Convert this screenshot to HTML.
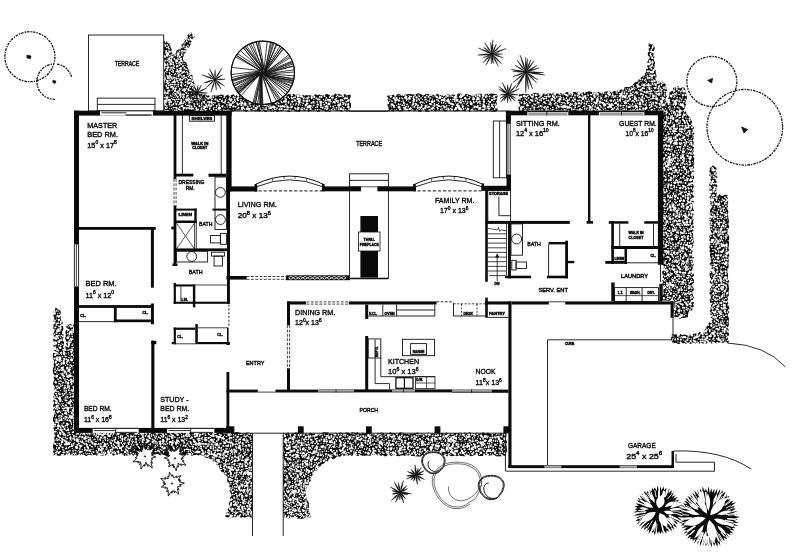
<!DOCTYPE html>
<html><head><meta charset="utf-8"><title>Floor plan</title>
<style>
html,body{margin:0;padding:0;background:#fff}
svg{display:block}
text{font-family:"Liberation Sans",sans-serif;fill:#111;stroke:#111;stroke-width:.42px}
svg{filter:grayscale(1) blur(.32px)}
</style></head><body>
<svg width="800" height="555" viewBox="0 0 800 555">
<rect width="800" height="555" fill="#fff"/>
<path d="M164.7 40.7L166.7 41.3L168 43.3L170.9 43.9L170.2 45.9L170.9 47.7L171.8 49.4L171.1 51.4L172.4 53.1L171.9 55.1L171.3 56.4L172.5 55L174.3 54.1L176.1 53.3L176.2 50.9L177.5 49.7L179.4 48.5L181.1 47.3L181.5 45.2L182.3 43.4L184.5 42.5L183.9 39.7L186.5 39.1L186.7 36.7L187.7 35L189 33.4L191.3 32.2L192.3 34.7L195.1 36.4L193.4 37.5L192.4 39.1L191.9 41L190.7 42.4L190.6 44.6L189.7 46.2L188.5 47.7L186.6 48.8L186.2 50.9L185.6 52.8L184.1 54.3L183.5 56.2L182.9 57.8L183.1 60L184.3 61.4L186.3 62.5L186.8 64.5L187.9 66L187.9 68.2L189 69.9L190.6 71.4L189.9 73.8L192.4 75L192.5 77.1L192.4 79.1L194.1 80.7L193.7 82.7L195 84.3L194 86.4L194.1 88.3L194.9 90.1L196.4 91.7L198.8 91.6L200.2 93.4L202.1 94.2L203.8 95L204.1 97L203.3 99L203 101L204.1 103L203.6 105L205 107L203.6 109L204 110.7L202.1 109.9L200.2 110.3L198.4 111.5L196.5 111.3L194.6 110.6L192.7 112.1L190.8 111.1L189 111.7L187.1 111.8L185.2 112L183.3 110.4L181.4 111.8L179.5 111.6L177.7 111.2L175.8 110.2L173.9 111.9L172 111.1L170.1 110.9L168.3 110.2L166.4 110.3L165.3 111L164 109.2L164.3 107.3L164.2 105.5L165.3 103.6L165.5 101.8L163.7 99.9L163.8 98.1L163.9 96.3L163.9 94.4L164.5 92.6L164.7 90.7L164 88.9L163.4 87.1L164.3 85.2L164.2 83.4L164.6 81.5L165.5 79.7L164.9 77.8L164.5 76L164.8 74.2L164.9 72.3L163.5 70.5L165.4 68.6L165.1 66.8L165.3 64.9L165.2 63.1L164.3 61.3L164.3 59.4L163.6 57.6L164.8 55.7L163.5 53.9L163.5 52.1L163.9 50.2L163.8 48.4L164.1 46.5L163.5 44.7L163.4 42.8Z" fill="#0b0b0b"/>
<path d="M189.7 37.5h.01M190.9 36.4h.01M184.6 40.7h.01M183.3 42.7h.01M185.1 42.6h.01M187.3 41.8h.01M182.8 44.1h.01M184.6 43.8h.01M187.7 45.3h.01M181.7 46.8h.01M188.3 45.9h.01M168.4 50.9h.01M179 49.8h.01M171 52h.01M177.8 52.2h.01M166.4 54.6h.01M171.2 54.6h.01M184.1 53.9h.01M173.4 56.1h.01M182 55.3h.01M167.1 58.5h.01M170.3 57.5h.01M177.7 58.3h.01M179.2 57.5h.01M165.3 60.4h.01M174.3 59.8h.01M175.7 60.1h.01M178.6 59.2h.01M165.6 61.1h.01M175.5 62.1h.01M182.9 61.7h.01M165.2 63.7h.01M167.6 63.3h.01M173.3 63.8h.01M178.9 63.3h.01M180.4 63.7h.01M182.7 63.2h.01M184.3 63.5h.01M185.2 65.3h.01M166 67.6h.01M168.8 67.7h.01M177.8 66.4h.01M181.1 67.5h.01M167.1 69.3h.01M170.4 69.1h.01M172.2 69.4h.01M174.6 68.4h.01M179.2 68.4h.01M184.1 68.9h.01M187.9 69.9h.01M165.4 71.6h.01M171.6 71.4h.01M182 71.7h.01M186.6 71.7h.01M166.9 72.2h.01M169.2 72.6h.01M175.5 73.5h.01M177.8 73.7h.01M185.3 72.6h.01M166.7 75.3h.01M169.4 74.8h.01M171.6 74.5h.01M176 74.1h.01M181.8 75.5h.01M165.8 77.1h.01M173.1 76h.01M177 76.1h.01M169.3 78.6h.01M178.2 78.4h.01M180.7 78.4h.01M183.4 78.3h.01M187.2 78.3h.01M189.5 79.4h.01M191.8 78.4h.01M172.1 79.6h.01M185.3 79.7h.01M169.5 82.4h.01M175.2 82.6h.01M166.6 85h.01M177 84.7h.01M183.2 83.9h.01M185.7 84.5h.01M190.3 85h.01M166 85.4h.01M174.2 86.1h.01M176.8 86.6h.01M178.4 86.7h.01M166.9 88.6h.01M176.3 88.1h.01M181.8 88h.01M184.1 88.6h.01M190.3 87.5h.01M164.8 90h.01M172.1 90.5h.01M173 89.4h.01M180.2 89.3h.01M187.8 89.4h.01M165.5 91.8h.01M170 91h.01M173.5 92.5h.01M179.2 92.1h.01M180.6 92.2h.01M184.3 91.4h.01M185.4 92.5h.01M188 91.5h.01M191.8 91.8h.01M168.9 93.9h.01M172.1 94.1h.01M173.1 93.9h.01M188.4 93.5h.01M191.3 93.6h.01M193.8 94.3h.01M196 93.5h.01M165.5 95.2h.01M167.6 96h.01M172 96.3h.01M174.2 95.6h.01M186.6 96.1h.01M190.9 96.2h.01M192.4 96.5h.01M195.9 95.5h.01M169.1 97.2h.01M171.8 98.4h.01M173.8 97.6h.01M175.3 97.1h.01M180.5 97.7h.01M184.6 97.2h.01M186.9 97.3h.01M191.2 97.1h.01M183.5 98.8h.01M189.6 99.3h.01M167 101.4h.01M174.7 102h.01M175.6 101.3h.01M183.1 101h.01M186.3 101.3h.01M196.2 101.5h.01M199.7 100.7h.01M169.2 103.1h.01M169.7 104h.01M175.7 103.2h.01M176.9 103.6h.01M179.9 103.2h.01M185.6 103h.01M188.6 102.9h.01M192 102.6h.01M199.3 103h.01M173.1 104.5h.01M178.2 104.7h.01M179.8 104.4h.01M185.4 104.4h.01M191 105.3h.01M194.2 105.5h.01M194.8 104.5h.01M165.3 107.6h.01M167.5 107.6h.01M170.1 106.3h.01M174.7 107.5h.01M185 107.4h.01M196.6 107.8h.01M201.6 107.1h.01M166.7 108.1h.01M169.8 108.8h.01M171.6 108.6h.01M172.9 109.8h.01M176.4 109.8h.01M183.3 109.2h.01M200.8 108.9h.01M165.6 110.7h.01M183.3 110.2h.01M200.7 110.5h.01" fill="none" stroke="#fff" stroke-width="1.2" stroke-linecap="round"/>
<path d="M190.6 33.2h.01M189.6 34.4h.01M193.1 35.6h.01M187.2 36.9h.01M193.3 36.2h.01M187.9 39h.01M190.5 38.7h.01M186.5 41.1h.01M188.9 39.8h.01M165.7 41.9h.01M189.8 43h.01M165 44.5h.01M167.3 44.8h.01M170.1 44.8h.01M165.3 46h.01M168.4 46.8h.01M186.4 46.5h.01M166.8 47.5h.01M168.9 48.7h.01M179.9 48.7h.01M181.6 47.5h.01M185.1 48.6h.01M184 50.9h.01M185.6 51.1h.01M165.9 52.9h.01M166.5 52.5h.01M179.7 51.5h.01M182 52.8h.01M184 51.5h.01M174.9 54.1h.01M178.8 53.2h.01M181.8 54.8h.01M169.8 55.5h.01M175.1 55.5h.01M177.6 56.4h.01M169.2 58.2h.01M174.2 58.6h.01M181.2 58.5h.01M167.2 60.5h.01M169.1 61.7h.01M173 62.4h.01M170.3 63.1h.01M171.5 64.1h.01M176.7 63.3h.01M167.8 64.8h.01M170.3 64.6h.01M173.4 64.5h.01M174.1 65.9h.01M177.2 65.5h.01M179.4 65.2h.01M181.3 64.4h.01M183.1 65.8h.01M173.4 67.8h.01M176.8 66.7h.01M183 66.5h.01M184.4 67.9h.01M187.6 66.5h.01M167.5 68.2h.01M177.2 69.3h.01M186.1 69.2h.01M169.9 70.1h.01M173.1 70.5h.01M176.4 71.4h.01M184.2 71.4h.01M189.8 71.2h.01M169.7 73.2h.01M173.2 72.1h.01M182 73.1h.01M183.2 72.2h.01M187.5 72.5h.01M174.6 74.4h.01M178.7 75.1h.01M184.3 75.5h.01M187.6 74.3h.01M189.5 75.2h.01M190.9 74.2h.01M167.7 76.2h.01M174.7 77.6h.01M178.7 76.5h.01M182 77h.01M183.5 76h.01M186.2 77.4h.01M188.4 76.5h.01M165 78.8h.01M173.8 77.8h.01M184.5 77.7h.01M166.8 80.4h.01M170.1 80.2h.01M174.4 80.1h.01M182 79.8h.01M182.7 79.6h.01M190.7 79.9h.01M166.5 82.3h.01M172.3 82.3h.01M178.4 82.7h.01M181.7 82.8h.01M185.4 82.1h.01M187.4 81.8h.01M191.1 82.4h.01M172.9 84.5h.01M175.1 84.6h.01M178.4 84.8h.01M181.2 84.9h.01M166.4 86.6h.01M168.9 85.3h.01M172.3 86.6h.01M180.8 85.5h.01M181.7 85.9h.01M185 85.5h.01M187.1 86.4h.01M189.6 87h.01M190.9 85.4h.01M175.5 88.4h.01M179.7 88.8h.01M186.4 88.5h.01M188.7 88.8h.01M192.7 87.8h.01M168.2 90.6h.01M175.2 90.1h.01M179 90.7h.01M182.6 90.2h.01M190.4 90.5h.01M194.3 89.1h.01M167.7 92.2h.01M191 91h.01M198.5 92.6h.01M178.3 93.2h.01M182.2 94.4h.01M186.5 93.2h.01M198.5 94.6h.01M170.7 95.8h.01M176.4 95.5h.01M179.9 95h.01M180.8 96.2h.01M183.5 96.3h.01M194.4 95.9h.01M202.4 95.9h.01M164.7 97.6h.01M182.9 97.5h.01M188.8 98.2h.01M195.5 96.7h.01M200.4 96.9h.01M166.2 99.9h.01M172.9 99.4h.01M174.8 99.9h.01M176.9 99.3h.01M178.9 99.2h.01M181.1 99.9h.01M195 99.5h.01M196.7 99.8h.01M199 99.1h.01M201.1 98.7h.01M169.1 102.2h.01M177.6 101.6h.01M181.2 101.6h.01M184.3 101.9h.01M189.3 101.4h.01M191.1 100.6h.01M192.7 100.6h.01M196.9 101.8h.01M202.9 101.5h.01M166 102.4h.01M173.5 103.8h.01M183.2 103.3h.01M189.8 102.7h.01M194.1 103.8h.01M197.3 103.8h.01M201.9 103.2h.01M165.3 104.9h.01M166.8 105.8h.01M169.5 104.7h.01M171.9 105.2h.01M176.3 104.4h.01M187.2 105.4h.01M197.6 104.3h.01M199.4 105.7h.01M201.7 105h.01M173.5 107.5h.01M179.6 107.4h.01M181.3 106.2h.01M188.1 107.9h.01M189.7 106.2h.01M191.8 106.7h.01M194.8 106.5h.01M199.6 106.3h.01M165.7 108.2h.01M178.1 108.8h.01M179.4 109.7h.01M193.1 108.7h.01M196.2 108.4h.01M201.8 109h.01M167.5 110.7h.01M174.8 110.4h.01M176.9 110.5h.01M180.8 110.4h.01" fill="none" stroke="#fff" stroke-width="1.7" stroke-linecap="round"/>
<path d="M185.8 38.9h.01M191.3 39.9h.01M183.7 46.4h.01M186.8 48.2h.01M166.2 51h.01M181.9 50.8h.01M169.7 51.7h.01M165 56.7h.01M179.8 56.7h.01M169 59.5h.01M171.1 60.2h.01M180.4 59.3h.01M171.4 61.5h.01M179.4 62.3h.01M181.3 61.1h.01M165.7 65.1h.01M168.2 67.2h.01M171.4 67.7h.01M180.8 68.4h.01M166.9 70.2h.01M177.7 71.1h.01M178.7 72.2h.01M189.8 73.7h.01M180.1 74.6h.01M190.8 77.2h.01M168.1 78h.01M171.7 78h.01M176.4 78.6h.01M167.7 81.1h.01M177.3 80.8h.01M179.9 79.7h.01M188.5 80.2h.01M192.8 80.8h.01M181.2 82.4h.01M189.2 83h.01M168 83.4h.01M170.7 84.6h.01M188.1 83.4h.01M167.9 87.9h.01M171.3 87.2h.01M173.4 88.2h.01M169 90.5h.01M188.8 90.7h.01M174.8 91.1h.01M177.3 91.8h.01M164.8 93.1h.01M167.3 93.2h.01M175.5 93.9h.01M180.2 94.1h.01M183.8 94.5h.01M187.7 95.5h.01M198.2 96.5h.01M201.3 96.2h.01M177.7 96.8h.01M193.9 96.9h.01M202.4 97.7h.01M168.3 99.9h.01M169.9 100.1h.01M185.9 99.6h.01M191.5 99.5h.01M170.9 102h.01M202.5 103.6h.01M182.3 105.9h.01M189.3 105.5h.01M176.3 107.8h.01M183.6 107.8h.01M203.5 107.2h.01M184 108h.01M186.5 108.3h.01M189.8 108.3h.01M191.7 108.6h.01M198 109.5h.01" fill="none" stroke="#fff" stroke-width="2.25" stroke-linecap="round"/>
<path d="M167.9 53.8h.01M177.9 54.5h.01M167.2 55.4h.01M171.8 57.3h.01M176.7 60.8h.01M180.4 70.6h.01M169.9 76.4h.01M174.4 82.1h.01M192.1 84.4h.01M194 85.8h.01M184.5 89.9h.01M194 91.6h.01M200 93.8h.01M166.8 97.6h.01M198.2 96.8h.01M187.6 100h.01M203.3 99.6h.01M165.1 101.2h.01M180.8 103h.01M196.9 110.4h.01" fill="none" stroke="#fff" stroke-width="2.9" stroke-linecap="round"/>
<path d="M203 94.9L205.4 94.3L207.6 95.7L210 95.2L211.8 95.7L213.6 95.3L215.5 95.5L217.3 95.6L219.1 95.2L220.9 94.6L222.7 94.7L224.6 96.3L226.4 95.5L228.2 94.5L230 96.2L231.8 94.8L233.6 94.4L235.5 95.4L237.3 94.8L239.1 95.3L240.9 95.4L242.7 94.7L244.5 95.4L246.4 94.4L248.2 95.3L250 95.4L251.8 94.3L253.6 95L255.4 94.2L257.3 95L259.1 95.9L260.9 95.2L262.7 95.6L264.5 95.7L266.4 94.2L268.2 96.2L270 95.6L271.8 94.2L273.6 95.8L275.5 94.8L277.3 94.3L279.1 96L280.9 95.1L282.7 95.6L284.5 94.2L286.4 95.6L288.2 94L290 94.3L291.8 94.6L293.6 93.8L295.5 95.1L297.3 94.2L299.1 94.4L300.9 95.3L302.7 94.7L304.6 95.7L306.4 95.1L308.2 95.6L310 94.9L311.8 95.7L313.6 95.6L315.4 94L317.3 95.3L319.1 94.4L320.9 95.3L322.7 95.1L324.6 95.4L326.4 93.8L328.2 94.4L330 95.2L331.8 95.6L333.6 95.1L335.4 93.6L337.3 94.8L339.1 93.7L340.9 94.7L342.7 95.2L344.5 93.7L346.4 95.5L348.2 94.9L350.5 94.5L350.7 96.3L350.1 98.2L349.3 100L349.8 101.8L350.9 103.7L351.1 105.5L350.9 107.3L349.3 109.2L350 111.7L348.2 110.9L346.4 111.5L344.6 110.6L342.7 111.3L340.9 111.8L339.1 110.2L337.3 110.9L335.5 110.6L333.7 110.3L331.9 110L330 112.1L328.2 111.3L326.4 111.8L324.6 111L322.8 110.2L321 110.3L319.1 112L317.3 111.7L315.5 110.3L313.7 110.6L311.9 111.2L310.1 111.1L308.3 111.8L306.4 110.2L304.6 111.2L302.8 110.2L301 110.8L299.2 111.9L297.4 111.4L295.6 111.6L293.7 110.1L291.9 110.8L290.1 112L288.3 111.7L286.5 111.3L284.7 111.1L282.9 110.8L281 111.2L279.2 111.3L277.4 112.1L275.6 110.8L273.8 111.4L272 112.1L270.1 111.1L268.3 109.9L266.5 112L264.7 111.8L262.9 110.6L261.1 111.5L259.3 111.5L257.4 111L255.6 111.5L253.8 110.8L252 110.9L250.2 110L248.4 109.9L246.6 112L244.7 110.9L242.9 110.4L241.1 110.2L239.3 110.4L237.5 110.7L235.7 110.7L233.9 111.3L232 111.5L230.2 110.4L228.4 110.2L226.6 110L224.8 110.6L223 111.4L221.1 110.4L219.3 110.5L217.5 111L215.7 110.7L213.9 111.3L212.1 110.9L210.3 111.2L208.4 112L206.6 111.4L204.8 111.4L204.1 111L203 109L202.7 107L202.4 105L202.4 103L202.7 101L202.2 99L201.9 97Z" fill="#0b0b0b"/>
<path d="M205.9 95.2h.01M212.8 95.9h.01M225 95.9h.01M262.3 95.3h.01M279.5 95.1h.01M296 95.6h.01M311.2 94.9h.01M322.3 95.6h.01M343.7 95.8h.01M205.6 96.5h.01M215.9 96.2h.01M219.9 96.4h.01M221.3 96.5h.01M226.3 98h.01M229.6 97.9h.01M230.4 96.7h.01M254.5 97.5h.01M259.7 97.4h.01M266.4 97.4h.01M272 97.2h.01M276.4 97.8h.01M284.2 97.8h.01M297.5 96.9h.01M304.1 97.4h.01M336.5 96.4h.01M347.2 96.8h.01M204.6 98.8h.01M211.4 100h.01M217.3 100.1h.01M222.3 98.8h.01M228.3 99.1h.01M238.7 100.1h.01M245.8 98.4h.01M258.7 98.7h.01M266.6 100.1h.01M272.8 98.4h.01M282.2 98.7h.01M289.4 98.3h.01M294 99.6h.01M300.6 99.2h.01M305.9 98.6h.01M313.9 99.4h.01M316.2 98.6h.01M323.4 99.7h.01M332.2 99.1h.01M213.6 102.3h.01M228.8 102h.01M240.5 101.6h.01M243.3 100.4h.01M244.9 102.2h.01M257.9 100.8h.01M262.9 102.1h.01M276.8 101.8h.01M278 102.2h.01M291.6 101.7h.01M297.1 101.8h.01M304.4 101h.01M312.8 101.6h.01M324.2 101h.01M329.2 101.2h.01M340.8 101.7h.01M209 103.7h.01M211.2 103.8h.01M212.3 103.6h.01M219.4 104.1h.01M222.9 102.7h.01M225 103.5h.01M229.5 103.1h.01M234.7 102.5h.01M250.7 103.2h.01M254.2 103.4h.01M261.7 103.8h.01M265.9 102.9h.01M268.3 104.4h.01M272.7 102.6h.01M278.1 103.4h.01M279.1 103.5h.01M286.8 104h.01M293.3 104.2h.01M301.1 102.6h.01M314.8 102.9h.01M323.5 102.5h.01M327.9 104.2h.01M332.8 102.8h.01M236.8 106h.01M243.7 106.1h.01M253.3 105.9h.01M254.3 105h.01M256.8 105.9h.01M262.5 105h.01M269.6 105.1h.01M270.6 105.2h.01M273.9 106.4h.01M276.9 104.8h.01M286.5 105.8h.01M290.8 105.8h.01M295.6 104.9h.01M300.6 104.8h.01M302.3 105.5h.01M311.2 105.8h.01M318.6 104.9h.01M328 106.4h.01M330.5 106.2h.01M335.1 105.4h.01M214 107.4h.01M222.6 107h.01M224.9 107.2h.01M227.2 106.9h.01M232.6 106.8h.01M237.2 108.3h.01M243.7 108.4h.01M247.4 106.8h.01M260.2 107.9h.01M263 107.6h.01M280.5 106.8h.01M297.5 106.9h.01M302.1 107.7h.01M303.8 108h.01M305.2 106.9h.01M312.6 107.2h.01M315.5 107.5h.01M330.6 106.7h.01M332.8 108.2h.01M334 107.9h.01M342.4 106.6h.01M206.8 109.3h.01M221 110h.01M227.9 109.5h.01M230.1 110.6h.01M233.3 109.9h.01M236.3 110.2h.01M238 108.8h.01M240.1 110.2h.01M256.5 109h.01M260.3 109.3h.01M276 109.4h.01M300.9 109.1h.01M312.1 110.4h.01M321.4 110.5h.01M329.5 110.2h.01M336.8 109h.01" fill="none" stroke="#fff" stroke-width="1.2" stroke-linecap="round"/>
<path d="M229.4 95.5h.01M235.3 95.4h.01M249.4 95.4h.01M258.4 95.3h.01M270.2 95.2h.01M273.1 95.3h.01M277.2 95.6h.01M284.4 96.1h.01M330.7 95.8h.01M333 94.7h.01M337.5 95.3h.01M206.5 97.5h.01M211 96.6h.01M213.4 97.2h.01M224.3 97.2h.01M233.4 97h.01M234.8 97.6h.01M241 97h.01M243.9 96.9h.01M244.6 98.2h.01M248.6 96.7h.01M253.1 98h.01M262.3 97.7h.01M264.2 97.2h.01M269.4 96.7h.01M273.2 98h.01M281.9 97.9h.01M288.3 97.1h.01M291.6 97.6h.01M293.6 97.7h.01M295.2 97.2h.01M300.3 96.3h.01M307.2 97.8h.01M308.8 97.1h.01M316.3 98.1h.01M319.6 96.8h.01M324.6 96.2h.01M326.4 97.9h.01M329.6 97.1h.01M331.8 97.5h.01M339 96.4h.01M340.9 96.3h.01M343.1 96.3h.01M205.5 100h.01M212.2 99.3h.01M219.9 99.3h.01M225.5 99.9h.01M234.7 99.9h.01M240.9 99.8h.01M244.5 98.8h.01M249.6 98.8h.01M257 99h.01M260.8 99.7h.01M269.6 99.2h.01M276.6 99.4h.01M280.8 99.6h.01M285.3 98.8h.01M286.3 99.4h.01M292.1 98.5h.01M303.7 98.6h.01M307.8 98.7h.01M311.7 98.3h.01M319.6 99.4h.01M325.4 100.2h.01M335.2 99.6h.01M336.4 98.6h.01M340.5 100.2h.01M341.9 99.8h.01M347.3 98.4h.01M348.4 100.2h.01M207.7 102h.01M217.4 100.8h.01M218.6 101.3h.01M224.2 102.2h.01M225.4 101.6h.01M233.2 101.5h.01M235.2 101h.01M237.8 100.5h.01M248.5 101.5h.01M251.9 102h.01M253.9 100.7h.01M259.8 102.1h.01M264.7 101.2h.01M267.1 101.6h.01M269.5 102.1h.01M272.5 100.4h.01M281.3 101.5h.01M288.6 101.9h.01M309.3 100.7h.01M313.8 101.8h.01M317.2 101.8h.01M320.1 101.4h.01M325.9 100.5h.01M330.8 101.6h.01M338.1 100.7h.01M342.8 100.5h.01M346.2 101.7h.01M204.3 102.7h.01M206 104.2h.01M215 102.8h.01M218.9 104h.01M228.1 102.6h.01M237 103.2h.01M239.8 103.6h.01M245.7 103.4h.01M249.3 103.8h.01M256.5 102.8h.01M262.6 102.4h.01M281.8 102.4h.01M285.6 104.4h.01M288.5 102.8h.01M290.9 104.1h.01M296.3 103.6h.01M303.2 103.3h.01M306.6 103.3h.01M307.6 103.3h.01M311.4 102.9h.01M313.3 102.7h.01M317.9 104h.01M338 102.4h.01M340.2 103.4h.01M342.5 102.6h.01M343.9 103.2h.01M345.7 104.1h.01M348.3 103.7h.01M204 106.4h.01M213.3 104.6h.01M216.9 105.5h.01M219.3 105.8h.01M222.1 106.3h.01M222.9 105.8h.01M227 104.8h.01M229.1 105h.01M246 105.1h.01M247.8 106.4h.01M250.4 105.6h.01M259.5 105.8h.01M267.1 105.7h.01M278.5 105.9h.01M287.6 106.3h.01M292.2 106.4h.01M298.5 104.7h.01M306.8 104.9h.01M313.6 105.4h.01M317.3 104.7h.01M324.2 104.6h.01M333.1 106.3h.01M340.7 104.8h.01M343.2 104.5h.01M345.6 104.9h.01M207.5 107h.01M210 106.9h.01M216.4 107h.01M218.8 107.5h.01M230.1 107.1h.01M235.5 106.8h.01M238.7 107.7h.01M248.5 108.5h.01M251.4 108.2h.01M253.7 106.8h.01M257.8 106.7h.01M266.1 107.8h.01M268.6 106.6h.01M277 108h.01M281.8 106.6h.01M287.2 107.3h.01M288.8 107.5h.01M294.9 107.8h.01M317.2 106.9h.01M320.9 107.1h.01M325.4 106.7h.01M336.5 107.7h.01M339 107.1h.01M343.9 107.8h.01M347.5 107h.01M209.8 108.8h.01M211.2 110.5h.01M213.7 108.9h.01M218.3 108.8h.01M223.8 110.1h.01M226.2 110.5h.01M244.7 109h.01M253.3 109.6h.01M254.5 109.6h.01M264.1 109h.01M269.3 108.6h.01M274.6 109.2h.01M292.3 110.5h.01M295.7 108.7h.01M304.4 108.8h.01M315.3 109.8h.01M317.5 109.7h.01M320 110h.01M324.9 108.7h.01M326.9 109.5h.01M334.6 109.5h.01M338.8 109h.01M345.6 110.1h.01M348.7 109h.01" fill="none" stroke="#fff" stroke-width="1.7" stroke-linecap="round"/>
<path d="M210.4 95.6h.01M237.9 95.3h.01M244.2 95.9h.01M267.3 95.6h.01M274.7 95.5h.01M281.3 95.1h.01M291.8 95.2h.01M301.4 95.4h.01M313.4 94.9h.01M342.7 94.8h.01M238.3 97.6h.01M249.6 96.6h.01M258.2 96.2h.01M279.4 97.1h.01M285.4 96.4h.01M302.1 96.8h.01M311.7 97h.01M314.2 96.9h.01M321.4 97.2h.01M332.7 97.5h.01M345.7 98.2h.01M208.2 98.4h.01M215.5 99.4h.01M229.7 99.5h.01M231.4 99.4h.01M237.3 98.8h.01M250.9 99.4h.01M253.3 99.9h.01M262.5 99.9h.01M267.7 99.8h.01M275.9 99.9h.01M297.5 98.9h.01M299 98.5h.01M317.9 99.3h.01M328 99.9h.01M329.9 100.1h.01M344.6 98.6h.01M204.1 102h.01M209.4 102h.01M211.5 102.2h.01M221.9 101.1h.01M231 100.4h.01M274.1 101.2h.01M284 101.6h.01M292.4 101.5h.01M295.1 100.6h.01M303.5 100.7h.01M321.2 101.9h.01M334 101.9h.01M336.5 101h.01M348 100.9h.01M232.8 102.8h.01M258.9 104.3h.01M269.7 103.1h.01M275.7 103.3h.01M299.3 102.8h.01M326.1 102.8h.01M334.8 102.6h.01M206.4 105.9h.01M208.8 105.2h.01M211.2 105.7h.01M233.7 106.3h.01M238 104.5h.01M241.4 105.1h.01M280.3 106.3h.01M282.6 106.1h.01M305.6 105h.01M309.5 105.8h.01M320.8 105.2h.01M326.6 106.2h.01M348.2 104.8h.01M204.1 108.3h.01M205.3 107h.01M274.6 107.4h.01M284.5 106.7h.01M291.2 107.3h.01M298.5 108.2h.01M322.5 107.5h.01M327.4 108h.01M348.6 106.9h.01M205.4 110.1h.01M216.4 110.1h.01M242.1 109h.01M249.3 109.1h.01M262 110.6h.01M266.2 109.5h.01M272.4 110.5h.01M279.5 109.4h.01M281.6 109.1h.01M284.5 110.1h.01M285.4 109.9h.01M287.5 109.7h.01M290.3 110.3h.01M297.7 109.3h.01M301.8 109.3h.01M306.7 109.5h.01M310.6 109.2h.01M331.7 110.2h.01M343.2 110.2h.01" fill="none" stroke="#fff" stroke-width="2.25" stroke-linecap="round"/>
<path d="M259.9 96h.01M298.1 95.7h.01M210.4 97.6h.01M250.1 102.2h.01M285.5 101.4h.01M299.3 100.9h.01M306.9 101.1h.01M241.9 102.9h.01M244.8 104.3h.01M320.9 102.5h.01M329 103.9h.01M230.7 104.7h.01M264.8 104.9h.01M338.7 105.2h.01M219.7 108.2h.01M242.5 107.9h.01M256.2 108.2h.01M270.8 107.8h.01M273.3 107h.01M308 107.1h.01M310 106.8h.01M247.4 108.9h.01M341.1 108.9h.01" fill="none" stroke="#fff" stroke-width="2.9" stroke-linecap="round"/>
<path d="M388 95.4L389.8 95.4L391.6 95.5L393.4 94.5L395.3 95.5L397.1 94.6L398.9 93.7L400.7 94.8L402.5 95.2L404.4 94.3L406.2 94.7L408 94L409.8 94L411.6 94.3L413.4 94.5L415.2 94.4L417.1 93.6L418.9 93.4L420.7 94.1L422.5 95L424.3 95L426.1 93.9L428 94L429.8 94.5L431.6 93.8L433.4 94.7L435.2 95.4L437.1 93.8L438.9 94.7L440.7 95L442.5 95L444.3 95L446.1 95L447.9 94L449.8 95.2L451.6 95.4L453.4 93.5L455.2 95.5L457 94.4L458.9 93.6L460.7 93.6L462.5 95.2L464.3 94.9L466.1 93.7L467.9 94.4L469.8 94.8L471.6 95.6L473.4 94.1L475.2 95.1L477 93.9L478.8 93.8L480.6 93.8L482.5 94.3L484.3 94.8L486.1 94.1L487.9 93.8L489.7 93.9L491.6 93.6L493.4 93.8L495.2 94.1L497 94.5L497.7 96.3L497 98.2L497.1 100L496 101.8L497 103.7L496 105.5L497.1 107.3L497.7 109.2L497 110.8L495.2 111.8L493.4 111.7L491.6 111.9L489.7 110.6L487.9 110L486.1 111.2L484.3 111.3L482.5 111.2L480.6 111.3L478.8 110.6L477 111.2L475.2 111.8L473.4 110.2L471.6 110.8L469.8 112.1L467.9 110.2L466.1 110.5L464.3 111.3L462.5 110.7L460.7 110.1L458.9 111.2L457 111.1L455.2 111.4L453.4 110.9L451.6 110.6L449.8 110.5L447.9 110L446.1 111.8L444.3 111.3L442.5 110.2L440.7 110.4L438.9 110.8L437.1 110.6L435.2 111.4L433.4 110L431.6 110.9L429.8 111.2L428 111.7L426.1 111.8L424.3 110.1L422.5 110.3L420.7 112L418.9 111.4L417.1 111L415.2 111L413.4 111.3L411.6 110.1L409.8 111.3L408 110.9L406.2 110.1L404.4 110.7L402.5 111.1L400.7 111.4L398.9 111.2L397.1 110.8L395.3 110.4L393.4 111.5L391.6 111.3L389.8 111.2L387.7 111L388.9 109.2L388.1 107.3L387.5 105.5L387.6 103.7L388.7 101.8L387.3 100L388.4 98.2L386.9 96.3Z" fill="#0b0b0b"/>
<path d="M399 95.2h.01M405.8 95.3h.01M409.1 95.5h.01M418.2 95h.01M423.7 94.8h.01M434.6 95.9h.01M435.6 94.9h.01M439.3 95.7h.01M451.3 96.1h.01M453.5 94.6h.01M456.9 96h.01M488.5 94.6h.01M401.8 97.9h.01M418.1 98.1h.01M422.8 96.2h.01M432.9 96.8h.01M442.6 97.6h.01M450.1 96.2h.01M452.5 96.4h.01M459.9 96.4h.01M469.3 96.7h.01M470.2 97.4h.01M487.8 96.5h.01M492 97.2h.01M389 99.1h.01M390.2 99.9h.01M399.7 100.1h.01M422.4 99.4h.01M424.8 99.9h.01M429.5 99h.01M432.5 99.1h.01M434.4 100h.01M446.1 100.1h.01M450.6 99.4h.01M458.2 99.8h.01M461 99.3h.01M472.4 99.5h.01M482.1 99.2h.01M487.1 99.1h.01M489.7 98.6h.01M389.6 101.5h.01M401.2 101.5h.01M406.5 100.6h.01M408.7 101.1h.01M412.2 100.8h.01M419.4 100.4h.01M423 101.9h.01M426.1 101.2h.01M427.9 100.7h.01M439.5 101.6h.01M441.4 102.2h.01M445 101.4h.01M452.1 101.2h.01M467.8 101.3h.01M484.5 102h.01M492 100.4h.01M493.9 101.6h.01M400.5 104h.01M404.8 103.8h.01M424.3 103.2h.01M426.6 102.4h.01M436.6 104.3h.01M438.5 103.4h.01M441.8 103.2h.01M445.7 103.4h.01M455.7 103.1h.01M461.6 102.9h.01M464.1 103.4h.01M468.9 102.8h.01M477.7 103.2h.01M482.2 104.1h.01M486.5 103.3h.01M493.8 104.1h.01M495.5 103.8h.01M390.1 105.8h.01M396.6 105.6h.01M399.8 104.6h.01M411.9 105.3h.01M415.4 105.4h.01M422.2 105.4h.01M427.2 105.1h.01M430.1 104.7h.01M432 104.9h.01M442.1 105.7h.01M449 105.6h.01M466.2 104.6h.01M471.3 104.7h.01M473.2 105.8h.01M480.2 105.6h.01M489.5 106.1h.01M388 107.2h.01M391.4 107h.01M394.8 107.4h.01M400 107.1h.01M403.3 107.7h.01M408.5 106.8h.01M413.1 106.9h.01M431 107.9h.01M438 108.5h.01M448 107.8h.01M462.3 107.5h.01M465.4 108.2h.01M468.8 108.3h.01M472.9 108.2h.01M486.5 108h.01M490.2 107.8h.01M391.9 109.3h.01M394.7 110.2h.01M396.5 109.6h.01M400.8 109.3h.01M403.7 110h.01M421.5 109.8h.01M425.1 110h.01M428.5 110.2h.01M434.4 108.8h.01M440.6 109.4h.01M445.2 109.7h.01M478.7 109.4h.01M480.9 109.6h.01" fill="none" stroke="#fff" stroke-width="1.2" stroke-linecap="round"/>
<path d="M401.4 95h.01M415.1 95.4h.01M419.1 96.1h.01M426.8 95.5h.01M441.7 94.9h.01M446.7 95.3h.01M460.7 95.2h.01M467.2 95.6h.01M472.1 95.5h.01M479.7 95h.01M482.5 95h.01M486.5 95.6h.01M494.2 95.9h.01M495.9 95.5h.01M391.4 96.5h.01M399.6 98.1h.01M404.9 97.8h.01M409.7 96.5h.01M411.1 96.5h.01M413.6 96.7h.01M421 98.1h.01M428.3 96.9h.01M430.4 97.9h.01M436.1 96.3h.01M444.5 98.1h.01M446 97h.01M464.7 98.2h.01M465.4 97.6h.01M473.3 97.3h.01M475.7 96.2h.01M479.9 96.4h.01M482.5 97.7h.01M489.6 96.4h.01M393.6 98.4h.01M395 99.7h.01M397.5 99.6h.01M402.7 98.6h.01M406.3 98.9h.01M407.1 99.1h.01M413.3 98.4h.01M416.8 100.1h.01M418.9 99.2h.01M425.9 99.4h.01M437 99.7h.01M439 98.3h.01M448.3 99.2h.01M453 99.3h.01M462.3 99.7h.01M465.4 98.7h.01M466.9 99h.01M469.1 98.7h.01M495.7 98.5h.01M392 101.1h.01M395.1 101h.01M396.3 100.4h.01M403.2 101h.01M416.6 100.9h.01M421 101.9h.01M429.5 101.1h.01M434.4 101.3h.01M438.2 100.7h.01M449.1 101.1h.01M454.8 101.2h.01M459.3 101.7h.01M460.7 100.7h.01M463.2 101.6h.01M465.5 101.3h.01M470.5 101.7h.01M473.8 101.5h.01M476.3 101.5h.01M477.9 102.3h.01M488.4 101.2h.01M392.9 104.3h.01M395.2 102.6h.01M398.4 104.1h.01M407.1 104.3h.01M410.1 102.5h.01M413.2 103.1h.01M415.3 103.7h.01M416.5 104.2h.01M420.2 102.8h.01M422.6 102.6h.01M429.8 103.5h.01M434.5 103.8h.01M443.6 102.8h.01M452.6 103.9h.01M458.1 103.8h.01M467.2 103.1h.01M473.9 102.5h.01M480.1 103.4h.01M483.8 104.2h.01M488.9 104.1h.01M491.9 104.4h.01M392.1 105.1h.01M402.2 105.2h.01M404.1 105.3h.01M406.1 106.4h.01M408.3 106.4h.01M421.6 104.9h.01M443.8 105.9h.01M446.6 105.5h.01M452.1 104.6h.01M453.6 104.7h.01M462.2 105h.01M468 105.7h.01M475 106.4h.01M477.8 105.9h.01M485.1 106.2h.01M495.1 104.8h.01M394.1 107.2h.01M410.5 108.2h.01M414.6 106.9h.01M421.7 106.8h.01M427.3 107.4h.01M437.3 107.4h.01M441 106.6h.01M446 107h.01M450.8 108.5h.01M452 106.7h.01M457.9 107.7h.01M459.7 107.8h.01M467.5 108.3h.01M480.7 107.5h.01M484.9 107.8h.01M493.3 107h.01M390.4 110.5h.01M412.8 110.2h.01M419.3 109.3h.01M437.8 108.8h.01M441.9 109.1h.01M446.8 109.2h.01M456.1 109.1h.01M463.5 108.9h.01M467 109.9h.01M484.6 109.4h.01M488.4 110.5h.01M489.2 108.8h.01M492.2 110.6h.01M494.6 109h.01" fill="none" stroke="#fff" stroke-width="1.7" stroke-linecap="round"/>
<path d="M395.3 95.6h.01M403.6 94.9h.01M429.7 95.3h.01M431.7 94.8h.01M447.8 95.9h.01M456.1 95.1h.01M462.4 96h.01M464.1 94.7h.01M474 94.8h.01M477.8 95h.01M390.7 96.5h.01M393.9 98h.01M396.4 98h.01M416.6 97.4h.01M425.1 97.4h.01M436.9 97.2h.01M456.4 97.6h.01M477.5 97.7h.01M485.9 97.1h.01M494 96.8h.01M414.2 99.6h.01M441.8 100.2h.01M454.7 99.3h.01M476.9 99.6h.01M478.7 98.9h.01M484 99.7h.01M492 100h.01M494.3 99.1h.01M398.9 100.7h.01M413.8 101.1h.01M479.6 101.5h.01M483.8 101.8h.01M490 102.1h.01M388.2 103h.01M391.7 104.4h.01M403.8 103h.01M430.8 104h.01M449.1 102.8h.01M450.8 103.5h.01M460.6 102.6h.01M393.8 105.8h.01M412.9 104.6h.01M417.7 105.5h.01M425.7 105.9h.01M434.5 105.5h.01M437.3 105h.01M439 106h.01M457 105.2h.01M463.1 106.5h.01M488 106.4h.01M492.1 106.1h.01M417.8 107.8h.01M420.2 107.7h.01M425.2 107.8h.01M428.8 106.8h.01M433.2 107.5h.01M444.4 107.4h.01M456.1 107.9h.01M474.6 107.3h.01M477.1 107.2h.01M488.4 108.3h.01M400 109.4h.01M407.1 109.6h.01M409.5 109.1h.01M410.7 108.6h.01M416.7 110.6h.01M423.3 108.9h.01M429.9 110.2h.01M432 108.8h.01M448.8 109.3h.01M452.1 109.6h.01M455.1 109.5h.01M461.3 109.4h.01M468.1 109.5h.01M472.5 110.5h.01M475.5 110.6h.01" fill="none" stroke="#fff" stroke-width="2.25" stroke-linecap="round"/>
<path d="M443.9 94.9h.01M483.3 95.5h.01M406 97.1h.01M440.2 97.5h.01M454.9 97.2h.01M460.6 96.9h.01M409.4 98.4h.01M444 100h.01M473.6 99h.01M432.3 101.7h.01M447.7 101h.01M457 100.4h.01M471.3 103.8h.01M458.5 106.4h.01M483.7 106.4h.01M398.9 107.3h.01M404.9 108.5h.01M479.4 108.4h.01M496.1 107.2h.01M459.5 108.9h.01M471.7 110.5h.01M483.4 110.1h.01" fill="none" stroke="#fff" stroke-width="2.9" stroke-linecap="round"/>
<path d="M519 94.6L520.8 94.3L522.6 93.8L524.4 93.9L526.2 94.3L528 94.1L529.8 95.2L531.6 94.2L533.4 93.4L535.2 93L537 93.2L538.8 93.5L540.6 94.5L542.4 94.6L544.2 93.1L546 94.3L547.8 93.5L549.6 93.6L551.4 93.6L553.2 92.4L555 92.4L556.8 93.7L558.6 93.7L560.4 93L562.2 94.1L564 93.8L565.8 92.6L567.6 92L569.4 93.1L571.2 93.2L573 92.2L574.8 91.8L576.6 92.7L578.4 91.6L580.2 93.1L582 92.8L583.8 92L585.6 92.3L587.4 91.8L589.2 91.6L591 91.6L592.8 92.9L594.6 92.1L596.4 92.6L598.2 91.7L600.1 92.7L601.8 92.1L603.7 92.1L605.4 91.4L607.3 91.6L609 90.6L611 92.2L612.8 91.4L614.6 91L616.4 91.1L618.1 89.8L619.8 90.2L621.5 89.2L623.8 89.6L624.8 87.1L626.9 87.1L629.1 87.2L630.8 86.2L632.5 85.2L633.7 83.7L635.1 82.2L637.3 81.7L638.2 79.7L640.3 79L641.3 77.1L643.5 76.3L644 74.4L645.3 73L646.5 71.5L646.1 69.2L648.1 68.1L646.9 66L648.9 64.2L647.1 62.3L648.2 60.5L648 58.7L648.8 56.8L647.9 55L647.7 53.1L649 51.4L648.6 49.5L649.1 47.7L648.5 45.8L648.6 43L651.1 44.6L654.2 44L653.8 45.9L654.9 47.7L654.4 49.5L653.6 51.4L653.5 53.3L653.9 55.2L654.4 57L653.9 58.9L654.1 60.7L655.2 62.5L654.6 64.4L654.6 66.3L654.4 68.2L655.7 69.9L655.7 71.8L655.8 73.6L656.6 75.4L656.3 77.3L655.7 79.2L656.5 81.2L658.5 80.7L660.2 82.2L662.3 81.3L663.5 82.7L665.3 83.9L666 85.6L666.3 87.4L666.4 89.3L667.5 91.1L666 92.7L665.6 94.5L666.9 96.5L665.7 98.1L665.6 100.2L667.1 102.1L668 103.9L669.7 102.3L670 100.5L668.2 98.4L669.1 96.6L669.4 94.8L669.5 92.6L671.1 91.4L673.2 90.6L672.9 87.8L674.9 87.7L676.8 86.8L678.7 86.3L680.3 88.5L682.3 87.3L684.6 87.8L685.3 89.8L685.3 91.9L686.3 93.8L686.7 95.8L687 98.1L686.1 100L686.1 102L686.2 104.1L685.4 106L684.7 107.9L684.6 110.3L686.3 111.4L686.2 113.7L687.5 115.1L688.9 116.5L690.1 118L691.1 119.9L692.2 121.7L691.3 124.3L692.6 126.1L694.4 128L692.6 129.8L692.6 131.6L694.5 133.4L693 135.2L694.1 137L693.4 138.8L692.7 140.6L693.8 142.4L693.5 144.2L693.1 146L694.1 147.8L693.2 149.6L693.6 151.4L692.4 153.2L694.1 155L693 156.8L694.4 158.6L693.9 160.4L694.2 162.2L694.2 164L693.3 165.8L694.1 167.6L692.7 169.4L694.3 171.2L693.1 173L692.6 174.8L694.2 176.6L694 178.4L692.8 180.2L693.4 182L692.4 183.8L693.7 185.6L693.6 187.4L692.3 189.2L693.7 191L692.3 192.8L692.5 194.6L694 196.4L693.2 198.2L692.3 200L694.1 201.8L692.5 203.6L692.7 205.4L692.7 207.2L693.1 209L694.2 210.8L692.3 212.6L694.1 214.4L692.6 216.2L692.8 218L693.6 219.8L692.8 221.6L693.4 223.4L692.7 225.2L694.2 227L692.3 228.8L693.5 230.6L692.5 232.4L693.3 234.2L692.5 236L693.6 237.8L693.1 239.6L694.2 241.4L693.2 243.2L694.1 245L692.4 246.8L692.8 248.6L693.3 250.4L692.1 252.2L692.2 254L692.1 255.8L694.1 257.6L692.7 259.4L692.6 261.2L692.9 263L694.2 264.8L692.2 266.6L693.2 268.4L692.9 270.2L692.4 272L693.6 273.8L694.1 275.6L692.2 277.4L693.6 279.2L694.1 281L693.9 282.8L692 284.6L692.5 286.4L693.7 288.2L693.8 290L692.2 291.8L692.7 293.6L692.9 295.4L693.8 297.2L693.2 299L692 300.8L694.1 302.6L693.2 304.4L694 306.2L692.1 307.4L692.5 310.2L689.8 310.8L688.9 312.6L687.9 314.4L688 316.9L686 317.6L683.9 318L681.9 318L679.8 318.8L677.7 318L675.7 317.3L672.8 318L674.4 316.2L673.4 314.4L673.1 312.6L673 310.8L673.5 309L673.9 307.2L673.8 305.4L674.5 303.6L673.6 301.8L673.6 300L671.8 298.9L670 300.6L668.2 301.1L666.3 300.4L664.5 300.4L661.9 300L662.5 298.2L661.7 296.4L663.6 294.6L662.7 292.8L663.5 291L663.1 289.2L663.2 287.4L663.3 285.6L662.3 283.8L663.2 282L662.1 280.2L662.8 278.4L662.9 276.6L663.3 274.8L662 273L662.4 271.2L663.4 269.4L663.4 267.6L663.8 265.8L661.9 264L662.1 262.2L661.8 260.4L663.2 258.6L663.2 256.8L663 255L663.3 253.2L662.7 251.4L662.8 249.6L663.6 247.8L663 246L663 244.2L662.9 242.4L662.7 240.6L663.3 238.8L662.9 237L661.9 235.2L662.5 233.4L662.5 231.6L662.6 229.8L662.8 228L662.4 226.2L662.5 224.4L662.5 222.6L662.4 220.8L663.7 219L661.8 217.2L661.6 215.4L663.2 213.6L662.5 211.8L662.6 210L662.9 208.2L662.4 206.4L662.1 204.6L661.6 202.8L663.5 201L663.7 199.2L662.2 197.4L662.6 195.6L662.3 193.8L661.7 192L663.6 190.2L663.4 188.4L662.1 186.6L662.2 184.8L663.1 183L663.4 181.2L662.6 179.4L662.5 177.6L662.1 175.8L663.4 174L663.5 172.2L663.5 170.4L661.9 168.6L662.9 166.8L663.8 165L663.2 163.2L662.6 161.4L661.9 159.6L661.7 157.8L663.2 156L661.8 154.2L663.4 152.4L663.1 150.6L662.6 148.8L663.6 147L663.7 145.2L663 143.4L661.8 141.6L662.9 139.8L662.5 138L662.1 136.2L663.6 134.4L663.2 132.6L661.9 130.8L662.1 129L662.4 127.2L662.9 125.4L662.3 123.6L662.6 121.8L663.4 120L662 118.2L663.2 116.4L662.3 114.6L663.7 112.8L662.7 110L660.9 111.4L659.1 110.8L657.2 111.9L655.4 111.2L653.6 110.7L651.8 110.7L650 111.3L648.1 112L646.3 111.8L644.5 110.9L642.7 111.7L640.9 111.4L639.1 110.7L637.2 110.1L635.4 111L633.6 111.5L631.8 110.8L630 111.5L628.1 110.4L626.3 111.8L624.5 111.5L622.7 111.1L620.9 110.1L619 111.7L617.2 111.7L615.4 111.8L613.6 111.6L611.8 111.4L609.9 111.2L608.1 110.4L606.3 111.2L604.5 111.1L602.7 111.2L600.9 110.4L599 110.1L597.2 111.2L595.4 110.1L593.6 111.5L591.8 109.9L589.9 110.9L588.1 110.6L586.3 111.3L584.5 111.5L582.7 111.8L580.8 110.2L579 111.3L577.2 110.6L575.4 111.1L573.6 110.9L571.8 111.6L569.9 111.7L568.1 111.4L566.3 110.6L564.5 110.9L562.7 112.1L560.8 110.5L559 111.1L557.2 111.9L555.4 111.5L553.6 111.6L551.7 110.3L549.9 110.9L548.1 111.4L546.3 111.6L544.5 111.5L542.6 111.5L540.8 111.3L539 110.4L537.2 110.4L535.4 110.6L533.6 110.2L531.7 110.7L529.9 111.9L528.1 112L526.3 111.7L524.5 111.5L522.6 110.9L520.8 110.3L519.2 111L518.8 109.2L518.4 107.3L520.1 105.5L519.6 103.7L518.7 101.8L518 100L520.1 98.2L518.5 96.3Z" fill="#0b0b0b"/>
<path d="M648.9 44.2h.01M653.6 47h.01M653 56.8h.01M653.9 58.6h.01M650.1 65.8h.01M653.8 66.8h.01M647.6 68.2h.01M646.7 73.9h.01M649.1 73.5h.01M647.6 75.6h.01M643.7 77.1h.01M646 76.7h.01M650 77.6h.01M655.8 77.1h.01M651.7 78.8h.01M653.3 79.9h.01M638.1 80.9h.01M641.1 81.4h.01M644.4 80.4h.01M649.1 80.9h.01M638.4 83.2h.01M639.3 82.3h.01M642.1 83.2h.01M645.1 83.6h.01M646.7 82.5h.01M653.8 84.8h.01M656.7 86h.01M659.6 85.4h.01M631.2 87.5h.01M634.9 87.3h.01M638 87.4h.01M647.8 87.5h.01M651.8 88.2h.01M654 87.4h.01M660.6 88.2h.01M674.8 88.2h.01M683.7 88h.01M625.3 89.1h.01M627.3 88.7h.01M634.3 89.4h.01M636 88.6h.01M644 88.6h.01M646.4 89.1h.01M653.5 90.3h.01M660.2 89.2h.01M682 90h.01M637.7 92h.01M678.1 90.9h.01M681.7 90.9h.01M582.7 93.1h.01M587.6 94.1h.01M590.7 94.3h.01M605.2 93.1h.01M610.6 93.8h.01M612.9 93.7h.01M616.2 92.8h.01M631.5 93.5h.01M634.7 93.1h.01M638 92.7h.01M648.9 93.9h.01M652.2 93.6h.01M664.5 93.2h.01M672.5 94.2h.01M678 94.1h.01M680.9 93.8h.01M683.5 94.3h.01M544.8 96.4h.01M550.3 96.2h.01M555.1 95.2h.01M558.2 96.2h.01M560.8 94.7h.01M562.9 94.9h.01M570.3 94.7h.01M596.1 95.8h.01M598.4 96.2h.01M600.2 96.2h.01M602.1 94.9h.01M617.1 95.7h.01M638.7 94.8h.01M640.6 94.6h.01M643.3 95.2h.01M646.3 96h.01M650.2 95.8h.01M652.1 94.6h.01M661.2 94.9h.01M664.9 96.1h.01M676.6 94.9h.01M679.3 94.6h.01M524.6 98h.01M539 97.7h.01M542.6 97.7h.01M547.1 96.7h.01M561.3 97.5h.01M563.3 97.4h.01M569.6 98.1h.01M575 96.9h.01M586.9 97.5h.01M590.3 97.2h.01M597.4 97.7h.01M598.3 98.2h.01M604.7 97.1h.01M608.5 96.7h.01M611.4 97h.01M617.8 97.3h.01M632.2 97.3h.01M646.8 96.9h.01M649.7 97.2h.01M656 97.5h.01M657.8 98.2h.01M660.5 97.6h.01M671.6 96.8h.01M673.8 97.4h.01M679.6 97.9h.01M680.4 98.1h.01M682.7 97.8h.01M522.6 99.9h.01M525.3 98.9h.01M532.3 99.2h.01M534.1 99h.01M546.5 100.2h.01M554.2 100.4h.01M565.8 100.3h.01M581.1 100.2h.01M588.5 99.1h.01M596.5 98.9h.01M600.5 98.9h.01M602.2 99.7h.01M607 99.2h.01M610 100.5h.01M622.3 99.1h.01M623 99.3h.01M628.1 100.2h.01M640.8 98.9h.01M643.9 100h.01M646.3 100.5h.01M654.8 98.6h.01M659.1 99.9h.01M665.2 99h.01M669.6 99.4h.01M679.2 100.1h.01M520 101.5h.01M526.5 102.4h.01M528.9 101.1h.01M551.4 100.7h.01M557.7 101.2h.01M561.3 102.5h.01M564.4 102.5h.01M569 102.3h.01M571.9 101.2h.01M578.4 100.7h.01M584.7 100.9h.01M603.6 102.3h.01M608.3 102.1h.01M623.4 101.6h.01M640.8 102h.01M645.3 101h.01M649.1 102.4h.01M657.3 100.8h.01M664.9 100.8h.01M669.3 102.2h.01M672.3 100.7h.01M681.1 101.2h.01M684.9 101.2h.01M521.7 103.2h.01M524 104h.01M533.4 103.9h.01M537.1 103.4h.01M542.8 104h.01M544.9 103.4h.01M546.1 103.7h.01M557.2 103.5h.01M588.9 103.3h.01M593.4 104.6h.01M598 103.2h.01M614.5 103.4h.01M618.1 103.6h.01M621.8 103.1h.01M624.5 103.3h.01M628.2 103.4h.01M629.9 104.4h.01M635.8 103.6h.01M637.5 103.1h.01M642.7 103.9h.01M646.5 102.8h.01M650.1 104.3h.01M653.4 103.4h.01M670.1 102.8h.01M678.1 103.8h.01M680.4 103.7h.01M532.9 106.1h.01M535.7 104.9h.01M539 104.8h.01M542.3 106.1h.01M547.8 106.4h.01M550.7 104.9h.01M551.5 105h.01M555.5 105h.01M567.2 106.2h.01M569.4 106.1h.01M573.8 105.4h.01M580.1 105.8h.01M583.5 106.3h.01M589.4 105.4h.01M597.8 104.8h.01M600.6 105.9h.01M616.1 106.5h.01M624.7 105.5h.01M630.1 105.7h.01M634 106.2h.01M639.6 106.3h.01M643.7 104.7h.01M646.5 106.2h.01M653.4 104.8h.01M656.8 106.4h.01M664.9 105.1h.01M666.2 106h.01M671 104.8h.01M674.5 106.5h.01M675.5 105.5h.01M679.3 104.9h.01M524.6 108.7h.01M527.1 106.8h.01M532 108.1h.01M537.3 107.3h.01M541.8 107.8h.01M550.5 108.6h.01M558.9 107.6h.01M577.7 107h.01M582.5 107.5h.01M592.6 108h.01M595 107.3h.01M602.8 107.9h.01M618.7 106.8h.01M621 108.4h.01M623.1 107.4h.01M626.7 107h.01M633.4 107.2h.01M635.4 108.2h.01M639.7 106.8h.01M652 106.7h.01M665.5 108.6h.01M670.4 108h.01M672.3 108h.01M683.2 107.2h.01M526.6 108.9h.01M528.2 109h.01M535.1 110.5h.01M539.2 109.9h.01M539.7 110.1h.01M550.3 108.9h.01M553.8 109.3h.01M558.7 110.2h.01M561.6 109.8h.01M566.8 110.1h.01M568.5 110.4h.01M576.1 109.6h.01M577.8 109.6h.01M584.8 109.8h.01M586.6 109.2h.01M596.1 109.4h.01M600.6 109.6h.01M603.4 109.6h.01M608 110.3h.01M611.5 109.5h.01M616.4 109.4h.01M623 109.7h.01M641.8 110.1h.01M648.7 110.6h.01M654.9 110.5h.01M662.9 109.4h.01M666.9 110.2h.01M673.9 109.9h.01M676.6 110.6h.01M683.8 110.3h.01M548.7 110.9h.01M563.3 110.9h.01M670.7 111.3h.01M672.9 111.3h.01M664 114h.01M671.5 113.2h.01M683.4 113.1h.01M687.2 114.3h.01M668.1 116.3h.01M686.1 115.7h.01M664.7 117.9h.01M676 117.2h.01M680.5 117.4h.01M688 118.6h.01M667.9 120.6h.01M673.3 119.3h.01M683.9 120.4h.01M670.9 121.8h.01M673.2 122h.01M679 122.6h.01M680.4 122.9h.01M663.4 123.4h.01M672.4 123.2h.01M682.4 123.4h.01M684.4 123.2h.01M688.3 124.1h.01M668.8 126.6h.01M677.1 126.8h.01M680.9 125.5h.01M663.6 128.1h.01M666.1 127.1h.01M668.7 127.7h.01M666.9 129.3h.01M671.5 129.2h.01M693.1 129.8h.01M663 132.3h.01M665 131.2h.01M676.7 131.4h.01M684.5 131.4h.01M663.7 134.1h.01M666.7 134.9h.01M681 134.3h.01M683.9 133.4h.01M688.6 134.8h.01M692.2 134.2h.01M662.8 137.1h.01M673.7 137.1h.01M682.8 135.8h.01M692.4 136h.01M664.7 137.4h.01M671.4 138.5h.01M679.3 138.1h.01M681.9 138.6h.01M685.1 139.2h.01M688.2 138.1h.01M691.2 138.7h.01M693.2 137.3h.01M687.9 139.4h.01M664.3 142.3h.01M688.7 142.6h.01M691.8 142.9h.01M675 143.9h.01M681.9 145h.01M684.6 144.1h.01M674.1 145.5h.01M683.5 146.5h.01M689.6 147.3h.01M663.2 148.2h.01M671.3 149h.01M675.7 148h.01M677.4 147.5h.01M680.5 148.9h.01M682.8 148.8h.01M664.6 150.3h.01M671.2 151.3h.01M674.5 150.9h.01M676.1 150.4h.01M680.7 150.4h.01M685.3 150.2h.01M692.5 151.1h.01M666.5 152.6h.01M670.6 153.3h.01M672.2 153.2h.01M679.6 152.4h.01M687.2 152.1h.01M691.7 152.9h.01M678.4 154.8h.01M682 153.9h.01M686.3 153.8h.01M692.1 154.4h.01M665.9 156h.01M675.3 156.2h.01M677.1 157.5h.01M686.2 158.8h.01M688.2 158.1h.01M686.4 161.2h.01M692.4 161.4h.01M673.6 163.6h.01M681 163.1h.01M687.2 163.1h.01M693.2 163.1h.01M675.1 164.9h.01M682.5 164h.01M687.7 164.8h.01M665.6 166.1h.01M672.1 166.8h.01M675.5 167h.01M681.7 167.6h.01M686.7 166.9h.01M687.1 166.5h.01M664.9 168.8h.01M675.5 169.4h.01M676.7 169.3h.01M679.8 169.4h.01M681.9 168h.01M686.3 169.7h.01M667.3 169.8h.01M668.4 170.4h.01M675 169.9h.01M683.6 171h.01M693.2 170.9h.01M663.7 173.8h.01M666.2 172h.01M668.4 173.7h.01M672.1 172.5h.01M679.2 172.1h.01M683.1 172.5h.01M688.5 173h.01M664.2 175.7h.01M666.1 174.7h.01M678.4 175.3h.01M668.5 176h.01M676 177.7h.01M677.5 176.2h.01M684.2 176.3h.01M686.7 177.6h.01M689.5 176.1h.01M665.4 179.8h.01M668.9 179.4h.01M673.1 178.6h.01M679.3 179.2h.01M684.2 178.8h.01M686 179.8h.01M662.8 181.2h.01M673.3 180.2h.01M689.5 180.4h.01M663.9 183.2h.01M667 183.8h.01M671.4 182.7h.01M676.7 182.6h.01M683 182.8h.01M688.8 183h.01M664.1 185.3h.01M665.7 184.9h.01M673.2 185.3h.01M679.9 185.3h.01M691.8 185.3h.01M662.9 187.3h.01M668.5 186.8h.01M671 186.8h.01M679.7 187.9h.01M691.1 187.6h.01M666.5 189.4h.01M668.3 188.3h.01M670.8 188.3h.01M674.8 189h.01M669.3 190.3h.01M670.8 191.5h.01M675 191.1h.01M676.7 192h.01M680.6 191.9h.01M683.1 191.7h.01M689.9 191.9h.01M692.6 190.2h.01M668.7 193.8h.01M669.7 192.9h.01M675.9 194.2h.01M678.2 194h.01M663.9 195.3h.01M673.7 194.6h.01M678.7 194.8h.01M681.2 194.9h.01M663.4 197.7h.01M690.8 197.2h.01M667.9 200.2h.01M668.7 199.9h.01M672.1 198.8h.01M675.6 199.9h.01M685.5 198.5h.01M669 202h.01M672.2 202.1h.01M674.6 201.8h.01M677.7 201.5h.01M682.8 200.8h.01M668.8 202.8h.01M690.1 203.1h.01M666.4 206.2h.01M675.7 205.6h.01M679 205.4h.01M683.8 205.3h.01M671 208h.01M676.8 208h.01M678.3 208h.01M693.2 206.8h.01M665.2 209.6h.01M681.8 210.2h.01M683.7 208.5h.01M664.1 211.5h.01M666.4 211.8h.01M670.2 210.7h.01M671.8 210.8h.01M678.8 210.6h.01M686.4 211.1h.01M690.4 212.1h.01M662.9 214.1h.01M668.7 213.5h.01M675.9 214h.01M681.3 213.1h.01M686 214.4h.01M691.2 213.2h.01M671 216.2h.01M693.1 214.9h.01M667.6 217.1h.01M669.9 217.7h.01M677.3 218.3h.01M682.2 216.7h.01M692.4 217.9h.01M662.9 219.3h.01M666 219.6h.01M675 219.5h.01M679.4 220.4h.01M680.8 220.5h.01M692.2 219.4h.01M672.7 221.9h.01M664.7 222.9h.01M668.5 223.8h.01M673.7 223h.01M693.2 224.3h.01M667.4 226.6h.01M675.7 225.5h.01M672.6 228.4h.01M674.5 227.4h.01M679.5 227.1h.01M684 227.4h.01M686.1 227.5h.01M687.6 228.2h.01M665.5 229.2h.01M670.8 230.2h.01M677.9 230.1h.01M679.1 230.1h.01M681.8 229.4h.01M685.8 231h.01M688.6 231.2h.01M668.8 233.7h.01M670.9 233.2h.01M678.3 233.5h.01M680.7 234.2h.01M664.5 235.3h.01M669.7 236.1h.01M674.1 235.3h.01M678.8 236.1h.01M684.9 236.6h.01M663.7 238.1h.01M666.7 237.4h.01M671.4 238.5h.01M672.3 238.1h.01M679.6 238.2h.01M682.9 237.2h.01M666.4 240h.01M669.1 240.4h.01M673.3 239.6h.01M679.6 240.7h.01M680.3 240.6h.01M687.4 239.1h.01M667.8 241.6h.01M672.6 242.6h.01M675.5 243h.01M668.7 243.2h.01M685.1 244.3h.01M689.5 243.5h.01M672 246.8h.01M683.1 246.7h.01M685.4 245.2h.01M664.1 247.4h.01M667.4 248.5h.01M668.7 248.5h.01M675.7 248.1h.01M679.1 249.1h.01M668.6 250h.01M672.5 250.1h.01M674.9 250h.01M678.3 250.9h.01M683.8 251.2h.01M688.6 251h.01M665 252.5h.01M671.6 252.5h.01M689 251.5h.01M672.6 254.3h.01M681.7 253.4h.01M677 256.3h.01M688.8 257.2h.01M689.6 255.8h.01M665.3 257.6h.01M668.4 257.4h.01M673.8 259h.01M678.2 258.5h.01M663 261.2h.01M666.4 260.4h.01M669.5 260.7h.01M672.4 260.4h.01M674 260.8h.01M681.2 260.2h.01M692.9 259.5h.01M669.9 263.3h.01M688.6 262.1h.01M665.6 264.1h.01M672 264.3h.01M678.5 264.4h.01M688 263.9h.01M689.9 264h.01M668 266.5h.01M671.4 265.6h.01M682 267h.01M688.6 266.1h.01M691.3 266.1h.01M676.3 268.9h.01M683.8 268.7h.01M692.5 269.2h.01M670.6 270h.01M677.7 270.6h.01M679.7 271h.01M682 269.7h.01M685.4 270.8h.01M664.4 272.3h.01M670.1 272.3h.01M679.5 272.2h.01M663.9 275.4h.01M666.6 275.5h.01M682.1 275.1h.01M687.5 275.3h.01M666.4 276.7h.01M672.5 277.4h.01M674.7 276.2h.01M686.7 277.3h.01M688.7 275.9h.01M692.3 277.3h.01M665.4 279.6h.01M671.4 278.9h.01M673.1 278.9h.01M691.3 279.3h.01M666.1 280.9h.01M669.7 280.9h.01M675.8 280.2h.01M680.3 281.4h.01M685.3 280.7h.01M664.2 283.4h.01M676.6 282.1h.01M686 282h.01M664.5 285.7h.01M678.4 283.9h.01M691.1 285.7h.01M692.5 284.8h.01M663.3 286.4h.01M675.2 286.3h.01M680.1 286.4h.01M682.1 286.6h.01M686.4 286.8h.01M690.9 287.2h.01M671.4 289h.01M677.2 289.8h.01M684.3 288h.01M686.7 289.1h.01M673.2 291.3h.01M675.8 291.4h.01M678.2 290.7h.01M686.5 290.3h.01M691 290.5h.01M677 293.7h.01M681.8 292.6h.01M692.7 293.1h.01M666.2 295.3h.01M675.7 294.4h.01M691.2 295.4h.01M672.2 297.4h.01M673.7 296.7h.01M675.6 297.5h.01M684.3 297.2h.01M686.2 296.5h.01M687.9 296.2h.01M666.5 299h.01M674.6 299.2h.01M685.3 298.9h.01M690.2 298.7h.01M674 301.1h.01M682.2 303.8h.01M685.1 302.2h.01M674.5 306h.01M690.1 306.4h.01M680.1 309h.01M683.8 310.1h.01M687.6 310.3h.01M689.4 311.2h.01M673.7 313.7h.01M680.7 314.2h.01M683.7 312.8h.01M684.9 312.9h.01M677.1 315.1h.01M685.9 314.4h.01" fill="none" stroke="#fff" stroke-width="1.2" stroke-linecap="round"/>
<path d="M653.6 44.7h.01M649 47.3h.01M652.7 46.2h.01M651.5 49.5h.01M652.3 47.8h.01M648.6 51.2h.01M653.9 51.6h.01M650.8 53.5h.01M650.3 54.3h.01M650.9 55.5h.01M654 55.1h.01M649 57.2h.01M651.4 56h.01M648.7 58.6h.01M652.4 61.4h.01M652.2 65.2h.01M651.8 66.1h.01M651.4 68.8h.01M653.8 69.8h.01M649.3 71h.01M652.4 71.8h.01M644.4 74.7h.01M650.1 75.2h.01M647.6 77h.01M652.1 78.1h.01M640.4 79.5h.01M642.5 79.4h.01M645.5 79.4h.01M647.9 78.3h.01M656.1 78.4h.01M646.1 81.3h.01M651.4 81.4h.01M657.6 81.8h.01M648.5 83.9h.01M652.4 83.9h.01M654.8 83.5h.01M657.1 83.3h.01M662.8 83.3h.01M633.3 85.8h.01M637 84.5h.01M642 85.1h.01M646.4 85.3h.01M650.8 85.4h.01M661.5 84.8h.01M633.5 88.2h.01M639.9 86.7h.01M644 88.1h.01M665.3 86.5h.01M676.9 87.7h.01M679.1 87.5h.01M623 89.7h.01M629.3 89.2h.01M638.8 89.5h.01M649.8 89.2h.01M654.8 88.4h.01M661.8 89.6h.01M665.3 88.4h.01M674 90.2h.01M676.7 89.4h.01M678.9 90.4h.01M682.8 89.2h.01M603.5 92h.01M612 91.9h.01M616.2 91.1h.01M622.2 92h.01M624.4 92h.01M626.2 90.5h.01M628.7 91.3h.01M633 92h.01M640.3 90.6h.01M642.2 91h.01M649.9 91.4h.01M655.1 91.8h.01M656.9 91.7h.01M661 91.2h.01M664.3 91h.01M666.2 91.6h.01M673.7 91.7h.01M674.5 90.8h.01M680.5 91.6h.01M541.6 94.3h.01M545.1 93.9h.01M551.7 93.5h.01M559.5 93.8h.01M564.6 94.2h.01M572.7 93.8h.01M581 92.9h.01M584.7 92.8h.01M592.8 93.7h.01M598.2 94h.01M603.3 93h.01M617.1 93h.01M619.8 93.5h.01M624.3 93.6h.01M630.5 93.4h.01M637 93.5h.01M643 94.4h.01M646.2 92.7h.01M656.2 93.7h.01M657.8 94.2h.01M661.8 93h.01M676.5 93h.01M520.8 96.5h.01M527.8 95.5h.01M530.6 95.6h.01M533.3 94.8h.01M536.7 95.2h.01M539.5 94.5h.01M546.4 96.5h.01M548.2 94.8h.01M552.7 95.5h.01M572.2 94.9h.01M575 95.2h.01M579.5 96.4h.01M582.2 94.8h.01M584.1 96.2h.01M585.6 95.8h.01M588.2 95.3h.01M591.2 94.6h.01M605.8 95.3h.01M606.6 96.2h.01M615.1 95.9h.01M628.8 96.2h.01M634.8 96h.01M645.7 95.8h.01M656.1 96.1h.01M664.4 95.1h.01M673.1 94.6h.01M674.6 96.3h.01M526.6 96.6h.01M528.5 98.1h.01M531.7 97h.01M540.1 96.7h.01M546.1 98.2h.01M554.5 97.2h.01M556.7 96.8h.01M560.2 96.6h.01M566.5 98.1h.01M571 97.4h.01M573.5 97.6h.01M579 97.6h.01M580.5 97h.01M585.1 97.4h.01M591.4 98.1h.01M605.8 96.7h.01M613.3 97.1h.01M615 96.8h.01M620.7 97.8h.01M622.6 96.9h.01M627.1 98.1h.01M629.1 97h.01M635 97.4h.01M636.1 98.3h.01M639 97.9h.01M644.3 98.3h.01M647.9 97.4h.01M663.8 98.2h.01M677.2 97.6h.01M520.1 99h.01M526.8 99.9h.01M530.9 99.8h.01M537.4 99h.01M539.5 100h.01M541.3 98.7h.01M548.3 100.3h.01M555 98.6h.01M569.3 99.6h.01M572.8 100.2h.01M577.7 100.5h.01M579.4 100.3h.01M586 98.7h.01M591.6 99.3h.01M604.6 100.3h.01M611.1 100.1h.01M614.7 99.9h.01M617.5 99.5h.01M625.7 100.4h.01M633 100.3h.01M638.7 100.4h.01M648.9 99.9h.01M651.1 98.8h.01M673 100.4h.01M675.6 100.3h.01M681.5 99.3h.01M685.4 99.4h.01M521.4 102.6h.01M524.3 101.6h.01M531.3 100.6h.01M532.7 100.9h.01M535.6 100.7h.01M537.5 101.8h.01M541.1 100.6h.01M543.8 102h.01M544.8 102.2h.01M548.5 100.7h.01M550.1 102.2h.01M554.6 100.9h.01M559.6 102h.01M567.3 101.5h.01M573.7 101.2h.01M575.5 102.5h.01M581.4 100.8h.01M582 102.5h.01M589.1 101h.01M591.8 101h.01M594.2 102.2h.01M600 101.2h.01M600.9 102.2h.01M613.4 101.1h.01M615.6 102.4h.01M617.8 101.4h.01M620.3 101h.01M624.9 101.3h.01M627.5 101.3h.01M628.7 100.7h.01M632 101.1h.01M634.1 101.7h.01M639.9 102.5h.01M650.8 102.1h.01M653.2 102.4h.01M655.4 102.4h.01M660.9 101.1h.01M667 101.7h.01M675.6 102.4h.01M683.5 101.7h.01M527.4 104.2h.01M529.9 102.8h.01M534.8 104.4h.01M538.9 102.8h.01M549.3 104.2h.01M550.9 103.6h.01M554.4 103.8h.01M555.8 102.7h.01M561.3 104.5h.01M562.9 102.8h.01M565.1 103.8h.01M570.7 103.9h.01M572.2 104h.01M575 103.8h.01M576.6 103.9h.01M581 103.9h.01M584.3 103.4h.01M586.3 103.9h.01M591.7 103.6h.01M599.8 102.9h.01M607.2 103.5h.01M632.5 104.1h.01M651.8 104.1h.01M659.3 103.7h.01M661.1 103.7h.01M665.5 102.8h.01M685.5 103h.01M519.6 105.7h.01M522.1 106.6h.01M523.4 106.6h.01M526.9 105.1h.01M528.3 105.5h.01M532.2 105.8h.01M545.3 106.5h.01M561.2 106.7h.01M575.2 105.6h.01M578.8 106.2h.01M584.6 106.2h.01M588.3 105.5h.01M592.6 105.9h.01M595.2 106h.01M599.7 105.3h.01M604.1 105.9h.01M609.4 106.6h.01M613.1 105.1h.01M623.3 105.7h.01M626.5 106h.01M632 106h.01M640.9 106.4h.01M649.3 105h.01M655.3 105.7h.01M660 105.1h.01M669.7 106.6h.01M522.6 107.5h.01M530.3 108.6h.01M538.7 106.7h.01M546.4 108.2h.01M548 107.1h.01M552.7 107.5h.01M556.6 107.9h.01M561.1 106.8h.01M563.2 107.6h.01M571.7 108h.01M575.2 107.4h.01M580 108.5h.01M584.8 108.3h.01M587 108h.01M589.4 107.7h.01M601 107.1h.01M605.3 108.4h.01M611.4 107.5h.01M614.5 107.9h.01M617.5 108.1h.01M645.3 108.4h.01M650 107.6h.01M654.5 108.5h.01M656.8 107h.01M659.3 107.6h.01M660.8 107.1h.01M662.7 108.6h.01M668.6 107.5h.01M674.5 107.6h.01M677.3 107.3h.01M679 107.9h.01M684 107h.01M530.9 110.4h.01M534.3 108.8h.01M542.1 109.9h.01M546.1 109.9h.01M548.1 109.9h.01M552.2 109.8h.01M556.7 110.4h.01M571.9 109.8h.01M573.9 109.4h.01M581.8 109.6h.01M589.4 109.9h.01M594.2 109.3h.01M605.9 110.5h.01M618 109.1h.01M620.4 110.3h.01M624.2 109.2h.01M626.3 109.1h.01M632.9 110.2h.01M634.5 110.1h.01M637.2 109.4h.01M643.3 110h.01M645.2 109.1h.01M651.3 109.9h.01M652.3 109.5h.01M660.9 110.2h.01M664 110.3h.01M669.7 109.3h.01M671.7 110.5h.01M679.6 110.3h.01M684.8 109.9h.01M530 110.9h.01M578.5 111h.01M597.3 111h.01M664.2 110.9h.01M667.3 112.5h.01M681.8 110.9h.01M684.8 111.4h.01M666.2 113.7h.01M669.3 114.1h.01M673.5 113.2h.01M675.6 113.8h.01M677.9 114.3h.01M685 114.4h.01M666.5 116.4h.01M671 116.2h.01M672.4 115.9h.01M675 115h.01M682.7 116.3h.01M667.2 117.9h.01M668.7 118.2h.01M679.3 117.8h.01M682.8 117.2h.01M685.9 118h.01M689.5 118.7h.01M663.1 120h.01M666.8 119.7h.01M670.7 120.4h.01M680.2 120.9h.01M686.6 120.5h.01M662.8 121.1h.01M670.2 122.4h.01M687.3 122h.01M665.6 124.8h.01M668.4 123.4h.01M669.7 123.6h.01M677.2 124.5h.01M679 123.6h.01M687.6 123.5h.01M691.8 124.4h.01M667.2 126.1h.01M671.9 126.8h.01M679.6 125.8h.01M690.1 125.5h.01M673.8 128.2h.01M674.9 128.3h.01M677 128.4h.01M679.9 128.3h.01M681.8 128.4h.01M684.8 128.2h.01M665.5 129.2h.01M669.9 129.6h.01M679.5 129.7h.01M681.3 129.7h.01M683 129.4h.01M684.8 130h.01M688.4 131h.01M667.8 132.2h.01M670.5 131.6h.01M673.8 131.8h.01M675.4 131.2h.01M680 131.6h.01M687.4 132.7h.01M689.7 132.7h.01M692.4 132.6h.01M662.9 134.3h.01M672.1 133.7h.01M674.7 133.6h.01M685.9 133.7h.01M689.9 134.1h.01M665.9 135.7h.01M668.8 137h.01M671 136.9h.01M675.4 136.3h.01M677 136h.01M680.3 135.4h.01M687 135.3h.01M688.5 136h.01M673.6 138.1h.01M668.6 139.9h.01M672.5 140.7h.01M681.6 140.4h.01M685.1 139.9h.01M689.2 140.8h.01M691 140.3h.01M667.3 141.7h.01M669 141.7h.01M676.7 142.1h.01M679.6 143.2h.01M684.1 142.4h.01M664.1 145.3h.01M668.7 145.3h.01M670.6 143.6h.01M673.7 143.5h.01M680.2 144.3h.01M686 143.8h.01M689.7 144.3h.01M663.8 146.3h.01M677.1 146.6h.01M680.6 146.9h.01M687.8 146.3h.01M693.2 146.1h.01M668.9 148.3h.01M672 149.3h.01M683.9 148.1h.01M687.6 148.8h.01M689.5 147.5h.01M691.5 149.1h.01M678.6 150.2h.01M683 150h.01M689 149.6h.01M690.7 150.1h.01M663.6 152.7h.01M668.2 153.3h.01M674.8 152h.01M677.1 153.1h.01M684.2 151.7h.01M689.8 152.6h.01M665.6 154.9h.01M666.4 155.3h.01M670.2 154.2h.01M672.7 154.7h.01M673.9 154.5h.01M677.3 155.4h.01M688.5 153.6h.01M690.8 153.7h.01M673.1 155.8h.01M680.8 155.8h.01M683.6 157.2h.01M689.1 156.8h.01M667.1 158.7h.01M671.4 159h.01M678 158.7h.01M663.8 159.9h.01M666.3 161.4h.01M668.4 160.2h.01M674.8 161.3h.01M677.9 160.8h.01M679.8 160.4h.01M682.9 159.7h.01M689.4 161.2h.01M664.8 162.9h.01M667.2 162.1h.01M671.5 162.6h.01M678.3 163.5h.01M686.4 163.7h.01M663.3 164.4h.01M665.2 164.1h.01M670.1 164.8h.01M672.5 164.6h.01M680.7 165.2h.01M684.7 164.2h.01M689.3 164.8h.01M690.6 164h.01M668.7 167.4h.01M678.8 167.4h.01M689.9 167.5h.01M668.1 169.4h.01M673.2 168.2h.01M689.8 168.3h.01M690.9 169.7h.01M672.7 170.6h.01M679.2 170.4h.01M681.7 170.3h.01M686.5 170.8h.01M688.5 171.4h.01M669.7 173.2h.01M685.3 173.6h.01M686.8 172.6h.01M668.7 175.5h.01M673.9 175.8h.01M675.6 175.8h.01M683.7 175.8h.01M685.9 174h.01M688.2 175.7h.01M691.4 175.1h.01M664 176.1h.01M665.6 176.9h.01M673.7 177h.01M680.6 177.8h.01M683 177.7h.01M692.1 177.1h.01M666.1 179.3h.01M676.2 179.9h.01M681 178h.01M690.9 179.1h.01M692.8 179.3h.01M668.7 180.6h.01M676.1 180.4h.01M677.5 180.9h.01M679.7 181.7h.01M681.4 181.6h.01M685 180.2h.01M668.8 184h.01M681.1 182.7h.01M692.4 183.2h.01M674.4 185.9h.01M678.3 185h.01M682.7 185.5h.01M687.7 185.5h.01M665 187.2h.01M667.8 186.9h.01M674.1 187.3h.01M676.5 187.4h.01M680.8 187.6h.01M683.8 187h.01M685.7 187.1h.01M688.3 187.8h.01M672 188.7h.01M676.8 190h.01M682.7 188.4h.01M685.5 189.6h.01M686.1 188.6h.01M688.9 188.7h.01M691.3 188.3h.01M664 191.1h.01M679.6 190.8h.01M686.2 191.9h.01M688.9 191.4h.01M664.2 192.6h.01M665.1 192.7h.01M673.4 193.2h.01M684.9 192.3h.01M687.8 193.7h.01M691.5 193.2h.01M667.7 195.1h.01M670.2 196.1h.01M672.6 195.8h.01M685.6 194.9h.01M690.3 195.4h.01M665 197.7h.01M671.9 197.5h.01M675.3 197.1h.01M677.8 197.6h.01M680.8 198.2h.01M682.6 196.5h.01M685.3 197.2h.01M687.6 198.1h.01M674.8 199.2h.01M678 198.6h.01M681.2 200.1h.01M683.8 200.2h.01M688 199.5h.01M664.4 201.1h.01M670.2 201.2h.01M687.4 200.9h.01M664.7 204.1h.01M667.4 203.9h.01M672 204h.01M679.4 204.2h.01M682 203.6h.01M686.3 204.4h.01M687.7 203.4h.01M692.6 203.1h.01M667.5 204.7h.01M669.9 205h.01M677.6 205.1h.01M683 205.3h.01M686.2 204.7h.01M690 205.6h.01M664.9 206.7h.01M667.8 208.3h.01M683.8 206.8h.01M686.3 208.4h.01M691.3 207.7h.01M664.5 209.3h.01M667.3 209.7h.01M675.2 209.1h.01M677.5 210.2h.01M679.1 208.8h.01M687.4 209.2h.01M690.8 209h.01M674.1 210.7h.01M680.7 211.4h.01M684 211.1h.01M688.7 211.9h.01M665 213.2h.01M670.2 214.2h.01M673.8 213.6h.01M677.3 213.3h.01M679.4 213h.01M685.3 213.3h.01M663.9 215.5h.01M668.9 216h.01M679.3 214.8h.01M681.2 214.8h.01M683.4 215.1h.01M688.5 215.6h.01M685.3 217.9h.01M688.7 218.3h.01M664.9 218.9h.01M670.8 219.6h.01M676.2 220.7h.01M682.9 220.4h.01M685.1 219.2h.01M687.2 219.7h.01M663.3 221.1h.01M670.4 222.2h.01M677.2 221.6h.01M682.9 221.9h.01M684.6 222.7h.01M666.2 224h.01M672.5 224.4h.01M680.6 223.5h.01M683.7 223.3h.01M685.2 224.4h.01M687.6 224.3h.01M690.3 224h.01M663.7 225.7h.01M665.2 225.3h.01M671.3 224.8h.01M678 225h.01M679.8 225.7h.01M682.2 225h.01M684.5 224.9h.01M688.7 224.9h.01M691.7 225.7h.01M664.2 227.6h.01M666 228.1h.01M669.6 228h.01M676.1 227.9h.01M680.6 227.9h.01M691 227.2h.01M692.3 228.5h.01M667.8 230.3h.01M672.9 229.5h.01M687.9 230.1h.01M691.1 229.3h.01M671.2 232.4h.01M678.1 232.2h.01M690.7 232.8h.01M692.8 232.2h.01M672 234.1h.01M676 234.8h.01M683.9 233.1h.01M686.1 233.3h.01M688.9 233.3h.01M691 234.3h.01M663.1 235.4h.01M670.9 235.4h.01M676.9 235.8h.01M683.9 235.9h.01M690.8 236.1h.01M684.9 237.5h.01M687.4 237.9h.01M688.3 238.8h.01M691.8 238.2h.01M665.2 239.1h.01M676.4 239.3h.01M685.4 240.6h.01M690.6 239.7h.01M692.9 240.4h.01M669.6 242h.01M678.3 242.8h.01M679 242.1h.01M681.4 243h.01M684.6 242.6h.01M687.4 242.9h.01M689.6 242.5h.01M692 241.9h.01M670.8 243.3h.01M676 244.3h.01M680.7 244.4h.01M683.5 244.7h.01M687.2 244.7h.01M693.2 244.6h.01M668.6 245.4h.01M671 246.5h.01M677.9 245.8h.01M680.6 246.8h.01M670.8 248.3h.01M673.7 248.3h.01M685.5 248.1h.01M688.5 247.4h.01M664.4 250.8h.01M671.3 250.6h.01M679.9 250.1h.01M681.9 250.4h.01M669.1 251.8h.01M677.1 252.9h.01M678 252.6h.01M683 251.6h.01M685.3 253h.01M690.6 251.4h.01M663.7 254.7h.01M666.3 253.8h.01M668.9 253.9h.01M675.2 254.5h.01M680.3 254.9h.01M686.5 255h.01M689.9 254.3h.01M663.7 255.6h.01M668.8 257.2h.01M672.3 255.8h.01M673.3 257.1h.01M677.9 256.7h.01M680.7 256.7h.01M683.9 256.1h.01M692.6 256.7h.01M675.9 257.5h.01M680.3 258.8h.01M682.7 258.1h.01M683.7 257.7h.01M690.1 259h.01M691.9 258.8h.01M665.2 261.1h.01M686.4 261.4h.01M690.9 259.5h.01M664.4 263h.01M665.2 262.8h.01M668.8 263.3h.01M672.4 262h.01M674.4 261.9h.01M679.2 263.1h.01M682 263.1h.01M686.8 263h.01M691.3 261.7h.01M667.3 264.7h.01M669.6 264.8h.01M673.2 265.4h.01M677 265.4h.01M681.5 265h.01M683.3 263.9h.01M685.8 265.2h.01M663.3 266.9h.01M672.9 266.7h.01M674.5 266h.01M677.7 266.4h.01M679 266.6h.01M684.3 266.8h.01M666.7 269.3h.01M674.4 269.2h.01M688.4 269.1h.01M690.2 268.1h.01M663.7 269.9h.01M667.8 270.9h.01M675 271.1h.01M686.7 269.9h.01M671 273.6h.01M674.7 272.2h.01M688.6 273.2h.01M670.8 275h.01M672.1 273.8h.01M676.1 273.7h.01M677.5 274.8h.01M678.9 275h.01M683.9 274.8h.01M691.6 274.5h.01M664.8 276.6h.01M669.4 276.3h.01M677.1 276.3h.01M681.3 276.7h.01M684.1 276.4h.01M690.5 277.1h.01M667.7 278h.01M676.9 279.6h.01M679.1 278.7h.01M682.3 278.8h.01M685 279.5h.01M687.2 278.3h.01M688.4 277.8h.01M664.3 280.6h.01M672.4 279.8h.01M677.9 281.1h.01M683.8 280.2h.01M688.3 280.6h.01M690.7 281h.01M692.4 281.5h.01M666.7 283.2h.01M672.3 282.1h.01M674.7 282.5h.01M679.2 281.9h.01M685 283h.01M689.2 283.1h.01M690.7 282.2h.01M666.9 285.2h.01M675.5 285h.01M681.1 284.1h.01M682.9 284h.01M685.7 284.6h.01M688.5 285.4h.01M667.7 286h.01M669.6 286.8h.01M672.4 286.9h.01M684.5 287.2h.01M667.1 288.7h.01M674.5 288.3h.01M679.1 289.1h.01M681.2 288.2h.01M689.5 288.3h.01M691.9 288.3h.01M662.8 290h.01M666.4 291.2h.01M668.8 290.4h.01M671.2 290.1h.01M684.9 290.3h.01M688.8 291.7h.01M665.4 293.5h.01M668 293.6h.01M669.5 292.1h.01M674.1 293.3h.01M683.9 292.9h.01M685.9 293.4h.01M687.9 293.2h.01M667.6 295.4h.01M670.6 294.1h.01M676.7 295.4h.01M679.5 295.9h.01M682.4 294.4h.01M684.8 294.6h.01M686.1 294.6h.01M689.4 294.2h.01M667.9 297.4h.01M679.2 297.8h.01M680.4 296.7h.01M690.8 296.7h.01M692.3 297.4h.01M663.8 298.6h.01M667.7 299.6h.01M672.3 298.9h.01M678.1 299.1h.01M680.8 299.7h.01M683 299.5h.01M686.7 299.2h.01M690.7 298.5h.01M675.8 300.4h.01M678.8 301.7h.01M680.5 301.2h.01M683.5 300.3h.01M684.8 302h.01M688.2 301.7h.01M691.3 301h.01M676 302.6h.01M677.5 302.4h.01M680 303.3h.01M690.7 302.8h.01M678 305.5h.01M681.2 304.2h.01M691 304.7h.01M675.8 307h.01M678.3 306.6h.01M679.1 306.9h.01M684.4 307.9h.01M686.5 307.4h.01M691.1 307.8h.01M675.4 309.3h.01M679.1 309.7h.01M686.4 309.5h.01M688.1 308.6h.01M690 309.8h.01M674.3 311.9h.01M678.2 310.9h.01M679.3 311.2h.01M681.3 310.7h.01M684.3 310.8h.01M676.5 314h.01M679 313h.01M688.9 313h.01M674.3 314.6h.01M679.6 316.3h.01M684.2 315.6h.01M676.7 317.5h.01" fill="none" stroke="#fff" stroke-width="1.7" stroke-linecap="round"/>
<path d="M651.2 51.4h.01M652.9 52h.01M652.1 58h.01M649.8 61h.01M650.3 63.2h.01M652.6 62.5h.01M650.3 67.3h.01M654.8 69.2h.01M647.9 71.3h.01M653.6 70.1h.01M650.9 72.2h.01M654.4 75h.01M649.3 78.2h.01M652.6 81.6h.01M654.7 80.9h.01M658.8 82.7h.01M661.5 82.3h.01M655.7 84.9h.01M642.7 88.1h.01M649.4 87.8h.01M655.6 87.8h.01M659 86.6h.01M663.7 87.7h.01M632 89.2h.01M641.2 89.6h.01M649.3 88.6h.01M658.4 88.6h.01M596.5 92.3h.01M608.9 92.2h.01M618.5 90.9h.01M630.4 90.6h.01M636 92.3h.01M644.4 91.9h.01M651.4 91h.01M658.6 91h.01M569.2 93.5h.01M571.9 93h.01M594.9 93.5h.01M597.5 94.4h.01M601.4 92.6h.01M608.1 93.4h.01M621.8 93.7h.01M626.8 93.7h.01M641.1 93.8h.01M650.5 93.5h.01M659.4 93.6h.01M674.9 94.1h.01M523.9 95.9h.01M525 96.4h.01M535.6 95.2h.01M541.3 95.3h.01M566 94.8h.01M567.5 95.7h.01M577.7 95.6h.01M594.1 95.7h.01M612.7 95.3h.01M619.8 96h.01M623.2 96.2h.01M625.7 95.8h.01M630.1 95.5h.01M632.2 95.1h.01M659 94.8h.01M682.8 95.4h.01M685.5 94.9h.01M519.2 97.4h.01M521.2 96.9h.01M532.8 96.8h.01M536.3 98.2h.01M549.1 96.6h.01M553.1 96.7h.01M594.7 96.9h.01M601.3 97.9h.01M642.2 97.2h.01M652.9 98.3h.01M662.4 97.7h.01M543.8 98.7h.01M563.8 99.3h.01M567.6 100.4h.01M575 99.4h.01M583.2 98.9h.01M592.8 99.1h.01M597.4 99.3h.01M619.8 99.9h.01M629.9 99.2h.01M661.5 100.5h.01M663.2 99h.01M676.9 100.4h.01M586.9 101.6h.01M606.5 101h.01M610.9 100.8h.01M636.6 100.6h.01M642.9 101.8h.01M679.3 101.4h.01M524.7 103.3h.01M567.8 103h.01M579 103.2h.01M602.4 102.9h.01M609.2 104.4h.01M611.7 104.2h.01M615.9 103.2h.01M645.5 104.6h.01M656.6 103.2h.01M664.2 104.6h.01M668.7 104.1h.01M673.6 104.4h.01M682.4 104.4h.01M540.7 106.1h.01M557.4 105.7h.01M558.8 106.6h.01M570.3 105.1h.01M605.3 104.8h.01M617.9 104.9h.01M620.6 105.6h.01M651.4 106.1h.01M520.9 107.8h.01M534.3 107.5h.01M544.3 107.5h.01M569.8 107.5h.01M608.2 107.2h.01M610 106.7h.01M628.7 107h.01M629.8 107.1h.01M636.9 107.1h.01M643.2 108.5h.01M521.2 109.3h.01M525.2 110.6h.01M564.7 110h.01M579.8 110h.01M591.8 109.4h.01M599.2 109.4h.01M612.7 109.2h.01M630.5 110.5h.01M639.8 109.4h.01M658.6 110.7h.01M680.1 110.3h.01M546.3 110.9h.01M666.2 111.6h.01M674.5 112.2h.01M677.4 111.3h.01M680.3 114.5h.01M677.2 115.9h.01M679.5 115.1h.01M683.9 115h.01M670.8 118h.01M675.9 120.5h.01M677.6 120.2h.01M682.8 119.5h.01M689.6 120.5h.01M666.1 122.5h.01M676.9 121.6h.01M684.2 121.1h.01M685 122.7h.01M674.2 124.9h.01M664.6 126.1h.01M682.6 125.8h.01M685.6 125.8h.01M688.6 125.5h.01M670.2 128.4h.01M686.3 127.9h.01M688.4 127.4h.01M692 127.4h.01M675.7 129.2h.01M689.7 130.9h.01M681.8 132.1h.01M668.6 134h.01M677.3 135.1h.01M678.9 134h.01M684.2 136.9h.01M666.6 138.1h.01M669.5 138.6h.01M675.5 137.9h.01M683.2 137.9h.01M663.5 140h.01M665.3 139.6h.01M675.4 140.7h.01M677.2 139.8h.01M679.9 139.3h.01M671 141.9h.01M681.4 143.3h.01M686.4 142.2h.01M691.1 142.6h.01M665.7 144.5h.01M676.7 143.9h.01M691.6 144.7h.01M666.7 146h.01M669 145.9h.01M671.7 146.7h.01M679.4 147h.01M685 145.6h.01M665.4 148.8h.01M667.6 149.6h.01M669.6 150h.01M683.2 155h.01M669.9 156.5h.01M682.3 156.9h.01M687.5 155.8h.01M690.8 156.9h.01M663.2 159h.01M664.3 158.2h.01M669.2 157.8h.01M673.4 158.5h.01M675.4 157.8h.01M680.9 158.2h.01M684.1 158.7h.01M672.5 160.7h.01M683.8 161.2h.01M676.9 163.5h.01M682.5 162.9h.01M689.8 162h.01M677.2 164.2h.01M692 167.6h.01M685.1 169.2h.01M664.6 170.1h.01M674.4 172.3h.01M677.8 172.5h.01M692.5 173.2h.01M671.7 174.1h.01M680.8 174h.01M692.4 174.7h.01M670.8 177.6h.01M671.4 178.6h.01M687.6 178.9h.01M665.4 180.2h.01M670.6 180.2h.01M687.1 180.4h.01M678.2 182.7h.01M685.5 183h.01M691.1 183.4h.01M668.4 185.3h.01M671.1 185.2h.01M683.8 186h.01M663.4 189.5h.01M680.2 188.3h.01M666.6 191.4h.01M680.2 193.8h.01M681.7 192.6h.01M689.2 193.9h.01M683.2 196.1h.01M687.7 195.5h.01M667.9 196.4h.01M670 197.6h.01M688.4 197.9h.01M664.5 200.1h.01M691.2 200.1h.01M665.4 201.5h.01M680 200.9h.01M683.9 200.9h.01M688.6 202.2h.01M690.6 202.2h.01M673.4 204.3h.01M675.9 202.5h.01M682.7 203.8h.01M663.3 206.2h.01M681.7 206.7h.01M670.8 209.9h.01M673.6 209.8h.01M690.1 209.5h.01M689 214.4h.01M666.3 216.1h.01M673.6 215h.01M677.4 215.6h.01M691.3 215.4h.01M663.9 217.3h.01M665.1 218.3h.01M672.8 218.5h.01M675.7 216.7h.01M679.3 216.9h.01M690.5 220.2h.01M667.4 221.8h.01M674.3 221.1h.01M690.1 222.1h.01M690.6 221.2h.01M677.2 224.2h.01M678.8 224.1h.01M673.5 226h.01M686.6 224.9h.01M663.5 229.4h.01M684.2 229.6h.01M689.7 229.4h.01M663.7 232.5h.01M666.2 232.6h.01M669.4 231h.01M673.1 231.1h.01M677.1 232.4h.01M680.9 232.4h.01M684.2 231.5h.01M666.4 233.6h.01M682.1 233.1h.01M667.8 235.7h.01M681.9 236.8h.01M688.1 236.3h.01M669.1 238.5h.01M675.6 237.3h.01M676.7 237.4h.01M666.7 242h.01M663.1 243.7h.01M665.6 244.7h.01M666.4 245h.01M673.1 244.6h.01M678.4 243.3h.01M665.9 246.5h.01M675.5 246.6h.01M687.1 245.2h.01M688.8 246h.01M681.6 248.3h.01M690.7 248h.01M665.9 251h.01M686.6 249.5h.01M680.3 251.7h.01M671.2 254.3h.01M677.3 253.7h.01M685.2 254.3h.01M690.9 254.7h.01M667.4 257.1h.01M686.4 256h.01M670.1 259h.01M687.8 259.3h.01M678.8 260.5h.01M682.9 261.1h.01M687.5 261h.01M677 262.1h.01M684.5 262.5h.01M692.3 263.7h.01M665.4 267.1h.01M664.4 269.1h.01M669.6 268.5h.01M672.3 268.8h.01M678.7 267.8h.01M680.1 269.2h.01M665.2 270.3h.01M673.7 270.1h.01M689.9 271.5h.01M692.2 271.4h.01M666.9 271.7h.01M680.5 272.4h.01M683 272.8h.01M685.2 272.9h.01M689.9 272.5h.01M692.4 272.8h.01M688.9 275.5h.01M679.4 276.4h.01M663.2 279.2h.01M674.8 277.8h.01M673.5 280.6h.01M667.3 283.3h.01M669.9 282.8h.01M668.7 284.8h.01M665.5 287h.01M677.1 287.4h.01M689.6 286.5h.01M664 288h.01M669.4 288h.01M688.7 288.3h.01M679.4 290.2h.01M681.8 290h.01M662.8 293.1h.01M671 293.3h.01M678.5 292.3h.01M690.7 293.1h.01M673.8 295.9h.01M663.9 298h.01M669.9 297.5h.01M691.9 301.2h.01M686.1 303h.01M689.7 303.9h.01M675.8 304.6h.01M682.6 304.8h.01M686.7 304.3h.01M687.4 305.1h.01M682.9 307.5h.01M674.8 318h.01M678.3 317.9h.01M680.1 316.7h.01" fill="none" stroke="#fff" stroke-width="2.25" stroke-linecap="round"/>
<path d="M648.9 64.1h.01M652.6 72.1h.01M651.9 75.9h.01M638 86h.01M644.1 85.2h.01M648.5 85.2h.01M647.3 91.9h.01M683.8 91.2h.01M554.7 93.8h.01M578.8 93.5h.01M609.5 94.6h.01M621 95.3h.01M653.5 96h.01M671.1 96h.01M582.6 98h.01M624.8 97.1h.01M552 99.5h.01M559 100.5h.01M560.1 98.9h.01M635.1 98.7h.01M641.6 100h.01M656.6 98.9h.01M597.3 101h.01M661.7 101.8h.01M674.9 101.7h.01M595.8 103.1h.01M604.2 104.4h.01M625.5 102.9h.01M639.9 104.1h.01M675.7 103.7h.01M563.5 106.4h.01M610.9 105.7h.01M635.9 105.9h.01M662.8 105h.01M681.4 104.9h.01M682.9 105.6h.01M565.4 106.8h.01M567.7 107.4h.01M590.4 107.2h.01M597.7 107.9h.01M646.2 108.1h.01M679.6 112.2h.01M673.1 118.5h.01M665.4 122.5h.01M673.8 126.1h.01M673.5 130.9h.01M670.5 139.4h.01M674.9 143.2h.01M683.1 152.1h.01M669.1 157.3h.01M690 158.6h.01M670.2 160.1h.01M669.5 162.3h.01M668.2 164.8h.01M666.8 166.2h.01M674.5 167.4h.01M684 167.2h.01M663.8 168h.01M670.7 168.9h.01M676.1 170.6h.01M691.4 170h.01M690.7 180h.01M674.7 182.8h.01M689.4 184.6h.01M675.4 196.1h.01M692.7 199.3h.01M673 206.3h.01M691.2 205.4h.01M670 207.2h.01M674.6 207.9h.01M687.7 207.2h.01M676.7 211.6h.01M692.4 212.3h.01M685.2 215.9h.01M686.5 217.4h.01M669.9 218.7h.01M666.8 221.7h.01M679.4 220.8h.01M686.9 222.2h.01M675.1 230h.01M663.1 234.6h.01M671.8 239.2h.01M682.5 239.8h.01M663 241.6h.01M690.7 246h.01M683 248.3h.01M692.4 249.4h.01M667.7 252h.01M674.1 252.8h.01M676 260.8h.01M686.5 267.3h.01M686.4 269.2h.01M677.1 272h.01M668.3 274.8h.01M682.7 282.3h.01M670.9 284.6h.01M673.1 285.5h.01M674.9 309h.01M681.7 315.5h.01" fill="none" stroke="#fff" stroke-width="2.9" stroke-linecap="round"/>
<path d="M709.8 167.8L712 166.4L712.4 164.4L713.7 165.6L714.9 167L716.6 168L716.3 169.9L716 171.7L716.7 173.5L716.2 175.4L717.7 177.2L715.7 179.1L716.4 180.9L717 182.8L716.7 184.6L717.5 186.4L716.4 188.3L716.2 190.2L716.3 192.7L717.8 193.8L720 194.3L720.9 195.7L722.9 195.9L724.5 194.7L726.5 195L727.3 194L727.4 195.8L727.6 197.6L727.8 199.5L728.2 201.3L728 203.1L727.4 204.9L727.8 206.7L727.1 208.5L728 210.4L728.4 212.2L727.6 214L728.3 215.8L728.3 217.6L728.7 219.4L729.1 221.3L728.6 223.1L728.5 224.9L729.2 226.7L728.4 228.5L727.5 230.3L727.8 232.2L727.3 234L728.9 235.8L729.3 237.6L729 239.4L728.8 241.2L729 243.1L728.9 244.9L728.7 246.7L728.3 248.5L729.2 250.3L727.4 252.1L728.7 254L729.3 255.8L728.1 257.6L728.8 259.4L728.8 261.2L728.2 263L728.7 264.9L728.5 266.7L728.6 268.5L727.2 270.3L728.1 272.1L727.9 274L728.1 275.8L728 277.6L727.8 279.4L729.4 281.2L728.2 283L728.5 284.9L728.8 286.7L729 288.5L728.8 290.3L728.5 292.1L728.9 293.9L728.7 295.8L727.3 297.6L728.2 299.4L727.3 301.2L728.2 303L728.4 304.8L729 306.7L729.3 308.5L727.5 310.3L729.4 312.1L727.8 313.9L727.7 315.7L728.7 317.6L728.9 319.4L728.7 321.2L728.5 323L729 324.8L728.2 326.6L728 328.5L728.9 330.3L728 332.1L729.2 333.9L728.9 335.7L727.9 337.5L727.9 339.4L728.7 341.2L728.4 343.2L726.6 342.2L724.7 342.6L722.9 343L721.1 342.2L719.2 342.5L717.4 343.8L715.6 343.1L713.7 341.9L711.9 344L710.1 342L708.2 342.1L706.4 343.8L704.6 343.7L702.7 343.5L700.9 342.5L699.1 343.8L697.3 342.6L695.4 343.6L693.6 342.4L691.8 343.7L689.9 343.8L688.1 342.3L686.3 344.1L684.4 343.1L682.6 343.2L680.8 343.1L678.9 344L677.1 343.6L675.3 342.8L673.4 343.4L672.7 343L671.8 341L670.7 338.9L671.4 336.9L671.6 334.6L673.4 334.3L675.2 334.5L677.1 334.6L678.9 335.3L680.7 333.9L682.5 335.2L684.4 334.4L686.2 335.1L688 335.3L689.9 334.5L691.7 335.9L693.2 334.1L695.3 333.5L697.7 333.9L699.3 331.9L702.1 332.6L703.1 330.9L704.6 329.8L705.9 328.6L706.5 326.8L707.9 325.3L708.6 323.5L709.7 321.8L710.7 320.1L710.6 318L711.5 316.2L710.2 314.4L710.9 312.6L709.7 310.8L711 309L710 307.2L711.2 305.3L709.9 303.5L710 301.7L709.7 299.9L711 298.1L710.7 296.3L709.8 294.5L709.5 292.7L710.1 290.9L709.6 289.1L711.4 287.3L710.4 285.5L711.1 283.7L709.3 281.9L711 280L710.5 278.2L709.9 276.4L709.6 274.6L709.6 272.8L710.8 271L710.8 269.2L711.3 267.4L711 265.6L709.5 263.8L711.1 262L710.7 260.2L710.8 258.4L710.3 256.6L709.8 254.7L710.6 252.9L709.3 251.1L710.2 249.3L709.3 247.5L709.8 245.7L709.8 243.9L710.5 242.1L709.2 240.3L710 238.5L709.2 236.7L710 234.9L711 233.1L711 231.3L710.4 229.4L710 227.6L710.9 225.8L709.3 224L710.9 222.2L709.5 220.4L709.5 218.6L711.1 216.8L710.3 215L709.6 213.2L709.9 211.4L710.2 209.6L709.9 207.8L710.6 206L710.6 204.1L709.6 202.3L711.1 200.5L710.7 198.7L709.4 196.9L710.8 195.1L710.2 193.3L710.3 191.5L709.1 189.7L710 187.9L709.3 186.1L709.3 184.3L710.6 182.5L710.8 180.6L710.2 178.8L711.1 177L709.1 175.2L710.4 173.4L709.2 171.6L709.9 169.8Z" fill="#0b0b0b"/>
<path d="M712.5 167.5h.01M711.2 167.9h.01M715 169.3h.01M710.5 173h.01M713.9 172h.01M712.8 174.9h.01M711 176.1h.01M714.9 177.1h.01M710.8 178.4h.01M713.2 178.2h.01M714.5 183.1h.01M713.3 186.7h.01M716.1 187.3h.01M714.2 190.6h.01M726.7 194.5h.01M713.4 197.3h.01M716.4 195.9h.01M727.4 196.3h.01M711.8 198.6h.01M719.3 198.1h.01M722.1 199.2h.01M723 199.1h.01M718.8 200.8h.01M721 201h.01M710.2 202.7h.01M717.9 203.4h.01M719.5 202.2h.01M722.3 205.4h.01M724.8 204.6h.01M726.6 203.7h.01M717.7 206.9h.01M723.2 205.9h.01M710.6 208.7h.01M714.1 208.4h.01M714.9 208h.01M718.9 207.7h.01M724.5 208.1h.01M726.9 208h.01M714 211.4h.01M717.2 211.2h.01M725.7 210.6h.01M712.8 213.1h.01M715.1 211.8h.01M724 211.6h.01M726.5 212.7h.01M710.6 215h.01M718.4 214.7h.01M721.4 213.7h.01M724.6 216.6h.01M728 217.2h.01M719.2 218.3h.01M724.3 218.7h.01M714.4 220.4h.01M715.9 220.3h.01M717.6 221.1h.01M719.4 220.6h.01M723.5 220.5h.01M727.8 220h.01M715.3 222.9h.01M725.8 222h.01M712.9 224.2h.01M719.4 224.4h.01M728.1 223.9h.01M715 226.2h.01M717.5 226.5h.01M718.1 228.9h.01M723 228.2h.01M724.8 228h.01M712.5 230h.01M723.2 231.3h.01M726.7 231.2h.01M727.8 233.2h.01M712.3 233.8h.01M717.4 234.1h.01M726.1 234.4h.01M723.2 237.1h.01M711.4 239.3h.01M719.2 239.2h.01M723.6 238.5h.01M711.4 241h.01M725.6 239.8h.01M728.2 240.5h.01M721.3 243.4h.01M723.6 242.2h.01M726.6 243.2h.01M710.8 244.3h.01M715.3 246.4h.01M716.4 246.4h.01M719.6 245.6h.01M712 247.6h.01M714.2 249.3h.01M715.1 247.6h.01M725.1 248h.01M726.7 248.4h.01M712.9 249.7h.01M716.9 251h.01M718.6 250.2h.01M712.1 252.6h.01M713.3 252.3h.01M725.3 251.8h.01M712.2 255.4h.01M715.5 254.2h.01M721.4 254.9h.01M724 254.1h.01M712.1 258.6h.01M714.6 258.7h.01M722 258.1h.01M711 261.2h.01M713.6 260.5h.01M717.2 260.8h.01M724.3 260.7h.01M713.3 261.7h.01M714.6 261.5h.01M721.8 263.1h.01M712 264.4h.01M717.8 264.4h.01M719.8 263.8h.01M722.4 263.6h.01M727.8 264.8h.01M711 265.9h.01M719.4 265.9h.01M721.8 266.8h.01M726.4 265.7h.01M722 267.6h.01M725.7 268.2h.01M717.4 269.8h.01M720.2 269.9h.01M723.3 271.4h.01M710.6 272.4h.01M712.1 274.8h.01M723.1 274.5h.01M711.4 276.2h.01M722.1 276.4h.01M710.5 278.9h.01M712.3 279.3h.01M717.2 279.2h.01M719.7 277.9h.01M723.6 281h.01M724.7 281.2h.01M712 282.2h.01M718.7 281.6h.01M723.4 281.6h.01M728 283.6h.01M711 290.1h.01M713.1 289.8h.01M724.7 290.9h.01M710.7 291.6h.01M713.5 292.4h.01M717.7 292h.01M722.4 292.5h.01M710.9 294.8h.01M716.2 293.5h.01M719 294h.01M722.5 294.5h.01M711 295.6h.01M726.9 296h.01M717.2 299.2h.01M723.1 299h.01M711.5 299.8h.01M712.7 300.5h.01M719.7 300.2h.01M724.7 299.6h.01M712.9 303h.01M723 303.8h.01M714.4 307.3h.01M721.4 305.5h.01M725.4 306.9h.01M711.7 307.6h.01M717.6 308.4h.01M726.6 308.5h.01M725.5 310.3h.01M711.6 313h.01M722.1 312.3h.01M719.4 315.3h.01M723 314.7h.01M728.2 316h.01M714.3 318.1h.01M723 318.8h.01M726 318.7h.01M714.2 320h.01M720.9 321.2h.01M724.2 321.2h.01M712.2 323.3h.01M718.6 321.6h.01M723.1 322.6h.01M727 323.2h.01M713.7 324.8h.01M715.1 324.9h.01M723.2 323.6h.01M727.2 323.8h.01M710.7 325.8h.01M711.7 326.3h.01M706.1 328.9h.01M708.5 328.3h.01M712 328.9h.01M727.4 327.7h.01M712.7 330.8h.01M717.6 330h.01M722.2 330.4h.01M727 330.2h.01M717.8 332.1h.01M722.2 331.9h.01M673.2 335h.01M719.2 334.1h.01M673.8 336.7h.01M678.8 336.8h.01M681.4 336.7h.01M694.5 335.8h.01M704.5 336.9h.01M720.2 335.9h.01M722.1 336.3h.01M724.1 336.7h.01M673.1 338.4h.01M675.3 338.3h.01M680.1 337.4h.01M689.7 338.4h.01M691.5 339.1h.01M701.6 339h.01M710.2 339.2h.01M677.4 339.8h.01M678.2 339.6h.01M683.4 340h.01M697.2 341.2h.01M709.2 339.4h.01M711.1 340.9h.01M713.7 339.9h.01M714.8 340.1h.01M725.6 341.1h.01M727.4 340.4h.01M673.4 342.9h.01M678 341.9h.01M685.2 341.6h.01M689.6 342.6h.01M710.8 342.9h.01M713.8 342.6h.01M724.3 342.1h.01M725.9 342.3h.01" fill="none" stroke="#fff" stroke-width="1.2" stroke-linecap="round"/>
<path d="M713.2 168.3h.01M714.3 170.4h.01M716.3 170.7h.01M715.2 173h.01M711 175h.01M714.4 174h.01M716.1 175.1h.01M713.6 176.6h.01M710.7 181.4h.01M716.4 180.3h.01M712.2 182.6h.01M716.7 183.4h.01M713.2 183.6h.01M715.2 183.7h.01M710.1 186.5h.01M714.3 188.5h.01M714.9 189.5h.01M713.3 189.7h.01M713.5 191.6h.01M715.5 192.2h.01M710.5 194.7h.01M713.9 195.2h.01M717.1 194.2h.01M711.6 197h.01M717.5 195.7h.01M725 197.2h.01M715.2 197.7h.01M726.2 198.7h.01M716.6 200.1h.01M723.6 200.3h.01M724.1 200.3h.01M712.1 201.8h.01M714.4 202h.01M721.8 201.6h.01M724.8 203.2h.01M712.1 204.3h.01M712.9 204h.01M719.5 203.9h.01M711.5 206.3h.01M714.3 206.6h.01M719.8 206.6h.01M720.6 206.8h.01M725.9 206.1h.01M721.1 209.1h.01M712.9 210.3h.01M718.8 209.8h.01M720.8 210.5h.01M723.6 210.7h.01M710.9 213h.01M717.3 212.6h.01M720.6 212.3h.01M722.2 212.9h.01M712.8 214.4h.01M714.5 215h.01M717.2 214.4h.01M724.1 213.8h.01M715.5 217.2h.01M717.3 216.5h.01M722.4 217.2h.01M711.5 217.7h.01M713.7 218.6h.01M717.7 218.7h.01M721.3 218.5h.01M726.3 217.9h.01M710.3 219.6h.01M724.2 221.4h.01M711.5 222.4h.01M717 222.2h.01M719.8 222.3h.01M721.5 222.3h.01M711.2 224.1h.01M722.7 225.2h.01M725.9 224.7h.01M711.4 226.5h.01M719.5 226.2h.01M721.8 226.3h.01M725.6 226.6h.01M711.4 229h.01M713.7 227.7h.01M715.9 228.9h.01M721.4 228h.01M727.2 228.5h.01M716.9 231.4h.01M718.9 231.1h.01M710.6 232.9h.01M714.1 231.9h.01M716.2 232.3h.01M718.7 232.6h.01M720.7 231.8h.01M713.8 233.6h.01M721.1 233.9h.01M723.1 234.4h.01M710.6 236.3h.01M713.7 235.9h.01M714.9 237.1h.01M725.5 236.3h.01M727 235.8h.01M715.5 237.6h.01M721.4 238.7h.01M726.2 237.9h.01M715.6 241.2h.01M720.4 240.7h.01M722.4 240.6h.01M714.8 242.4h.01M717.3 242.9h.01M713.6 244h.01M718.9 243.6h.01M721.1 243.9h.01M711.6 246.5h.01M724.2 246.3h.01M723.5 249.3h.01M715.4 250.4h.01M721.3 251.4h.01M726.4 250.2h.01M716.2 251.5h.01M718.8 251.8h.01M720.9 251.8h.01M717.1 255.2h.01M718.6 255.2h.01M713 257.2h.01M715.6 255.7h.01M717.9 257.2h.01M725.6 255.6h.01M724.3 259.3h.01M726.3 259.2h.01M720 261.1h.01M722.3 260.2h.01M727.7 259.5h.01M717.5 261.6h.01M719 261.8h.01M723.5 262.9h.01M711.7 266.9h.01M717 267.3h.01M723.8 266.9h.01M710.7 268.9h.01M713.9 269h.01M716.1 267.6h.01M717.4 268.2h.01M721 267.8h.01M728.2 268.9h.01M713.8 270.9h.01M716.2 273.3h.01M721.1 271.8h.01M722.1 272.5h.01M727.7 272h.01M715.3 275.2h.01M717 274.4h.01M721.7 275.2h.01M714.4 276.2h.01M715.9 277.3h.01M718 276.7h.01M719.7 276.5h.01M725.4 277.1h.01M726.7 277.3h.01M723.8 278.9h.01M713.1 279.6h.01M718.5 280.1h.01M714.8 282h.01M716.6 282.3h.01M721.4 282.7h.01M726.5 282.3h.01M712.8 283.9h.01M716.4 284.3h.01M724.9 285.1h.01M710.4 286.8h.01M713.1 286.7h.01M714 286.1h.01M719.2 285.9h.01M711.6 289h.01M714.1 289.1h.01M715.9 287.7h.01M718.7 288.9h.01M721 288.6h.01M723.1 288.9h.01M725.8 289.3h.01M726.6 287.6h.01M718.9 291.3h.01M725.2 291h.01M715.4 293.1h.01M719.7 291.5h.01M714.5 295.3h.01M724.1 294.1h.01M726.8 293.9h.01M713.4 296.8h.01M718 296.3h.01M719.8 297.1h.01M724.2 296h.01M713.3 297.9h.01M719.7 298.2h.01M721.7 297.5h.01M725.9 298.5h.01M716.2 300.3h.01M717.9 299.6h.01M722.5 300.4h.01M728.2 300.3h.01M714.8 302.7h.01M717.5 302.8h.01M720 303h.01M721.4 302.4h.01M715.7 304.2h.01M718.7 305h.01M721.3 303.4h.01M725.2 305.1h.01M728.2 304.9h.01M710.5 306.7h.01M713 305.9h.01M716.2 308.3h.01M721.2 307.7h.01M712.5 311.2h.01M715.4 311.1h.01M717 309.6h.01M718.5 309.6h.01M720.9 311.1h.01M719.8 312.1h.01M725.3 312.6h.01M727.3 312.1h.01M712.4 315h.01M714.9 314.4h.01M717.2 313.6h.01M726 315.2h.01M715 316.7h.01M717.7 315.9h.01M721.2 316.6h.01M723.5 316h.01M724.2 316.5h.01M719.8 317.8h.01M722.3 318.5h.01M711.6 319.5h.01M716.4 319.7h.01M717.9 320.2h.01M722.4 321h.01M727.4 321.1h.01M714.4 321.5h.01M720.9 322.6h.01M708.3 325.2h.01M719 323.8h.01M724.8 325h.01M714.7 326.7h.01M716.8 326h.01M719 325.4h.01M723.8 325.7h.01M726.3 326.9h.01M713.2 327.4h.01M716.2 328.9h.01M717.7 328.7h.01M719.7 327.7h.01M703.3 331h.01M706.9 329.9h.01M714.3 331h.01M704.1 332.8h.01M706.4 331.7h.01M709.8 331.6h.01M712.1 332.9h.01M713.8 332.8h.01M715.1 331.8h.01M697.1 334.5h.01M699.3 335.2h.01M700.9 333.8h.01M702.9 334.3h.01M705.9 334.3h.01M707.2 334h.01M710.7 334.3h.01M714.2 333.9h.01M721.4 334.3h.01M723.1 334.8h.01M726.2 334.9h.01M671.9 335.9h.01M677.6 335.8h.01M691.5 335.4h.01M692.4 335.7h.01M698.8 336.5h.01M714.9 335.6h.01M718 335.6h.01M677.8 338.8h.01M682.5 337.7h.01M685.6 337.5h.01M687.9 337.9h.01M698.7 339h.01M702.8 339.2h.01M706.1 338.2h.01M707.6 338.2h.01M713 339.1h.01M713.8 338.1h.01M716.9 338.7h.01M718.7 337.6h.01M722.1 338.8h.01M723.9 339h.01M726.5 337.7h.01M672.3 340h.01M675.1 339.7h.01M685.3 341.1h.01M693.4 340.3h.01M695 340.9h.01M700.6 339.6h.01M703 341h.01M723.3 340.5h.01M686.5 342.4h.01M692 342.8h.01M694.3 341.6h.01M695.7 342h.01M698.3 342.6h.01M702.4 341.4h.01" fill="none" stroke="#fff" stroke-width="1.7" stroke-linecap="round"/>
<path d="M715.5 178.2h.01M713 180.9h.01M711.3 184h.01M715 187.4h.01M710.6 188.4h.01M713.2 195.4h.01M718.4 194.1h.01M716.5 198.3h.01M711.2 200.1h.01M727.5 200.2h.01M725.9 201.6h.01M723.3 208.5h.01M711.8 216.9h.01M714.2 216.6h.01M720.4 216.3h.01M723.8 223h.01M714.9 224.9h.01M723.5 226.1h.01M715.3 231.1h.01M722.7 232.4h.01M724.8 231.6h.01M719.4 234.7h.01M718.4 235.7h.01M721.1 237h.01M716.4 239.4h.01M718.2 241h.01M718.6 241.7h.01M716.4 244.4h.01M723.1 244.5h.01M724.7 245.4h.01M726.7 244.7h.01M726.7 246.6h.01M717.8 248.5h.01M719.8 247.7h.01M723 250.8h.01M721.8 252.1h.01M727.1 252.5h.01M720.6 255.6h.01M723.5 256.5h.01M726.4 256.6h.01M717.5 258.3h.01M718.4 258.4h.01M715.6 260.8h.01M714.4 264.3h.01M716.1 265.2h.01M713.9 266.5h.01M721.3 271.4h.01M725.5 271.3h.01M717.2 271.5h.01M725.6 271.6h.01M719.6 274.2h.01M725.8 273.8h.01M713.8 277.8h.01M720.6 278.2h.01M711.9 280.9h.01M715.1 279.8h.01M726.9 280h.01M719 284.8h.01M721.3 284.3h.01M723.4 284.3h.01M717 287.1h.01M721.4 287.4h.01M723.3 286.8h.01M726 285.7h.01M716.8 291.2h.01M722 289.7h.01M724.4 291.4h.01M727.4 292.9h.01M713.2 293.7h.01M716.5 296.3h.01M722.2 296.1h.01M715.1 299.3h.01M724.1 301.7h.01M726.3 302.1h.01M711 303.7h.01M713.9 305h.01M717.6 306.4h.01M718.4 306.6h.01M712.6 308.7h.01M722.1 308.5h.01M724.6 311.1h.01M713.9 312.4h.01M715.3 312.2h.01M718.7 311.5h.01M710.9 315.8h.01M713.3 317.1h.01M710.1 319.1h.01M711.6 319.1h.01M716 317.7h.01M716.5 323.1h.01M711.4 325.2h.01M721 324.7h.01M721.9 325.4h.01M722.6 328.3h.01M705.1 331.2h.01M709.7 330h.01M718.7 329.7h.01M724.1 331h.01M720.5 333h.01M724.5 331.9h.01M727.6 331.4h.01M678.6 335h.01M717.5 333.6h.01M683.4 337.2h.01M685.1 337.2h.01M688.5 335.6h.01M702.8 336.5h.01M707.2 336.8h.01M709.5 336h.01M710.8 336.2h.01M714.4 336h.01M728 336.5h.01M694.1 338.2h.01M695.7 337.4h.01M680.8 339.5h.01M687.4 340.1h.01M690.7 341h.01M704.9 339.5h.01M706.5 340.3h.01M719.9 340h.01M680.8 342.6h.01M700.7 341.6h.01M708.1 341.6h.01M713.1 342.7h.01M717.4 342.9h.01M721.4 341.5h.01" fill="none" stroke="#fff" stroke-width="2.25" stroke-linecap="round"/>
<path d="M713.1 164.4h.01M712.8 170h.01M711.1 192h.01M712.7 199.7h.01M715.8 204h.01M718.4 204.5h.01M710.4 206.9h.01M726 214.9h.01M718.8 223.8h.01M720.9 229.6h.01M710.5 233.7h.01M713 240.3h.01M711.9 241.8h.01M722.1 245.7h.01M726.8 253.6h.01M726.2 262.8h.01M725.4 263.9h.01M712.1 270.3h.01M713.7 272.5h.01M725.5 278h.01M721 280.5h.01M710.9 285.1h.01M715.2 290.4h.01M724 305.4h.01M724.5 308.3h.01M720.7 313.8h.01M710.9 321.8h.01M725.1 329.3h.01M702.2 332.5h.01M712.9 333.4h.01M697 336.6h.01M718.6 339.4h.01M704.8 342.6h.01" fill="none" stroke="#fff" stroke-width="2.9" stroke-linecap="round"/>
<path d="M53.3 311.8L54.8 310.3L55.4 308.4L55.6 307L56.9 308.5L58.1 309.2L60.3 310.7L60.9 312.5L60.4 314.5L60.7 316.4L60.6 318.4L61.3 320.2L62.7 321.9L62.6 323.8L62.8 325.7L63.2 327.5L63.4 329.4L62.2 331.4L62.2 333.3L64 335L63.8 336.8L63 338.7L62.9 340.6L64.1 342.4L63.8 344.3L63.6 346.2L64 347.3L65.9 348L65 346.1L66.5 344.2L65.7 342.2L65.9 340.3L65.1 338.4L65.7 336.5L65.9 334.6L65.4 332.6L65.7 330.7L67.5 328.9L66.2 326.9L66.4 324.7L68.7 324.8L70.8 323.8L73.1 323.5L74 325.3L73.4 327.2L72.8 329.1L73 330.9L73.9 332.7L74.9 334.4L74.1 336.3L75.2 338.1L75.4 340L75.1 341.8L73.8 343.6L74.9 345.4L73.9 347.3L74.8 349.1L75.2 350.9L75.1 352.7L74.8 354.5L74.3 356.3L73.5 358.1L75.4 360L74.8 361.8L73.6 363.6L74.9 365.4L73.6 367.2L75.2 369L73.8 370.8L73.4 372.6L74.6 374.5L73.7 376.3L73.7 378.1L75.1 379.9L73.4 381.7L74.7 383.5L74.6 385.3L74.7 387.2L73.4 389L74.5 390.8L75 392.6L74.1 394.4L74.2 396.2L75.5 398L75.2 399.9L75.5 401.7L73.5 403.5L75.2 405.3L75.3 407.1L74.8 408.9L73.6 410.7L73.5 412.5L73.8 414.4L75.3 416.2L74 418L74.6 419.8L74 421.6L75.4 423.4L75.1 425.2L74.3 427.1L74.5 428.9L74.4 430.7L74.4 432L76.2 432.1L78 433.1L79.9 432.7L81.7 432.5L83.5 433.3L85.3 432.4L87.1 432.8L88.9 433.6L90.8 433.3L92.6 433.6L94.4 433.5L96.2 432.4L98 431.6L99.8 432.3L101.7 432.7L103.5 433.5L105.3 431.6L107.1 432.9L108.9 432.2L110.7 433.2L112.6 432.9L114.4 433.2L116.2 433.2L118 432.7L119.8 433.7L121.7 432L123.5 433.4L125.3 431.7L127.1 433.7L128.9 433.5L130.7 432L132.6 432.8L134.4 432.6L136.2 433.2L138 431.7L139.8 433.7L141.6 433.4L143.5 433.8L145.3 432.6L147.1 433.4L148.9 433.1L150.7 433.2L152.5 431.9L154.4 431.8L156.2 433.1L158 433.3L159.8 433.4L161.6 433.1L163.5 431.7L165.3 432.4L167.1 432.1L168.9 432.6L170.7 431.8L172.5 432L174.4 433.5L176.2 433.2L178 433.4L179.8 431.7L181.6 432L183.4 433.5L185.3 432.7L187.1 433.8L188.9 432.1L190.7 433.2L192.5 432.5L194.3 433.2L196.2 433.9L198 432.3L199.8 432.7L201.6 432.3L203.4 433.7L205.3 432.4L207.1 433.1L208.9 431.8L210.7 432.2L212.5 433.6L214.3 433.8L216.2 433.5L218 432.4L219.8 432.7L221.6 431.9L223.4 433.6L225.2 433.3L227.1 432.7L228.9 433.8L230.7 433.8L232.5 432.3L234.3 432.7L236.1 432L238 432.3L239.8 432.8L241.6 433.2L243.4 433.4L245.2 433.3L247 432.4L248.9 432.2L250.7 433.5L253.4 433L251.8 434.8L252.1 436.7L253.2 438.5L252.5 440.3L251.8 442.1L252.5 444L251.6 445.8L252.1 447.6L253.3 449.4L253.5 451.3L252.2 453.1L253.2 454.9L252.2 456.8L251.5 458.6L252.1 460.4L252.6 462.2L251.6 464.1L253.4 465.9L252.1 467.7L252.5 469.6L252.1 471.4L252.6 473.2L251.6 475L251.5 476.9L253 478.7L253.5 480.5L253.2 482.3L251.7 484.2L252.5 486.8L250.6 486.1L248.7 487L246.8 485.5L244.8 486.7L242.9 485.8L241 486.7L239.1 485.1L237.2 485.5L235.2 486.8L233.3 485.6L231.4 485.7L229.8 485.9L229.6 483.8L227.7 482.2L227.1 480.6L227.5 478L226.6 476.3L225.1 475.1L223.6 473.8L222.6 472.2L220.8 471.2L220.2 469.3L219 467.8L218.8 465.7L216.5 465L216.5 462.1L214.4 462.1L212.8 461.2L211.7 459.5L209.9 459L208.3 458.2L206.3 458L204.8 457.1L203.6 455.5L201.5 455.6L200 454.6L198.2 455.4L196.4 454.5L194.6 454.9L192.8 455.4L191 455.4L189.2 454.7L187.4 455.3L185.6 454.5L183.8 454.9L182 454L180.2 454.7L178.4 453.8L176.6 454.4L174.8 454.7L173 454.7L171.2 453.9L169.4 453.8L167.6 455L165.8 454.2L163.9 454.3L162.1 453.8L160.4 455.5L158.5 454.3L156.7 453.7L154.9 454.6L153.1 455.1L151.3 454.3L149.5 453.9L147.7 455.2L145.9 454.8L144.1 455.4L142.3 455L140.5 454.6L138.7 455.2L136.9 456L135.1 454L133.3 455.9L131.5 454L129.7 455.2L127.9 455.5L126.1 455.5L124.3 455.9L122.5 454.3L120.7 454L118.9 454.2L117.1 454.7L115.3 454.1L113.5 456.1L111.7 454L109.9 454.1L108.1 454.1L106.3 455.7L104.5 454.9L102.7 455.9L100.9 455.7L99.1 454.7L97.3 455.7L95.5 454.8L93.7 455.1L91.9 455.2L90 455L88.2 454.8L86.5 456.3L84.6 455.1L82.8 454.4L81 454.9L79.2 454.7L77.4 455.3L75.6 455.2L73.8 455.2L72 455.4L70.2 454.4L68.4 454.4L66.6 454.3L64.8 455.2L63 455.5L61.2 455.7L59.4 455.7L57.6 455.8L55.8 454.7L52.9 455.4L54.6 453.6L52.9 451.8L53.9 450L53.2 448.1L53 446.3L53.3 444.5L53.8 442.7L54.8 440.9L54.4 439.1L54.3 437.2L54.2 435.4L54.4 433.6L53.8 431.8L54.4 430L53.2 428.2L54.4 426.4L53.8 424.5L54.5 422.7L53.1 420.9L52.8 419.1L53.2 417.3L54.2 415.5L54.2 413.6L54.7 411.8L53.1 410L54.3 408.2L53 406.4L53.5 404.6L54.5 402.8L52.9 400.9L54.8 399.1L52.9 397.3L53.3 395.5L54 393.7L54.9 391.9L53.7 390.1L54.7 388.2L54.6 386.4L53.1 384.6L53 382.8L53.9 381L54.5 379.2L53.6 377.3L54.4 375.5L53.4 373.7L52.9 371.9L52.8 370.1L53 368.3L54.1 366.5L53.4 364.6L54.4 362.8L54 361L53.2 359.2L52.9 357.4L53 355.6L52.9 353.8L54.3 351.9L54.1 350.1L54.7 348.3L53.5 346.5L53.6 344.7L54.3 342.9L53.4 341L53.2 339.2L54.7 337.4L53.9 335.6L52.7 333.8L54.1 332L54.7 330.1L53.1 328.3L53.7 326.5L53.4 324.7L54.3 322.9L53 321.1L54.2 319.3L54.1 317.4L53.4 315.6L53.9 313.8Z" fill="#0b0b0b"/>
<path d="M58 309h.01M58.2 311.2h.01M57.9 313.7h.01M59.6 313.1h.01M60.3 315.6h.01M56.2 316.8h.01M56.4 319h.01M61.3 319.5h.01M58.3 325.8h.01M54.8 327.5h.01M68.3 326.8h.01M54.9 329.2h.01M60.7 330.6h.01M67.3 330.9h.01M72.2 331.1h.01M56.9 333.3h.01M59.6 333.3h.01M73.5 332.3h.01M69 335.7h.01M55.4 336.2h.01M60.7 337.2h.01M69.8 336.8h.01M61.8 339.1h.01M67.6 338.5h.01M54.1 342.8h.01M61.9 343.8h.01M73 343.9h.01M62.8 344.6h.01M55.8 346.1h.01M71.2 347.9h.01M57.5 348.8h.01M66.2 350h.01M61.2 352h.01M66.1 353.6h.01M68.3 352.5h.01M73.2 352.9h.01M59.1 354.4h.01M61.6 354.7h.01M64.1 354.4h.01M65 355.9h.01M68.5 354.1h.01M70 355.9h.01M55.2 357.9h.01M66.8 356.3h.01M71.1 357.6h.01M67.7 359.8h.01M71.9 358.5h.01M61.7 360.5h.01M66.6 363.6h.01M67.2 362.6h.01M69.7 362.2h.01M73.2 362.4h.01M56.1 365.1h.01M60.1 365.2h.01M61.5 364h.01M65.4 365.3h.01M71.4 365.2h.01M73.3 365.5h.01M55.7 366.9h.01M66.7 367.8h.01M60.3 369.5h.01M63.7 369.8h.01M72.3 368.1h.01M54.8 371h.01M69.7 371.8h.01M57 373.2h.01M60.2 373.7h.01M64.8 373.5h.01M69.9 372.4h.01M70.8 373.4h.01M73.1 372.8h.01M56.4 375.9h.01M58.3 374.3h.01M71.8 375.8h.01M63.3 377.3h.01M73 376.4h.01M57.4 378.8h.01M61.3 379.1h.01M63.5 378.6h.01M55.7 381.2h.01M58.7 381.7h.01M61.4 381.4h.01M65 380.4h.01M62.1 383.3h.01M65.2 382.9h.01M56.1 385.9h.01M57.9 385.9h.01M60.4 384.2h.01M67.4 385.3h.01M71.2 384.7h.01M65.5 387.6h.01M69.6 386h.01M59.6 388.4h.01M63.2 389h.01M66.7 388.7h.01M58.4 391.7h.01M60.6 390.6h.01M74.2 390.8h.01M59.6 393h.01M72 393.4h.01M60.6 394.2h.01M66.1 395.9h.01M67.8 394.5h.01M73.4 395.1h.01M61.9 396.6h.01M69.4 397.4h.01M54 399.6h.01M64.1 399.2h.01M66.2 399.1h.01M68 398.1h.01M70.6 399.3h.01M72.9 399.8h.01M62.3 401.4h.01M69.6 401.2h.01M73.4 400.2h.01M61.8 403.8h.01M63.2 403.5h.01M66.6 402.8h.01M70.4 402.7h.01M72.6 402.6h.01M56.4 405.5h.01M60 404.8h.01M63.8 405.5h.01M70.2 404.4h.01M73.3 404.8h.01M58.6 407.8h.01M61.6 406.8h.01M63.9 406.2h.01M72.3 409.3h.01M62 411h.01M71 411.3h.01M62 413.6h.01M56.1 415.2h.01M68.2 414.9h.01M55.5 416.5h.01M58.6 416.7h.01M60.1 417.5h.01M73.5 417.2h.01M55 419.2h.01M59 418.4h.01M68.5 418.1h.01M56.2 420.6h.01M57.8 421.2h.01M64 420.8h.01M62.1 423.8h.01M68.6 424.2h.01M71.5 424.4h.01M54.3 426.8h.01M55.9 426.5h.01M64.9 427.1h.01M67.5 427.1h.01M71.1 426.8h.01M73.4 426.2h.01M74.3 426.6h.01M67.8 429.7h.01M68.3 428.3h.01M71.3 429.3h.01M54.2 431.3h.01M59.8 431.1h.01M62.6 430h.01M70 430h.01M73.5 431.5h.01M54.8 432.2h.01M57.3 432.8h.01M63.8 433h.01M67.9 432.8h.01M73.6 432.5h.01M85 433.6h.01M94.5 433h.01M103.7 433.6h.01M117.3 433.6h.01M118.8 432.6h.01M133.1 432.7h.01M154.9 432.8h.01M161.1 433.4h.01M175.4 433.2h.01M176.5 433.1h.01M180.1 433.3h.01M205.1 433.7h.01M214.7 433.5h.01M215.7 433.6h.01M226.9 433.2h.01M243.3 433.3h.01M54.9 434.9h.01M57.5 435.7h.01M72.4 434.5h.01M80.3 434.5h.01M82.5 434.2h.01M87.4 434.1h.01M89.3 434.7h.01M90.8 434h.01M116.6 434.8h.01M122.8 435.5h.01M126.4 434.2h.01M130.9 435.2h.01M133.2 435.3h.01M136.4 434.1h.01M138.8 434.4h.01M146.6 434.7h.01M151.6 434.7h.01M154.9 435.8h.01M160.3 435.5h.01M176.9 434.7h.01M181.4 434.6h.01M186.9 435.8h.01M192.9 434.6h.01M215.3 435.7h.01M224.5 435.2h.01M227.4 434.8h.01M231.3 434.7h.01M233.4 434.5h.01M238.6 434.3h.01M240.2 434.4h.01M244.7 434.9h.01M63.1 437.2h.01M67.2 436h.01M69.7 437.6h.01M78.2 437.7h.01M92.5 437.3h.01M95.3 436.3h.01M104 437.2h.01M112.5 435.9h.01M118.3 436.4h.01M126.4 437.4h.01M128.6 436.9h.01M138.6 436.5h.01M141.3 437.8h.01M154.4 437.2h.01M167.3 436h.01M170.6 436.6h.01M178 437.8h.01M179.7 437.7h.01M192.3 437.3h.01M206.2 437.4h.01M223.5 436.6h.01M226.2 436.3h.01M226.8 436.3h.01M248.3 436.6h.01M66.3 438.8h.01M67.4 438.7h.01M79 439.4h.01M81.9 439h.01M86.9 438.3h.01M90.5 439h.01M93.3 439.8h.01M97.6 438.9h.01M103.1 438.3h.01M107.5 438.4h.01M109 439.8h.01M111.2 439.8h.01M113.1 438h.01M118.6 438.1h.01M121 438.6h.01M130.6 438.6h.01M132.6 439.5h.01M135.2 438.9h.01M141.3 438.3h.01M157.3 439.1h.01M163.6 439.6h.01M173.2 438h.01M176.7 439.8h.01M177.7 438.1h.01M181 439.7h.01M182.8 439.8h.01M186.9 438.7h.01M192.9 439.3h.01M194 439.7h.01M202.9 439.6h.01M210.6 439.6h.01M212.4 439.8h.01M217.8 438.9h.01M227.1 439.5h.01M231.9 438.6h.01M233.7 439.8h.01M238.8 439.5h.01M246.6 439h.01M250.3 438.9h.01M55.6 440h.01M60.3 440.5h.01M69.2 441h.01M71.3 440.6h.01M85.3 441.2h.01M95.4 441.3h.01M96.7 441.5h.01M98.2 440h.01M100.6 440.3h.01M103.1 440.7h.01M105.5 440.3h.01M111.1 440.2h.01M120.3 440.6h.01M125 440.2h.01M127 440.4h.01M133.7 441.4h.01M138.9 440.2h.01M149.8 440.8h.01M174.3 441.7h.01M178.7 441.4h.01M186.7 440.4h.01M188.9 441.2h.01M202.4 441.3h.01M213.3 440.6h.01M221.6 440h.01M223.2 441.4h.01M229.9 440.6h.01M231.3 441.2h.01M233.5 440h.01M244.6 440.5h.01M245.9 440.2h.01M251.2 441.4h.01M57.3 443.1h.01M70.3 442.3h.01M74.4 442.9h.01M77.9 442.1h.01M91.1 442.8h.01M95.8 443.7h.01M125.5 442.9h.01M135.1 442.5h.01M139.6 442.3h.01M143.6 442.1h.01M147.6 442h.01M150.3 443.7h.01M153.2 443.1h.01M164.2 443.5h.01M167.7 443.1h.01M173.1 443.1h.01M178.7 443.3h.01M179.6 442h.01M183.7 443h.01M191.1 442.6h.01M201.3 443.2h.01M208.7 443.7h.01M209.9 442.6h.01M220 443.4h.01M245.3 442h.01M248.4 442.3h.01M251.4 443.6h.01M61.5 444.5h.01M69.4 444.2h.01M73.3 445.1h.01M76.2 444.9h.01M82.1 445h.01M93 444.3h.01M97.3 444.5h.01M99.2 444.9h.01M104.3 445.4h.01M108.5 445.3h.01M114.6 445.5h.01M122.5 444.5h.01M124.4 444.2h.01M147.9 444.2h.01M157 444.9h.01M157.8 445.2h.01M163.6 444.6h.01M169.3 444.2h.01M176.4 445.2h.01M179 444.8h.01M183.7 445.1h.01M186.8 444.2h.01M188.4 445.1h.01M207.5 445.1h.01M214.2 444.7h.01M220.1 444h.01M225.8 445.8h.01M237.2 444.6h.01M242.2 445.6h.01M245.5 445.4h.01M250.3 445h.01M56.7 447.6h.01M59.4 447.8h.01M61.4 447h.01M66.2 447.1h.01M75.4 446.9h.01M92.6 446.9h.01M95.2 446.6h.01M97.9 446.8h.01M109.9 447.6h.01M111.8 446h.01M126.1 446.6h.01M132 446h.01M142.1 446h.01M146.6 447.1h.01M151.2 446.1h.01M167 446.3h.01M169.4 447.8h.01M177.6 446.5h.01M187.4 447.8h.01M193.4 446.9h.01M197.4 447h.01M199.1 447.8h.01M206.2 446.8h.01M217.7 447h.01M223.9 446.4h.01M232.6 446h.01M242.9 446.3h.01M245 446.6h.01M56.4 448.5h.01M57.4 449.6h.01M65.3 448.7h.01M68.3 448h.01M72.3 448.4h.01M74.1 449.8h.01M77.9 448.1h.01M82.2 449.7h.01M90.1 449.4h.01M91.8 449.7h.01M93.5 449h.01M97.2 448h.01M107.8 449h.01M114.8 448.1h.01M125.1 448h.01M130.6 448.9h.01M133 448h.01M138.8 448.1h.01M143.4 448.7h.01M151.2 449.1h.01M155.6 449.5h.01M158.8 448.9h.01M160.5 449.4h.01M167.6 448.1h.01M172 449.7h.01M178.7 448.4h.01M192.7 448.5h.01M198.2 449.1h.01M200.2 448.6h.01M205.5 448h.01M208.8 449.6h.01M216.1 449h.01M220.8 448.7h.01M223.3 449.4h.01M227.8 448.9h.01M229.7 448.8h.01M246 448h.01M54.9 450.1h.01M59.3 451.6h.01M60.4 451.7h.01M63.9 450.7h.01M66.6 451.3h.01M68.3 451.1h.01M77.1 451.8h.01M78.8 450.5h.01M92.9 451.6h.01M104.9 451.2h.01M117.1 451.4h.01M122.9 450h.01M125.6 451.1h.01M139.4 450.9h.01M140.9 450.5h.01M143.4 450.8h.01M153.3 450.1h.01M169.2 450h.01M171.7 451.4h.01M179.9 451.4h.01M192.3 450.5h.01M193.6 451.7h.01M219.5 450.5h.01M229 450.9h.01M237 450h.01M240.9 450.3h.01M243.4 450.8h.01M245.3 449.9h.01M247.3 450.1h.01M251.3 450.4h.01M59.6 452.3h.01M72.2 453.1h.01M79.3 452.6h.01M83.3 453.7h.01M85.4 452.8h.01M87.6 453.7h.01M101.4 452.5h.01M109.9 452.5h.01M118.9 453.8h.01M128.8 452.1h.01M135.8 453.4h.01M140.6 452.9h.01M142.5 452.9h.01M145.3 453.4h.01M154.7 453.6h.01M170.2 452.3h.01M175.5 452.6h.01M181.5 453.2h.01M188.6 453.4h.01M191.5 452.3h.01M220.1 453.1h.01M230.3 453.6h.01M240.4 452h.01M247.9 452h.01M251.4 453.3h.01M66.3 453.9h.01M74.6 454.5h.01M76.7 455h.01M81.4 454.7h.01M86.2 454.1h.01M92.4 454.3h.01M123.2 453.9h.01M125.4 454.8h.01M131.4 454.3h.01M230.2 455.2h.01M234.9 454.7h.01M238.1 454.8h.01M241.8 454.9h.01M250 455.6h.01M208.5 457.8h.01M229.9 456.2h.01M240.8 457.8h.01M246.8 457h.01M250.2 456.6h.01M209.9 458h.01M217.1 459.3h.01M224.4 457.9h.01M231.7 459.4h.01M233.6 458h.01M235.4 459.3h.01M240 459.1h.01M242.3 458.9h.01M245.1 459.7h.01M221.3 461.5h.01M223.7 460.4h.01M230 460h.01M219.9 462.4h.01M222.1 462.6h.01M224.6 463.7h.01M229.5 463.2h.01M238.2 463.6h.01M242.7 463.7h.01M218.9 465.4h.01M223.4 463.9h.01M229.9 464.2h.01M232.1 464.5h.01M241.2 464.3h.01M227.2 467.9h.01M229.6 468.9h.01M236.9 469.6h.01M243.4 469h.01M247.5 468.7h.01M224.5 471.2h.01M227 470h.01M240.3 470.3h.01M245 471.7h.01M228.3 472.5h.01M225.9 474.6h.01M233.3 474.8h.01M238.5 474.4h.01M247.5 474.5h.01M227.1 477h.01M239.7 476h.01M241.8 477.1h.01M246.8 477h.01M232.9 479.6h.01M240.9 479.2h.01M244.2 479.4h.01M251 478.4h.01M239.4 480.7h.01M240.8 481.2h.01M243.2 481.1h.01M228.8 482.9h.01M233.3 482.2h.01M240.9 483.4h.01M242.9 482.2h.01M231.2 485h.01M241.6 485.7h.01M242.7 484.4h.01" fill="none" stroke="#fff" stroke-width="1.2" stroke-linecap="round"/>
<path d="M56.3 306.8h.01M56.6 310.8h.01M57.2 315.8h.01M58.6 316.9h.01M59.5 316.3h.01M54 320h.01M55 320.5h.01M58.7 320.4h.01M56.9 323.4h.01M58.3 323h.01M60.5 323.2h.01M56.3 325h.01M60.6 325.5h.01M66.9 325.5h.01M70 325.6h.01M55.7 327.3h.01M59.3 326.5h.01M60.7 327.2h.01M67.6 329.3h.01M72 329.7h.01M70.1 331.4h.01M56.3 333.1h.01M62.8 333.4h.01M67.8 333.6h.01M69.5 332.9h.01M54.3 334.2h.01M56.8 335.7h.01M58.9 335.4h.01M61.4 335.5h.01M69.5 334.2h.01M72 334.2h.01M72.3 336.6h.01M54.9 338.2h.01M58.2 338.2h.01M63.6 338.6h.01M72.7 339.1h.01M55 341.8h.01M61.8 340.2h.01M69.5 340.4h.01M71.3 340.5h.01M59.4 342.1h.01M66.3 342.1h.01M70.7 342.3h.01M54.6 344.4h.01M58.5 344.6h.01M60.6 345.3h.01M72.2 345.2h.01M54.9 347.3h.01M59.5 347.3h.01M63.9 346.9h.01M73.1 347.4h.01M60.3 348.2h.01M63.1 349.7h.01M70 349.7h.01M58.4 350.6h.01M63.7 351.4h.01M65 350.2h.01M68.1 350.1h.01M71.1 351.5h.01M72.5 350.8h.01M60.7 352.9h.01M61.4 352.8h.01M71.3 352.4h.01M55.8 354.3h.01M57.1 357h.01M62.4 356.7h.01M65.4 356.3h.01M68.8 357.5h.01M73.8 356.4h.01M54.1 358.7h.01M60.6 358.9h.01M66.2 359.2h.01M74.3 358.6h.01M55.8 362.7h.01M58.4 363.8h.01M67.8 364.5h.01M70.1 365.1h.01M58.9 366.8h.01M63.2 367.2h.01M70 367.3h.01M71.8 366.3h.01M55.1 369.1h.01M57.8 368.8h.01M56.7 370.5h.01M61.7 370.1h.01M62.6 370.3h.01M73.6 371.5h.01M55.3 372.2h.01M66.5 373.1h.01M54.3 375.8h.01M62 374.7h.01M66.5 374.6h.01M56.2 376.8h.01M64.2 376.4h.01M68.5 377.2h.01M70.9 376.5h.01M58.5 379.3h.01M65 379.1h.01M67.3 379.5h.01M71.7 379.5h.01M60.1 381h.01M66 381.6h.01M68.8 380.5h.01M71.7 380.9h.01M55.2 382.1h.01M59.1 383.6h.01M63.1 382.4h.01M70.9 382.2h.01M71.8 383.7h.01M62.5 385.3h.01M64.9 385.8h.01M68.9 385.9h.01M56.7 386.5h.01M60.8 386.2h.01M64.3 387.7h.01M55.6 389.7h.01M57.4 388.4h.01M64.8 388.8h.01M69.3 388.1h.01M71.9 389.9h.01M56.9 391.3h.01M64.4 391h.01M66.2 390.9h.01M68.7 390.2h.01M71.2 390.5h.01M72.9 391.3h.01M56 393.5h.01M58.7 393.3h.01M62.5 393.7h.01M64.6 393.8h.01M66.1 392.8h.01M69.7 392.5h.01M73.1 393.5h.01M53.9 395.6h.01M56.7 395.3h.01M59.3 394.5h.01M63.3 395.3h.01M70.4 394.3h.01M57.2 397.1h.01M65.5 397.6h.01M67.5 396.9h.01M70.8 396.6h.01M55.6 399.7h.01M60.7 399.7h.01M56.1 400.2h.01M57.3 401h.01M65.4 400.3h.01M66.7 400.5h.01M58.7 403.4h.01M62.6 405.4h.01M70.8 405.4h.01M54.2 407.4h.01M66 407.7h.01M67.5 407.3h.01M70 407.7h.01M71.9 407.5h.01M74.1 407.1h.01M55.7 408.6h.01M57.3 409.1h.01M59.3 408.1h.01M62.7 408.6h.01M64.3 408.2h.01M68.4 409.9h.01M54.4 411.2h.01M57 411.5h.01M63.8 410.3h.01M65.5 410.9h.01M54.9 413.3h.01M57.8 412.4h.01M60.3 412.1h.01M66.2 412.7h.01M68.6 412.1h.01M59.4 415.7h.01M61.2 415.8h.01M62.7 414.4h.01M66.6 414h.01M70 415.4h.01M61.7 416.4h.01M65.3 416.7h.01M61.4 418.7h.01M63.7 418.1h.01M65.3 419h.01M73 418.3h.01M67.2 420.2h.01M70.6 421.3h.01M73.6 420.6h.01M58.1 422.3h.01M63.6 423h.01M66.6 423.7h.01M67.4 423.7h.01M71.2 423h.01M73.6 422.5h.01M58.4 424h.01M59.5 425.8h.01M61.9 425.4h.01M65.6 425.7h.01M67.5 425.2h.01M74 424.7h.01M60.6 427.2h.01M56.2 429.5h.01M55.7 431.6h.01M61.9 431.8h.01M66.4 430.5h.01M62.8 432.1h.01M69 432.7h.01M72.5 432.4h.01M78 433.7h.01M81.1 432.9h.01M86.8 432.9h.01M89.3 433.5h.01M96.9 433.4h.01M98.7 433.4h.01M100.9 432.7h.01M113.4 433.6h.01M136.4 433.6h.01M137.4 433.3h.01M140.8 433.6h.01M149.9 433.5h.01M156.4 433.7h.01M170.6 433h.01M188.5 433.8h.01M195 432.9h.01M198.6 433h.01M208.6 433.8h.01M58.2 435.2h.01M65.4 435h.01M67.9 435.3h.01M69.9 434.6h.01M74 435.7h.01M76.7 434h.01M84.5 434.5h.01M94.1 434.7h.01M96.2 435.1h.01M98.5 434.4h.01M104 434.2h.01M107.4 434.5h.01M108.6 435h.01M110.8 434.3h.01M113.4 434h.01M120.9 435.7h.01M127.8 435.7h.01M135.3 433.9h.01M142 434.6h.01M143 435.8h.01M149.1 435.4h.01M153.4 435h.01M157.4 433.9h.01M163.7 435.7h.01M165.9 434.2h.01M169.3 435.8h.01M171.3 434.7h.01M183.6 435.6h.01M189.6 435.2h.01M194.7 434.6h.01M199.8 435h.01M200.3 434.5h.01M202.6 434.2h.01M205.5 435.2h.01M209 434.5h.01M211 435.4h.01M216.9 435.8h.01M219.6 434.6h.01M221 435.1h.01M235.6 435.4h.01M241.9 434.1h.01M247.1 435.4h.01M249.1 434h.01M251.5 434.4h.01M54.5 435.9h.01M65.4 437.3h.01M70.7 437.2h.01M73.9 436.9h.01M76 436.4h.01M88.1 437.2h.01M90.1 437.8h.01M98.4 436.6h.01M108.3 436h.01M115.4 437.6h.01M120.3 437.2h.01M122.4 436.8h.01M125.2 437.7h.01M132.8 436.6h.01M135.1 436.7h.01M145.5 435.9h.01M148.1 436.4h.01M149.3 436.6h.01M151.4 436.1h.01M156.3 436.3h.01M158.7 437.2h.01M161.7 436.2h.01M163.1 436.9h.01M165.6 437.5h.01M171.7 436.9h.01M174.8 437.1h.01M181.9 436.9h.01M183.9 436.8h.01M187.2 436.3h.01M199.5 436.2h.01M202.3 437.8h.01M205 437.7h.01M210.1 437.6h.01M212.1 435.9h.01M229.7 437.3h.01M231.3 437.7h.01M233.6 437.1h.01M238.2 436.4h.01M241.1 437.5h.01M244.1 436h.01M245.7 436.6h.01M250.1 437.2h.01M56.8 438.8h.01M58.8 439.7h.01M61.8 438.4h.01M73.1 438.7h.01M74.2 438.9h.01M94.9 439.3h.01M99.9 439.4h.01M105 439h.01M115.5 439.3h.01M124.6 439.1h.01M128 439.1h.01M140.1 438.7h.01M143.8 438.6h.01M146.9 439.4h.01M149.3 438.1h.01M150.5 438.3h.01M152.6 439.4h.01M155.6 438.2h.01M160.3 438.2h.01M162.7 439.7h.01M169.2 439.2h.01M185 439.1h.01M190.3 438.5h.01M197.4 439h.01M201.2 438.7h.01M205.9 439.4h.01M214.1 439.3h.01M218.8 438.9h.01M236 439.4h.01M250.9 439.1h.01M57.2 440.3h.01M61.8 441h.01M74.7 440.1h.01M77 441.3h.01M78.4 441.1h.01M80.5 441.4h.01M82.4 441.2h.01M86.7 440.9h.01M90.5 440h.01M107.7 440.4h.01M112.5 440.8h.01M114.2 440.1h.01M117.8 441.3h.01M122.5 440.9h.01M132 441h.01M136.1 441h.01M140.7 441.3h.01M142.4 439.9h.01M144 440h.01M156 441.6h.01M166.5 441.7h.01M167.2 439.9h.01M170 441.8h.01M172.7 440.5h.01M183.6 440.9h.01M190.4 441.8h.01M195.3 441.5h.01M198.5 440.7h.01M199.8 440.5h.01M209 441.2h.01M216.7 441.1h.01M218.1 440h.01M226.8 441.5h.01M236 441.3h.01M238.1 440.9h.01M240.4 441.8h.01M54.6 443.3h.01M59.4 443.7h.01M61.6 442.7h.01M62.6 442.1h.01M66 442.3h.01M73.5 443.7h.01M78.9 443.4h.01M81.9 442.3h.01M83.5 443.1h.01M86.3 443.6h.01M88.6 441.9h.01M98.5 443.8h.01M100.6 443.6h.01M103 442.3h.01M104.8 443.3h.01M107.4 443.7h.01M110.3 442h.01M114.8 441.9h.01M116.3 442.9h.01M121.3 442.9h.01M124.1 443.3h.01M128.1 442.8h.01M129.4 442.1h.01M132.4 442.7h.01M136.1 442.4h.01M155 443.2h.01M157.1 443h.01M162.6 443.3h.01M184.4 442.7h.01M187.5 443.4h.01M190.5 442.8h.01M194.5 442.6h.01M196.6 443h.01M203.5 443.8h.01M206.7 443.8h.01M215 442.8h.01M217.1 443.4h.01M220.9 443.5h.01M227.2 442h.01M232.6 443.2h.01M236.5 443.5h.01M238.8 443.1h.01M239.9 442.8h.01M246.4 442.2h.01M55.5 444.2h.01M57 445.5h.01M71.6 444.3h.01M77.8 444.8h.01M84.5 444h.01M90 445.2h.01M101.1 444h.01M111.5 445.7h.01M113.6 444.4h.01M118.1 445.3h.01M118.9 444.2h.01M127 445.8h.01M128.9 444.2h.01M131.5 444.5h.01M133.9 445.1h.01M136.1 444.8h.01M140.7 444.9h.01M142.6 444.9h.01M144.9 444.4h.01M150.1 444.7h.01M152.4 445.6h.01M155 445.2h.01M165.4 444.4h.01M167.4 443.9h.01M175.7 444.4h.01M180.8 445.1h.01M191.6 444.1h.01M193.9 444.5h.01M200.1 444.7h.01M202.1 443.9h.01M208.9 444.9h.01M218.9 445.1h.01M223.1 445.7h.01M228.4 445h.01M230.7 445.4h.01M235.2 444.5h.01M243.4 444.5h.01M62.9 447.3h.01M68.8 447.5h.01M70 446.5h.01M80.3 446.9h.01M81.5 446.1h.01M84.8 447.8h.01M87.1 446.4h.01M91.7 446.6h.01M103.1 446.3h.01M106.7 447.1h.01M121.4 447.2h.01M127 447.6h.01M130.7 446.8h.01M134.5 447.7h.01M137.8 447.2h.01M138.7 446.8h.01M152.2 447.7h.01M157.4 446.9h.01M160.4 446.2h.01M164.8 447.4h.01M172.1 446.8h.01M176.8 447.3h.01M180.5 447.6h.01M183.2 446.1h.01M190 446.3h.01M203.8 446.4h.01M207.8 446.3h.01M210.7 446.6h.01M213.1 446.1h.01M215.2 447.3h.01M221.4 447.7h.01M226.2 446h.01M230.6 446.6h.01M235.9 446.8h.01M238.4 447.3h.01M246.5 445.9h.01M249.3 445.9h.01M251.5 447.1h.01M62.9 449.5h.01M66.5 448.4h.01M76.5 448.1h.01M79.8 448.8h.01M85 449.7h.01M88.4 448.9h.01M101.5 448h.01M106.2 449h.01M110.4 449.8h.01M117.6 448.3h.01M121.2 448.8h.01M125.9 449.4h.01M134.9 449.1h.01M139.6 448.2h.01M144.1 448.6h.01M154.8 448.4h.01M163.4 448.6h.01M165 448.6h.01M177.1 449h.01M181.9 449.3h.01M184.8 449.6h.01M186.8 449.2h.01M188.3 449.6h.01M190.1 449.6h.01M201.4 448.7h.01M206.1 448h.01M213.3 448.2h.01M217.5 449.3h.01M226.1 448.9h.01M231.6 449.5h.01M236.6 448h.01M240.8 449.6h.01M243 448.8h.01M247.9 449.4h.01M251.4 449.3h.01M57 451.4h.01M69.9 450.7h.01M73 450.8h.01M75.6 450.5h.01M82 451.6h.01M84.6 450.1h.01M89.1 450.8h.01M90.5 451.1h.01M96.4 450.8h.01M98.8 450.5h.01M107.8 451.7h.01M108.6 450.9h.01M110.9 451.3h.01M114.2 451.6h.01M118.3 451.2h.01M121.6 450.5h.01M130.9 450.3h.01M133.2 451.3h.01M134 450.9h.01M137.4 451.3h.01M146 450.2h.01M147.8 450.1h.01M150.4 450.6h.01M155.4 451.7h.01M157.8 450.6h.01M161.9 450h.01M163.6 451.8h.01M173.7 451.7h.01M177.4 450.3h.01M182.2 451.4h.01M184.5 450.1h.01M188.3 451.5h.01M190.4 451.1h.01M198.4 451.7h.01M202.9 450.9h.01M205.4 451.8h.01M209.6 450.8h.01M213.3 450h.01M225 450.8h.01M230.8 450.9h.01M232.5 451h.01M248.6 450.6h.01M56 452.7h.01M63.2 452.4h.01M64.6 452.3h.01M69.4 453.3h.01M73.8 453.3h.01M75.6 453.3h.01M89.3 453.5h.01M91.5 453.4h.01M93.7 452.1h.01M99.7 453.6h.01M103.3 452.3h.01M121.2 453.8h.01M127 453h.01M130.7 452.6h.01M133.3 453.6h.01M138.6 452.3h.01M149.8 453.5h.01M156.6 452h.01M159.5 452h.01M161.3 453.7h.01M162.5 453.8h.01M164.9 452.2h.01M167.1 453.7h.01M171.6 452.9h.01M176.8 453.4h.01M184.8 452.1h.01M186.7 453.7h.01M192.5 453.8h.01M195.2 452.2h.01M203.9 453.2h.01M207.8 452.5h.01M211.3 451.9h.01M214.1 453.7h.01M215.1 452.4h.01M218.8 453.6h.01M223.4 453.2h.01M224.8 452.6h.01M231.8 452.3h.01M236.6 452.1h.01M239.2 453.3h.01M244 453.3h.01M245.1 452.1h.01M56 454.6h.01M63.4 454.8h.01M68.9 454.6h.01M72 454.7h.01M79.2 454.3h.01M104.4 454.1h.01M111.2 454.2h.01M118.7 454.8h.01M144.1 454.6h.01M147.8 454.5h.01M153.7 454.6h.01M154.4 454.6h.01M156.7 454.5h.01M163 453.9h.01M164.8 454.6h.01M172.2 454.4h.01M175.9 454.2h.01M186 454.3h.01M209.9 454.2h.01M222.8 455h.01M224 454.6h.01M225.5 455.7h.01M227.9 454.1h.01M232.5 454h.01M244.9 455.1h.01M246.7 454.3h.01M250.7 454.9h.01M207 456.3h.01M212.3 457.1h.01M214 457.6h.01M219.2 456.9h.01M220.8 457.4h.01M223.5 457h.01M226.9 456.3h.01M236.8 457.4h.01M238.6 456.8h.01M248.1 457.6h.01M214.4 458.7h.01M218.9 459.6h.01M226.1 459.4h.01M229.4 458.2h.01M248.8 459.5h.01M251.4 458.3h.01M214.4 461.2h.01M228.3 460.7h.01M232.8 461.3h.01M237.3 461h.01M241.8 460.3h.01M243.4 460.5h.01M247.4 460h.01M225.7 462.8h.01M231.7 462.6h.01M232.4 462.1h.01M234.8 463.5h.01M246.8 462.6h.01M220.8 465.1h.01M228.1 464h.01M237 465.6h.01M239.2 465h.01M242.7 465h.01M245 464h.01M247.8 464.1h.01M250.2 464.9h.01M220.3 466.9h.01M220.9 467.3h.01M226.7 466.8h.01M231.9 466.3h.01M232.5 467.2h.01M234.8 467.7h.01M238.2 467.7h.01M239.8 466.7h.01M252.3 466.4h.01M221 469.6h.01M223.6 468.3h.01M235.1 468.5h.01M238.8 469.6h.01M241.9 469.7h.01M246.1 468.4h.01M251.1 467.9h.01M230.9 470.1h.01M237.6 470.6h.01M241.8 471.7h.01M247 470.8h.01M249 469.9h.01M251.2 470.2h.01M223.4 473.1h.01M230.4 472.1h.01M231.2 472.8h.01M234.8 473.1h.01M239.5 472.6h.01M241 473.2h.01M244.2 472.8h.01M228.4 475.7h.01M241 473.9h.01M243.4 474.1h.01M245.3 474.2h.01M251 474.3h.01M226.1 477h.01M230.6 476h.01M232.1 477.1h.01M233.8 476h.01M236.1 476.6h.01M243.2 476.2h.01M248.5 477.7h.01M235.4 478.1h.01M237.4 478.6h.01M241.9 478.4h.01M247 479h.01M249.6 478.6h.01M229.9 480.1h.01M231.8 479.9h.01M248.4 479.9h.01M249.9 481.4h.01M230.8 482.7h.01M235.9 483.5h.01M244.8 483.3h.01M248.6 482.6h.01M230.3 485.4h.01M236.9 484.2h.01M239.9 485.1h.01M246.8 484.1h.01M247.9 484.8h.01M250.3 485.5h.01" fill="none" stroke="#fff" stroke-width="1.7" stroke-linecap="round"/>
<path d="M54.5 311.3h.01M59 316h.01M58.7 319.8h.01M61 321.7h.01M62 324.9h.01M72.3 324.2h.01M71 326.7h.01M72.3 326.3h.01M58.4 329.4h.01M60.5 328.7h.01M68.3 329.9h.01M58.9 330.8h.01M57.3 336.6h.01M63.1 336.3h.01M71 339h.01M58.4 341.5h.01M59.9 340.3h.01M66.2 345.5h.01M69 344.9h.01M60.4 347.7h.01M68.3 346.6h.01M64.8 349h.01M72.3 349.7h.01M54.4 351.8h.01M57.3 350.2h.01M55.8 352.5h.01M57.5 353.3h.01M55 355.1h.01M71.9 354.9h.01M59.8 359.5h.01M64.2 358.9h.01M71 359.6h.01M56 361.6h.01M57.7 360.1h.01M59.8 361h.01M63.8 361.1h.01M67 361.6h.01M68.3 360.3h.01M61.6 363.5h.01M57 364.8h.01M61.8 367.9h.01M67.4 367.6h.01M63.2 369.4h.01M67.1 368.6h.01M59.3 370.3h.01M68.3 371h.01M62.5 373.7h.01M63.1 375.5h.01M68.4 375.5h.01M60.1 377.8h.01M67.3 376.6h.01M70.8 379.5h.01M74 378.6h.01M73.2 381.4h.01M55.9 382.6h.01M59 387.5h.01M67.8 387.2h.01M73.5 386.8h.01M54.9 390.9h.01M54.7 397.3h.01M59.7 397.4h.01M72.9 396.5h.01M60.3 400.9h.01M71.1 401h.01M57.8 405.7h.01M66 405.3h.01M74.1 408.7h.01M58.8 411.2h.01M67.4 410.5h.01M72.9 410.7h.01M65.1 413.4h.01M71.9 413.1h.01M73.3 414.8h.01M66.7 417.4h.01M69.9 417.2h.01M56.5 419.7h.01M71.2 418h.01M59.4 420.4h.01M61.5 420h.01M69.6 420.4h.01M56.2 422h.01M55 424.7h.01M63.2 426.8h.01M58.1 428.6h.01M60.6 429.7h.01M61.5 429.8h.01M64.6 429.2h.01M73.4 428.4h.01M68 430.1h.01M60 433.1h.01M83.9 433.6h.01M105.2 433.7h.01M108.1 433.6h.01M111.1 432.8h.01M143.2 433.6h.01M145.8 433.2h.01M186.9 433.8h.01M248.4 433.3h.01M60.4 434h.01M99.8 434.3h.01M118.2 434.2h.01M163 434.3h.01M172.9 435.7h.01M177.7 434.9h.01M185.9 435.4h.01M213.1 434.6h.01M58.1 436.3h.01M59.8 437.5h.01M79.8 436.6h.01M82.2 437.1h.01M85.7 436.9h.01M97.4 437h.01M101 437.7h.01M105.1 437.3h.01M109.8 436.1h.01M131.2 436.7h.01M143 437.3h.01M189.1 436h.01M191.6 437.6h.01M195 436.5h.01M197.1 436h.01M213.6 436.1h.01M216.8 436.8h.01M220.2 437.1h.01M237.5 437.2h.01M62.6 439.6h.01M70.6 438.8h.01M88.9 439.8h.01M122.4 439.1h.01M136.1 439h.01M167.4 438.7h.01M172.1 438.1h.01M199 438.7h.01M208.5 438.1h.01M223.8 438.7h.01M229.6 438.7h.01M240 439.3h.01M243.4 439.8h.01M244.1 439.2h.01M64.6 440.5h.01M66.5 441.7h.01M91.5 441.5h.01M129.6 440.1h.01M152.6 441.8h.01M154.3 440.6h.01M159.6 441.8h.01M160.3 441.5h.01M182.1 440.6h.01M193.9 441.2h.01M206.4 440h.01M226.1 440.6h.01M247.5 440.5h.01M92.5 442.8h.01M111.1 443.3h.01M142.1 442h.01M146.6 442.6h.01M160.2 443.5h.01M169.9 442.2h.01M213.2 442h.01M229.1 442.3h.01M231 442.8h.01M242.6 443.2h.01M60.4 445.7h.01M65.1 444.4h.01M80 445.5h.01M86.8 444.8h.01M137.2 444.4h.01M160.5 444.2h.01M171.9 444.9h.01M198.5 444.8h.01M205.2 444h.01M211.7 444.3h.01M232.9 444.7h.01M239.4 445.7h.01M248.8 445h.01M72 446h.01M87.9 447.4h.01M100.7 446.7h.01M104.7 446h.01M113.2 447.5h.01M115.9 447.2h.01M118.7 446.2h.01M122.9 446.3h.01M144.4 446.7h.01M147.7 446.7h.01M162.4 447.2h.01M173.2 447.3h.01M185.4 445.9h.01M192.7 446.6h.01M200.9 446.5h.01M219.2 447.4h.01M227.8 446.1h.01M239.8 446h.01M59.1 448.2h.01M98.9 448.9h.01M102.8 448.7h.01M112.1 449.6h.01M120 448h.01M129 448.4h.01M147 448.9h.01M149.1 448.8h.01M169.6 449.6h.01M174.2 448.7h.01M195.6 448.4h.01M210.7 448.1h.01M234.2 449.5h.01M86.9 450.4h.01M100.9 450h.01M101.6 450.7h.01M127.3 450.8h.01M158.9 451.3h.01M167.6 450.5h.01M176.3 451.5h.01M197.1 451.8h.01M202.1 450.3h.01M208.3 450.7h.01M215.4 450.5h.01M217.9 450.5h.01M221.4 450.7h.01M235.7 450.9h.01M58.6 452.9h.01M67.6 452.4h.01M97.4 452.4h.01M105.3 453.2h.01M112.7 452.7h.01M115.2 453.1h.01M118.3 452.4h.01M125 452.1h.01M147.9 452.8h.01M151.6 453.4h.01M179.4 453.1h.01M199.4 452.1h.01M209.2 453.4h.01M228 451.9h.01M234.6 452.5h.01M61.8 455.2h.01M101.1 454.6h.01M102.7 454.3h.01M107.3 455h.01M128.4 454.6h.01M145.3 454.8h.01M202.5 454.1h.01M205.4 455.6h.01M208.1 455.6h.01M211.9 454.2h.01M217.6 454.1h.01M240.3 455.7h.01M226.2 456.3h.01M232.2 457.6h.01M235.1 456.7h.01M242.9 456.9h.01M212.4 459.5h.01M222.7 458.6h.01M238.4 458.2h.01M247.1 459.3h.01M217 460h.01M226.1 460.9h.01M238.8 460h.01M250.9 461.2h.01M217.2 463.5h.01M240.3 463.8h.01M249.9 462.9h.01M225.6 464.9h.01M234.2 464.6h.01M224.3 466.3h.01M242.1 466.7h.01M245.7 466.1h.01M246.3 466.2h.01M249.4 467.7h.01M225 469.6h.01M229.6 471h.01M233.1 469.9h.01M236.5 470h.01M225.6 473.3h.01M236.7 472.6h.01M230.9 474.2h.01M236.5 475.1h.01M251 476.6h.01M230.3 479h.01M235.2 480.8h.01M237.7 480.9h.01M245.9 481.5h.01M237.2 481.9h.01M247.5 483.1h.01M251.5 483.2h.01M234.1 484.6h.01" fill="none" stroke="#fff" stroke-width="2.25" stroke-linecap="round"/>
<path d="M54.5 313.4h.01M54.1 322.7h.01M57.5 331h.01M71.4 332.2h.01M67.8 337.8h.01M56 338.6h.01M55.8 343.2h.01M68.8 342.8h.01M55.1 348.8h.01M64.1 353.4h.01M59.7 357.6h.01M56.9 358.8h.01M71.7 360.1h.01M63.7 363.3h.01M69.4 369.6h.01M64.9 371.6h.01M70 375.8h.01M56.8 376.1h.01M67.9 383.2h.01M74 389.5h.01M59.5 398.5h.01M56.2 402.8h.01M68.9 402.9h.01M56.8 406.6h.01M67.8 408.4h.01M71.6 416.7h.01M58.3 426h.01M63.9 434.3h.01M102.5 435h.01M197 434.2h.01M229.3 434.9h.01M218.8 437.1h.01M77 439.7h.01M84.7 438.5h.01M222.5 438.1h.01M148 441h.01M163.2 441.2h.01M177.5 441h.01M205.5 440h.01M211.5 440.2h.01M68.6 443.5h.01M118.3 442.9h.01M172.2 442.6h.01M176.3 443h.01M199.4 443.5h.01M224.6 442.9h.01M66.8 444h.01M95.1 444.2h.01M105.1 444.8h.01M196.3 444.3h.01M216.5 444.8h.01M76.5 447.2h.01M155.2 447.6h.01M239.5 448.1h.01M225.7 451.8h.01M80.3 452.1h.01M108.8 453h.01M197.6 452h.01M202.8 453.7h.01M98.8 454.8h.01M189.9 454.5h.01M214.4 455.2h.01M220.3 454.6h.01M216.3 456h.01M218.6 461.4h.01M235 460.7h.01M246.1 459.9h.01M245.7 462.1h.01M229.2 467.5h.01M231.4 469h.01M245.2 472.9h.01M247.9 472.4h.01M250.5 473.3h.01M248.6 474.4h.01M229.7 479.3h.01" fill="none" stroke="#fff" stroke-width="2.9" stroke-linecap="round"/>
<path d="M252.8 485L252.7 486.9L252.5 488.8L252.6 490.6L252.5 492.5L253.2 494.4L253.2 496.3L253.3 498.2L252.4 500.1L251.7 501.9L251.6 503.8L252.8 505.7L252.6 507.6L251.9 509.5L253.4 511.4L252.3 513.2L252.5 515.1L252.5 517.4L250.6 517.5L248.7 516.6L246.8 516.8L244.9 517.7L243 516.8L241.1 517.9L239.2 516L237.4 516L235.5 517.3L233.6 517.2L231.7 517.4L229.8 516.4L227.9 517.5L225.1 516.8L225.9 514.9L226 512.9L228.4 511.5L227.6 509.3L229 507.6L229.9 505.8L228.7 503.5L229.7 501.7L230.4 499.9L229.9 498.1L231.5 496.1L231.5 494.2L230.4 492.4L229.4 490.7L230.7 488.6L229.3 486.9L229.5 485.2L231.4 485.1L233.3 485L235.2 484.2L237.2 485.9L239.1 484L241 485.5L242.9 485.6L244.8 484.3L246.8 484.7L248.7 484L250.6 485.2Z" fill="#0b0b0b"/>
<path d="M232.6 486.2h.01M234.9 486.4h.01M243.7 485.1h.01M230.2 487.5h.01M234.3 487.1h.01M240.2 487.1h.01M242.5 486.8h.01M244.5 487.5h.01M248.9 486.9h.01M251.5 488.1h.01M232.9 488.4h.01M245.7 489.6h.01M251.8 489.9h.01M233.6 491.3h.01M236.4 490.3h.01M237.8 490.6h.01M232.8 492.6h.01M239.8 493h.01M245.3 493.2h.01M251.8 492.8h.01M234.2 494.4h.01M245.4 495.7h.01M233.8 497.2h.01M234.6 497.1h.01M239.7 496.1h.01M243.9 496.8h.01M246.3 496.5h.01M247.6 495.9h.01M249.9 496.2h.01M231.7 498.6h.01M236.2 498h.01M241.3 498.8h.01M246.9 499h.01M249.7 498.2h.01M232.6 499.6h.01M235.3 500h.01M237.6 501.1h.01M239.6 499.9h.01M242.3 500.1h.01M243.4 500.7h.01M246.1 499.6h.01M248.7 500.9h.01M240.4 502.4h.01M246.7 502.2h.01M240.1 504.9h.01M240.6 504.7h.01M243.3 503.7h.01M240.2 505.6h.01M248.9 506h.01M231.1 508h.01M235.5 508h.01M242.8 508.1h.01M247.8 507.8h.01M236.9 509.6h.01M240.1 509.7h.01M235.4 511.2h.01M236.7 512.2h.01M239.1 511.7h.01M246.2 511.8h.01M249.3 511.9h.01M229.3 512.8h.01M232.5 513.7h.01M234.7 512.6h.01M241.1 512.6h.01M232.7 515.9h.01M237.9 515.5h.01M240.6 514.6h.01M249.9 515.8h.01" fill="none" stroke="#fff" stroke-width="1.2" stroke-linecap="round"/>
<path d="M237.6 485.9h.01M239.8 486.1h.01M250.7 486h.01M251.7 485.9h.01M232.1 488h.01M236.1 487.2h.01M247.6 488.2h.01M231.2 489.9h.01M234.6 489.7h.01M236.7 489.8h.01M241.7 489.9h.01M247.7 489.7h.01M232.3 491.5h.01M242.1 490.7h.01M244.5 491.2h.01M246.9 491h.01M248.3 490.8h.01M250.9 491.3h.01M236 493.4h.01M236.4 493.6h.01M241.3 493.6h.01M243.6 492.3h.01M247.8 492.8h.01M250.4 493h.01M232.6 494.5h.01M237 495.5h.01M239 495.3h.01M239.9 494.4h.01M249.6 494.3h.01M251 494.1h.01M237.1 496.8h.01M234.1 498.1h.01M238 498.9h.01M242.3 498.9h.01M244.4 499.4h.01M251.9 499h.01M250.4 499.9h.01M231.1 502.9h.01M235.9 502.2h.01M238.3 502.6h.01M249.1 501.8h.01M250.8 502.8h.01M233.8 504.8h.01M236.9 504h.01M245 503.6h.01M248.2 503.2h.01M229.5 506.7h.01M231 505.6h.01M234.5 505.2h.01M236.6 505.3h.01M242 506.3h.01M244.1 506.5h.01M232.6 508.5h.01M237.6 508.5h.01M244.9 508.3h.01M249.1 508.2h.01M245.3 508.8h.01M247.4 509.5h.01M250.3 510h.01M227.9 511.3h.01M231.5 510.8h.01M233 511.8h.01M243.1 510.7h.01M247.8 511.2h.01M237.4 512.5h.01M243 512.8h.01M244.8 513.6h.01M247.6 513h.01M248.4 512.9h.01M227 514.5h.01M228.7 514.4h.01M243.4 514.8h.01M246.2 515h.01M248.1 514.6h.01M252.1 515.8h.01" fill="none" stroke="#fff" stroke-width="1.7" stroke-linecap="round"/>
<path d="M245.2 486.1h.01M239.2 488.8h.01M244 489.9h.01M249.8 489.7h.01M240.3 490.5h.01M242.2 495.5h.01M246.3 495.3h.01M242.1 497.1h.01M231 499.8h.01M233.9 501.7h.01M242.8 502.6h.01M244.6 501.4h.01M231.1 504.2h.01M235.4 504h.01M249.7 504.5h.01M238.2 506.6h.01M247.2 506.1h.01M250.3 506.5h.01M238.9 506.9h.01M242.2 507.7h.01M229.8 508.8h.01M231.9 510h.01M233.3 509h.01M239 509.2h.01M242.5 509.1h.01M249.1 509.1h.01M240.8 511.3h.01M251.4 511.9h.01M227.4 513.8h.01M235.8 513.4h.01M251.1 513.5h.01M234.8 515.6h.01M239.6 515.7h.01" fill="none" stroke="#fff" stroke-width="2.25" stroke-linecap="round"/>
<path d="M242 485.3h.01M247 485.6h.01M238.9 487.6h.01M231 516h.01" fill="none" stroke="#fff" stroke-width="2.9" stroke-linecap="round"/>
<path d="M283.2 432.8L285 434.2L286.8 433.1L288.6 432.5L290.4 433.7L292.3 433.6L294.1 432.9L295.9 432.3L297.7 432.7L299.5 433.8L301.3 434.1L303.1 433.4L304.9 433.4L306.7 433.8L308.6 434.2L310.4 432.4L312.2 433.9L314 433.4L315.8 433.9L317.6 434L319.4 433.1L321.2 434.1L323.1 432.3L324.9 432.3L326.7 432.6L328.5 432.5L330.3 434.1L332.1 434.1L333.9 433.3L335.7 432.6L337.5 434.1L339.4 432.8L341.2 432.4L343 433.7L344.8 433.1L346.6 432.3L348.4 432.8L350.2 433.4L352 432.2L353.8 432.5L355.7 433L357.5 432.2L359.3 433.3L361.1 433.8L362.9 432.6L364.7 433.7L366.5 432.7L368.3 432.6L370.1 432.9L372 434.2L373.8 434.3L375.6 433.3L377.4 433.1L379.2 433.5L381 432.5L382.8 432.7L384.6 433.9L386.4 433.5L388.3 433.7L390.1 432.3L391.9 433.1L393.7 433L395.5 433.4L397.3 434.3L399.1 432.8L400.9 432.2L402.8 432.3L404.6 433.7L406.4 434.1L408.2 434.1L410 433.4L411.8 434.1L413.6 433.5L415.4 433.3L417.2 432.5L419.1 432.7L420.9 433.6L422.7 433.5L424.5 433.6L426.3 434.1L428.1 432.2L429.9 433.7L431.7 433.7L433.5 433.2L435.4 433.9L437.2 433.7L439 433L440.8 433.1L442.6 432.9L444.4 433.9L446.2 432.4L448 433.3L449.8 433.4L451.7 433.5L453.5 433.3L455.3 433L457.1 433L458.9 433.1L460.7 432.4L462.5 433.7L464.3 432.5L466.1 432.9L468 433.3L469.8 432.1L471.6 433.4L473.4 433.5L475.2 434L477 432.2L478.8 434.1L480.6 433.2L482.5 432.4L484.3 432.8L486.1 433.7L487.9 432.4L489.7 433.7L491.5 434.3L493.3 434.2L495.1 432.9L496.9 434.1L498.8 434L500.6 432.5L502.4 434.1L504.2 433.6L506.5 433.2L506.5 435.1L506.3 436.9L504.9 438.8L506.5 440.6L506.9 442.4L506 444.3L506.6 446.1L506.7 448L506.9 449.8L507 451.7L505.1 453.5L506 454.3L504.2 456.3L502.4 454.6L500.6 456.4L498.7 456.2L496.9 456.5L495.1 455.6L493.3 454.4L491.5 455.3L489.7 455.6L487.9 456.2L486.1 454.7L484.2 455.4L482.4 456.1L480.6 456.1L478.8 456L477 454.7L475.2 454.4L473.4 455.5L471.5 456.3L469.7 455.4L467.9 454.5L466.1 454.8L464.3 456.5L462.5 456.1L460.7 456.1L458.9 455.3L457 456.2L455.2 455.2L453.4 455.9L451.6 456.3L449.8 455.5L448 456.3L446.2 455.9L444.4 454.6L442.5 456L440.7 455.7L438.9 456.3L437.1 455.8L435.3 455.8L433.5 456L431.7 455.8L429.8 455L428 456.2L426.2 454.9L424.4 456.3L422.6 454.8L420.8 456.5L419 456.4L417.2 456.4L415.3 456.2L413.5 455.9L411.7 456L409.9 456L408.1 455.3L406.3 455.2L404.5 455.8L402.6 455.2L400.8 455.4L399 456.2L397.2 456L395.4 454.9L393.6 454.5L391.8 455.9L390 455.2L388.1 454.6L386.3 456.2L384.5 456.2L382.7 455L380.9 456.1L379.1 454.5L377.3 455.6L375.5 454.6L373.6 455L371.8 454.9L370 455.7L368.2 455.4L366.4 455.6L364.6 455.8L362.8 455.8L360.9 455.2L359.1 455.5L357.3 455.9L355.5 455.1L353.7 454.6L351.9 456L350.1 454.7L348.3 455.7L346.4 455L344.6 455.8L342.8 455.7L341.3 456.1L339.5 456.7L337.4 456.3L335.9 457.5L334.5 458.8L332.6 459L330.4 458.5L328.7 459L327.8 461.6L325.5 460.7L324.8 462.7L323.3 463.8L321.4 464.5L320.7 466.3L318.9 467.2L317.7 468.5L317.3 470.6L314.7 470.6L313.5 472L312.9 474L312.1 475.7L310.7 477.1L311.3 479.4L310.5 481.2L308.5 482.3L308.8 484.5L307.5 486.2L305.6 485.7L303.8 486.3L301.9 485.8L300 486.8L298.2 486.9L296.3 485.5L294.4 485.9L292.5 485.3L290.7 485.5L288.8 485L286.9 485L285.1 486.6L282.5 486L283 484.2L283.5 482.4L282.2 480.5L283.4 478.7L282.3 476.9L282.7 475.1L283.8 473.3L283 471.4L284.2 469.6L283 467.8L283.6 466L283.7 464.2L283.8 462.3L284.1 460.5L283.8 458.7L284 456.9L282.1 455L283.6 453.2L282.6 451.4L283.9 449.6L283.3 447.8L283.2 445.9L283.9 444.1L282.1 442.3L284 440.5L283.3 438.7L284.3 436.8L282.5 435Z" fill="#0b0b0b"/>
<path d="M288 433.3h.01M299.4 433.3h.01M322.7 434h.01M324.4 434h.01M328.4 433.9h.01M329.2 433.2h.01M331.9 433.3h.01M335.9 434.3h.01M344.3 434.4h.01M354.8 434.3h.01M358.9 433.7h.01M370.7 434.2h.01M378.2 434.5h.01M381.7 433.3h.01M390.9 434.7h.01M393.1 434.3h.01M408.5 434h.01M411.9 433.7h.01M423.8 433.9h.01M440.4 433.3h.01M465.3 433.6h.01M468.1 434.3h.01M473.6 434.5h.01M481.2 433.8h.01M486 433.6h.01M492.5 434.6h.01M494.6 433.2h.01M496.7 434.3h.01M502.3 434.6h.01M287.4 435.2h.01M290.9 436.4h.01M295.9 435.6h.01M319.8 435.4h.01M322.6 436.1h.01M324.8 435.3h.01M334.1 436.7h.01M335.8 435.9h.01M338.3 435.1h.01M349.6 436.5h.01M351.5 436.1h.01M365.9 436h.01M372.3 436.2h.01M374.3 434.9h.01M378.7 435.2h.01M381.9 435.2h.01M384.1 435.3h.01M397.5 436.2h.01M408 436.7h.01M411.2 435.9h.01M415 435.9h.01M418.3 436.1h.01M421.2 435h.01M424.8 436.1h.01M426.6 435.1h.01M428.6 436.4h.01M432.3 435.4h.01M433.5 435h.01M449.9 436.6h.01M452.5 436.6h.01M459.9 435.5h.01M461.9 435h.01M471.5 435.1h.01M473.7 436.2h.01M478.3 436.1h.01M488.3 436.3h.01M492 435.4h.01M494.2 436.6h.01M496 435h.01M502.2 435.8h.01M505.7 435.3h.01M297.6 437.8h.01M299.4 437.2h.01M312.1 436.8h.01M314.4 437.9h.01M316.6 438.6h.01M317.4 438.4h.01M321.2 438h.01M325.7 438h.01M342.1 438h.01M347.8 438h.01M352 438.4h.01M354.4 436.9h.01M364.1 437.6h.01M374.3 437.4h.01M374.7 438.4h.01M378.6 438.2h.01M384.1 438.1h.01M387.9 438.5h.01M394 437.7h.01M401.5 437.3h.01M405.7 437.8h.01M408.5 438.4h.01M410.1 438.1h.01M422.1 437.4h.01M423.7 438h.01M428 438h.01M431.3 438.1h.01M438.3 437.9h.01M442.5 437.8h.01M447.5 438.5h.01M458.5 437.4h.01M459.7 437h.01M474.5 437.9h.01M477.4 438.7h.01M478.2 437.1h.01M292.4 439.1h.01M301.3 440.2h.01M327.8 440h.01M335.6 439.6h.01M338 439h.01M339.7 439.8h.01M344.8 440.4h.01M347.8 440.1h.01M351.8 439.2h.01M353 438.8h.01M372.7 439.5h.01M373.8 440.2h.01M378.1 440.4h.01M384 440.6h.01M390.3 440.4h.01M394.3 439h.01M398 439.6h.01M404.6 440.3h.01M408.7 439.6h.01M411.8 438.9h.01M413.3 439.9h.01M422.8 440.1h.01M425.5 439.5h.01M437.9 439.5h.01M440.9 440.1h.01M443.4 439.5h.01M453.8 440.4h.01M477.6 440.6h.01M480.6 439.7h.01M485.3 440h.01M486.5 440.5h.01M495.8 440.2h.01M497.7 440.3h.01M502.6 440.5h.01M288.6 442.7h.01M295.4 442h.01M305 441.4h.01M305.8 441.8h.01M317.3 441.9h.01M334.5 441.4h.01M343.4 442.2h.01M350.4 442h.01M353.1 442.7h.01M356.7 440.9h.01M360.2 442h.01M361.9 442.7h.01M367.2 442.2h.01M378 442.2h.01M381.8 441.8h.01M384 442.2h.01M399.1 441.4h.01M402.6 441.9h.01M412.6 442.6h.01M416.5 442.3h.01M419.3 442.1h.01M428.4 442.5h.01M437.2 441.4h.01M439.4 442.4h.01M442 441.4h.01M445.2 441.4h.01M447 442.2h.01M458.2 441.8h.01M461.2 441.5h.01M462.9 441h.01M465.1 441.8h.01M467.9 442h.01M469.7 442.7h.01M473.9 441.4h.01M477.2 442.6h.01M497.4 441.3h.01M503.5 442.4h.01M285.8 443.1h.01M286.3 444.5h.01M305.6 444.1h.01M310.2 443.1h.01M312.3 443.3h.01M318.6 443.9h.01M321.1 443.2h.01M324 443.4h.01M326.4 443h.01M328.7 444.4h.01M331.8 444.4h.01M336.9 444.3h.01M347.8 443.5h.01M352.9 444.7h.01M355.9 442.9h.01M365.8 443.4h.01M372.1 444.2h.01M377 444.5h.01M384.4 444.6h.01M405.2 443.4h.01M411.4 443.6h.01M419.6 443.8h.01M436.8 443.2h.01M446.5 444.5h.01M461.4 444.2h.01M465.7 443.5h.01M470.8 443.1h.01M491.9 444.6h.01M497.5 443.5h.01M502.7 443.9h.01M290.4 446h.01M293.9 446.6h.01M304 445.2h.01M313.7 445.8h.01M317.7 446.3h.01M326 446.2h.01M332.5 446.3h.01M336.8 446.5h.01M339.8 445.2h.01M348.9 446.3h.01M353.3 446h.01M357.6 445.1h.01M365.6 446.1h.01M369.5 446.1h.01M373.5 445h.01M375.7 446.3h.01M382.5 445.7h.01M396.5 445.6h.01M404.8 446.4h.01M417.7 445.1h.01M419.5 445.5h.01M423.5 445h.01M427.7 446.7h.01M446.1 445.4h.01M485.8 445.3h.01M492 446.2h.01M495.2 445.5h.01M496.8 445.5h.01M501.5 446.2h.01M504.7 445.7h.01M292.8 446.9h.01M297.9 446.9h.01M306 447.5h.01M312.5 447.1h.01M315 448.2h.01M319.8 447.9h.01M331.4 447.5h.01M335 447.3h.01M337.9 447h.01M358.2 448.4h.01M360.2 447.6h.01M364.5 448.7h.01M384.6 447.5h.01M392 447.2h.01M394.4 448.1h.01M407.5 448.6h.01M413.3 447.3h.01M420.9 448.3h.01M426.8 447h.01M434.2 447.9h.01M438.4 448.1h.01M443.8 447.8h.01M453.1 447.5h.01M461.1 448.6h.01M471.7 447.9h.01M476.9 448h.01M482.7 448.6h.01M492.2 447.9h.01M495.5 447.6h.01M498.9 448.2h.01M501.5 448.6h.01M505.3 448.2h.01M288.3 448.9h.01M307.5 450.7h.01M311.7 449.2h.01M314.4 449h.01M323 449h.01M325 448.9h.01M328.3 448.9h.01M345.4 450h.01M351.9 450.4h.01M354.5 449.9h.01M361.8 450.1h.01M364.4 449.2h.01M366.4 449.3h.01M380.1 449.2h.01M382.4 449.5h.01M385.7 450h.01M387.6 449.2h.01M390.8 450.1h.01M393.5 448.8h.01M396.9 449.8h.01M409.5 449.9h.01M413.2 449.9h.01M417.4 450.7h.01M420.9 449.4h.01M436.1 449.2h.01M448.8 449.5h.01M452.9 449h.01M457.7 450h.01M461.2 449.6h.01M468.1 449.3h.01M473.5 449.4h.01M482 450h.01M485.2 449.5h.01M495 450.5h.01M496.4 449.6h.01M504.2 449.4h.01M286.7 452.7h.01M294.3 451.3h.01M301.9 451.9h.01M304.9 452.1h.01M313 451h.01M320 451.8h.01M324.4 450.9h.01M328.2 451.6h.01M331.7 451.1h.01M336.3 451.8h.01M337.3 451.8h.01M363.4 451.7h.01M367.9 452.1h.01M370.5 451.8h.01M372.6 452.3h.01M375.9 451.2h.01M381.2 452.2h.01M402.1 452h.01M406.6 451.9h.01M409.5 451.4h.01M410.5 450.8h.01M425.8 452.5h.01M432.3 451.8h.01M437.2 452.6h.01M464.7 452.7h.01M468.3 452.4h.01M498.2 452.1h.01M505.6 451.3h.01M293.8 454.4h.01M308.8 454.3h.01M316 453.9h.01M320.2 453.1h.01M322.6 454.2h.01M328 454.5h.01M332.2 454.6h.01M337.1 454.2h.01M339.8 454.6h.01M341.7 453.4h.01M344.3 453.7h.01M347.3 454.5h.01M350.8 454h.01M353.6 454.1h.01M359 454.4h.01M361 453.5h.01M364.1 452.8h.01M365.9 453.3h.01M380.3 453.5h.01M383.1 453.2h.01M384.1 453.3h.01M391.8 454.4h.01M405.9 454.5h.01M417.5 453.1h.01M421.5 453h.01M425.6 454.3h.01M433 454h.01M438.2 454.3h.01M445 453.8h.01M446.9 454.6h.01M450.7 454.1h.01M460.9 453.2h.01M466.5 454.2h.01M469.6 454.1h.01M473.3 453h.01M479.5 454.4h.01M490.5 453.7h.01M492.5 454.1h.01M501.8 454.5h.01M309.6 455h.01M314.4 456.1h.01M319.2 455h.01M325.5 456.1h.01M332.2 456.6h.01M347 455.1h.01M376.6 455.1h.01M409.7 455.3h.01M427.8 455h.01M439.1 455.1h.01M488.2 455.2h.01M492.3 455.1h.01M501.4 455.1h.01M290.3 457.6h.01M293.8 457.3h.01M298.4 457h.01M299.3 457.7h.01M302.6 457.4h.01M304.6 457.7h.01M306.2 458.1h.01M313.4 457.7h.01M320.7 458.6h.01M322.3 457.9h.01M325.1 458.7h.01M331.4 458.5h.01M284 459.8h.01M287.6 459.6h.01M296.7 458.8h.01M298.9 459.5h.01M300.2 460.5h.01M303 460.5h.01M307.6 460.4h.01M319.9 459.9h.01M285.4 461.8h.01M288.8 460.8h.01M293.1 462.4h.01M295.2 461.9h.01M300 460.9h.01M309.5 462.3h.01M314.2 462.3h.01M318.8 462.4h.01M287.4 463.8h.01M294.4 464.1h.01M284.1 465.5h.01M298 465.5h.01M309.6 465.8h.01M311.3 464.8h.01M320 466.3h.01M284.2 467.7h.01M287.8 468.5h.01M306.4 468.5h.01M307.1 467h.01M315.5 467.9h.01M283.7 470.1h.01M299.3 470.6h.01M311.8 470.6h.01M286.9 471.4h.01M290.1 472h.01M292 471.9h.01M295.1 471.1h.01M314 472h.01M284.4 473h.01M285.9 473h.01M297.9 474.6h.01M305.4 473.8h.01M310.4 474.5h.01M284.5 475.5h.01M294.7 476h.01M308.4 475.7h.01M286.6 478.1h.01M291.4 477.5h.01M299.7 478.4h.01M304.5 477.1h.01M308.6 478h.01M287.3 478.9h.01M288.9 479.8h.01M292.2 479.2h.01M299.2 479h.01M302.9 479.8h.01M308.6 479.9h.01M286.9 480.9h.01M292.5 481.5h.01M297.7 481.3h.01M302.7 482h.01M307.4 480.8h.01M292.6 483.3h.01M283.7 485h.01M286.6 485.3h.01M290.7 485.6h.01M304.7 485.3h.01" fill="none" stroke="#fff" stroke-width="1.2" stroke-linecap="round"/>
<path d="M290.2 433.9h.01M294.8 434.7h.01M298.4 434.8h.01M302 433.6h.01M304.4 433.6h.01M307.2 433.8h.01M308.3 433.4h.01M320.9 434.5h.01M338.7 434.4h.01M341.2 434.3h.01M345.6 434.2h.01M350.7 433.3h.01M353.1 433.6h.01M361.3 433.5h.01M373.5 433.3h.01M380 434.6h.01M385.1 433.8h.01M388.7 434.5h.01M396.9 434.2h.01M409.5 433.6h.01M416.9 434.5h.01M422.4 433.7h.01M430 434.7h.01M437.8 433.5h.01M444.2 433.8h.01M451.6 434h.01M456.8 434.2h.01M491.1 433.2h.01M290.3 434.9h.01M298.9 435.4h.01M303.8 435.2h.01M305.7 436.7h.01M313.2 435.8h.01M316.7 435.6h.01M326.9 435.7h.01M328.4 436h.01M331.4 435.7h.01M343.3 435.1h.01M345.1 435.9h.01M347.6 435.5h.01M353.2 436.7h.01M356.2 436h.01M358 435h.01M360.5 436.2h.01M385.7 436.7h.01M390.8 436.3h.01M401.7 435.6h.01M404.8 436.4h.01M407.1 436.5h.01M414.1 436.2h.01M423.4 435.9h.01M440.6 435.2h.01M447.7 435.2h.01M454.2 436.1h.01M456.2 435.6h.01M464.3 436.1h.01M466.5 435.6h.01M486.9 436.1h.01M501.2 436.3h.01M285.8 438.5h.01M289.2 438.1h.01M290.3 438.1h.01M294.9 437.8h.01M302.1 438.3h.01M305.3 437.7h.01M306.3 437h.01M309.1 437.7h.01M322.4 436.8h.01M331.7 437h.01M333.9 437.8h.01M337.1 437.3h.01M339.7 437h.01M343.5 438.5h.01M346.1 438.5h.01M358.9 437.3h.01M368.8 438.6h.01M380.3 436.9h.01M381.7 437.2h.01M388.5 437.3h.01M391.9 437.4h.01M395.5 438.7h.01M403.9 437.2h.01M412 437.2h.01M419.6 438.7h.01M426.7 438.3h.01M434.7 437.5h.01M444.3 438.1h.01M448.3 438.1h.01M451.2 437.4h.01M462.1 437.8h.01M466 437.4h.01M469.7 436.9h.01M472.5 437.9h.01M480.3 438.6h.01M483.1 437.9h.01M485.1 437.1h.01M487.2 437.6h.01M490.1 437.7h.01M497.1 436.9h.01M501.9 436.8h.01M288.6 439.3h.01M293.5 439.4h.01M296.2 440.6h.01M306.1 439.4h.01M308.1 439.4h.01M311.8 439.9h.01M315.4 439.2h.01M316.6 440.7h.01M319.3 440.4h.01M321.4 439.7h.01M326.3 439.6h.01M331.6 440.3h.01M342.3 439.3h.01M349.5 439.1h.01M355.1 440.3h.01M358.9 439.5h.01M363.4 440.3h.01M368.4 440.6h.01M370.6 439.8h.01M382.2 439.7h.01M386.1 439.6h.01M388.9 440.6h.01M393.4 439.1h.01M405.8 440.6h.01M415.1 439.1h.01M420.4 439.4h.01M428.8 440.1h.01M434.9 438.9h.01M445.5 440.1h.01M456.4 439h.01M459.5 439h.01M460.8 439.6h.01M464.8 439.6h.01M466.5 438.9h.01M469.2 440h.01M472.8 440h.01M483.1 438.9h.01M493.4 440.7h.01M504.5 439.6h.01M297.7 441.3h.01M299.4 442.6h.01M308.3 442.2h.01M311.8 442.4h.01M313.2 441.7h.01M316.5 442.1h.01M319.6 440.9h.01M323.7 441.3h.01M336.4 440.9h.01M345.3 442.6h.01M355.1 441.6h.01M365.1 442.4h.01M372.5 441.2h.01M376 441.1h.01M387.2 442.6h.01M389.2 442.4h.01M392.5 440.9h.01M394 441.1h.01M396.7 441.6h.01M401.5 442.3h.01M408.6 442.7h.01M410 442.7h.01M414 441.5h.01M423.3 442.4h.01M425.3 441.5h.01M430.3 442.4h.01M432.4 441.8h.01M435.1 440.9h.01M450.9 441.9h.01M455.9 441.1h.01M472.2 441.6h.01M478.7 442h.01M488.8 441.2h.01M491.7 442.6h.01M495.5 441.1h.01M289.6 444.5h.01M292.4 444h.01M294 443h.01M296.7 444.7h.01M298.1 443h.01M303.9 443h.01M308.3 444.3h.01M315.2 443.5h.01M317.8 443.8h.01M334 443h.01M343.3 444.7h.01M344.6 444.2h.01M350 443.4h.01M351.5 444h.01M358.3 444.1h.01M361.5 443.2h.01M367.6 444.2h.01M369.9 443.4h.01M379.8 443h.01M386.6 443.6h.01M388.8 443.8h.01M395.8 442.9h.01M398 443.8h.01M400.3 443.8h.01M402.9 444.1h.01M415.2 443.5h.01M417.6 444.2h.01M424.1 444h.01M427.5 444.2h.01M429 444h.01M432 444.5h.01M438.2 443.3h.01M443.4 443.4h.01M447.8 443.9h.01M452.7 444.1h.01M453.9 442.9h.01M458.6 444.3h.01M463.9 444.5h.01M473.7 444h.01M477.6 443.1h.01M480.9 443.6h.01M487.7 443.3h.01M489.5 443.7h.01M494.7 444.6h.01M495.7 444.4h.01M504.9 443.9h.01M289.1 445.9h.01M298.4 446.5h.01M300.6 445.6h.01M309.1 444.8h.01M312.3 445.9h.01M316.5 446.1h.01M321.1 446.4h.01M327.4 444.9h.01M334.6 444.9h.01M344 445.5h.01M351.2 445.8h.01M355.5 446.6h.01M359.6 446.7h.01M363.3 445.6h.01M371 445.3h.01M378.4 445h.01M379.3 445h.01M385.6 445h.01M387.8 446h.01M388.8 445.2h.01M390.9 445.3h.01M393.6 445.2h.01M399 445.5h.01M400.1 445.7h.01M403.6 445h.01M408.4 446h.01M409.9 446.2h.01M412.1 446.7h.01M415 445.5h.01M431 446.7h.01M432.3 446.4h.01M439.1 445.8h.01M442.7 445.7h.01M461 445.5h.01M465.1 446.6h.01M471.4 444.9h.01M481.6 446h.01M483.1 445.5h.01M488.7 446.2h.01M285.6 447.6h.01M296.5 448.1h.01M300.1 447.9h.01M310.5 448.1h.01M324 446.9h.01M325.7 447.8h.01M329.2 447.4h.01M339.4 447h.01M347.2 447.1h.01M352.9 448.6h.01M355.5 448h.01M362.2 447.3h.01M367.1 448.1h.01M369.5 448.6h.01M373.7 448.5h.01M380.8 447.6h.01M385.6 448.3h.01M388.6 448.2h.01M397 447.8h.01M404.9 447.4h.01M411.1 447.5h.01M423 448.3h.01M425.1 448.5h.01M435.9 448.1h.01M441.6 448.6h.01M446.5 448.3h.01M457 448h.01M467.1 447.1h.01M469.5 448.1h.01M475.4 447.9h.01M484.5 447.5h.01M486.4 447.2h.01M488.7 447.6h.01M493.4 447h.01M502.2 447.8h.01M283.3 450.5h.01M293 450.7h.01M300.3 449.8h.01M309.2 449.1h.01M316.8 449.9h.01M319.1 449.8h.01M320.5 449.5h.01M330.5 450.1h.01M333.8 450.5h.01M336.8 450.5h.01M339.7 449.6h.01M341.8 450.7h.01M347.6 449.7h.01M350.8 450.4h.01M356.9 450.3h.01M359.9 450.6h.01M369.2 450.1h.01M370.6 450.5h.01M373.6 450.4h.01M375.1 450.5h.01M378.5 449.7h.01M388.5 449.2h.01M403 449.6h.01M408.3 449.4h.01M414.5 449.9h.01M419.9 449.4h.01M424.4 450.2h.01M427.7 450.6h.01M433.7 450.7h.01M437.3 449.3h.01M440.5 450.6h.01M456.6 450.7h.01M462.1 450.6h.01M469.4 449.3h.01M476.4 450.7h.01M483.4 450.4h.01M490.2 449.7h.01M493.3 449.7h.01M499.9 448.9h.01M501.5 450.2h.01M284 452.1h.01M290 452.2h.01M296.8 452h.01M303.3 452.6h.01M308.6 452.1h.01M310.2 452.4h.01M316.8 451.9h.01M322.4 451.8h.01M326.4 451.2h.01M332.3 451.6h.01M346.9 452.5h.01M348.8 452.7h.01M351.1 451.5h.01M353.9 452.1h.01M358.6 452.2h.01M360.2 452.4h.01M365.8 452.3h.01M382.8 452h.01M390.8 452.6h.01M395.5 450.9h.01M398.2 451.7h.01M399.2 452.6h.01M405 452.1h.01M413.4 451.9h.01M417.7 451h.01M422.3 451.4h.01M426.3 451.8h.01M437.9 451.8h.01M444.6 451.2h.01M448.5 451h.01M460.3 452.7h.01M465.6 451.7h.01M470.9 451.7h.01M473.6 452.2h.01M475.9 451.2h.01M480.4 452.3h.01M481.5 452.6h.01M484.2 451.3h.01M491 451.6h.01M500.1 452.3h.01M502.2 452h.01M286.9 452.8h.01M288.5 452.9h.01M290.2 454.4h.01M295.6 454.3h.01M297.2 454.6h.01M300.3 453.2h.01M304.1 453.3h.01M307 453.3h.01M318.3 453.1h.01M328.8 454.5h.01M345.7 453.8h.01M356.5 454.5h.01M371.6 454.4h.01M375.4 454.4h.01M378.5 454.4h.01M387.2 453.3h.01M399.2 453.8h.01M402.4 453h.01M407.3 453.6h.01M409.2 453.4h.01M414.5 453.5h.01M424.6 453.7h.01M427.9 453.1h.01M441.2 453.2h.01M449.1 453.7h.01M458.4 454.1h.01M464.7 454.7h.01M484.2 454.4h.01M486.3 453.2h.01M495 453.5h.01M497 454.5h.01M499.9 454h.01M504.4 453.2h.01M285.6 455.2h.01M289.9 455.2h.01M293.8 455.1h.01M301.8 455.6h.01M308.7 456.4h.01M313.1 456.5h.01M323.4 455.8h.01M328.3 455.1h.01M335.2 454.9h.01M337.1 455.6h.01M342.4 455.2h.01M354 455.4h.01M359.8 455.3h.01M393.4 455h.01M410.3 455.1h.01M445.4 454.8h.01M448.6 455.2h.01M477.2 455.2h.01M286 457.6h.01M295.3 457.5h.01M311.6 457.6h.01M316.5 457.9h.01M318.1 458.2h.01M327.4 457.3h.01M290.9 459.8h.01M293.8 459.6h.01M305.1 460.6h.01M312.6 458.8h.01M321.1 459.8h.01M324.2 460h.01M326.3 459.4h.01M284.1 460.9h.01M290.7 462.5h.01M302.9 461.4h.01M311.4 461.6h.01M316.4 462.6h.01M320.9 461.7h.01M289.5 463.1h.01M292.7 464.2h.01M296 463h.01M297.8 464.4h.01M300.4 464.4h.01M309.8 464h.01M311.6 463.8h.01M314.8 464.7h.01M317.5 464.1h.01M318.9 462.9h.01M288.3 465.2h.01M291.1 466.1h.01M296.1 466.2h.01M300.2 466.5h.01M302.7 465.6h.01M305.1 466.3h.01M307.7 465.1h.01M313.7 466.1h.01M289.5 467.9h.01M293.5 466.9h.01M295.5 468h.01M300.8 467.7h.01M302.9 467.6h.01M311.1 467.2h.01M311.7 467.1h.01M317.8 468.6h.01M285.7 470.3h.01M288.7 469.7h.01M290.8 470.5h.01M292.7 469.3h.01M294.4 469.8h.01M296.8 469.2h.01M301.4 469.9h.01M304.6 470h.01M313.4 469.7h.01M316 469.4h.01M284.8 471.1h.01M303 472.6h.01M306.2 471.8h.01M308.6 472.6h.01M311.7 471.2h.01M295.7 473.3h.01M301.3 473.4h.01M306.1 474.5h.01M308.3 473h.01M312.9 473.1h.01M290.5 476.1h.01M291.3 475.8h.01M297.2 475.1h.01M300.6 475h.01M303.6 475.1h.01M304.7 476.3h.01M310.6 476.5h.01M287.6 477.6h.01M292.9 477.7h.01M295.8 478.2h.01M302.2 476.8h.01M307.7 478.2h.01M297.2 480h.01M301.4 480.3h.01M310.4 479h.01M288.1 481.9h.01M295.5 481.4h.01M308.4 481.1h.01M285.6 483.5h.01M289 484.4h.01M294.9 482.8h.01M296.2 484.4h.01M305.5 482.9h.01M295.6 484.9h.01M297.2 485.2h.01" fill="none" stroke="#fff" stroke-width="1.7" stroke-linecap="round"/>
<path d="M284 434.6h.01M402.3 433.4h.01M448.6 434.3h.01M452.8 433.6h.01M460.2 433.6h.01M472 433.9h.01M477.4 433.9h.01M499.2 433.4h.01M504.9 434.5h.01M285.1 436.1h.01M294.1 436.5h.01M300.8 435h.01M308.5 436.4h.01M310.4 436.3h.01M314.9 435.8h.01M340.7 436.6h.01M363.3 436h.01M370.3 436.5h.01M377.5 436.3h.01M393.1 436.3h.01M394.3 436h.01M399.7 436.7h.01M435.7 435.6h.01M437.9 435.3h.01M443.5 436.3h.01M469.3 436.6h.01M474.7 435.4h.01M480.7 435.6h.01M482 436.6h.01M498.7 436.6h.01M326.5 437.3h.01M361.6 438.6h.01M365.8 437.7h.01M398.7 438h.01M414.5 438.5h.01M416.3 437h.01M432.7 437.7h.01M456 438.2h.01M467.9 437.2h.01M492.5 437.7h.01M495.4 437.5h.01M288.1 440.6h.01M298.9 440.6h.01M304 439.7h.01M310.9 439.6h.01M324.2 439.5h.01M333.2 439h.01M360.2 439.9h.01M365.4 440.5h.01M377.5 439.3h.01M399.8 438.9h.01M401.7 440.4h.01M417.6 440h.01M428.1 438.9h.01M436.3 439.1h.01M470.2 440.5h.01M475.9 440.5h.01M490.1 440.1h.01M500.4 440.5h.01M284.3 441.8h.01M286.2 442.6h.01M290.2 442.3h.01M293.2 441.5h.01M301.5 442.7h.01M324.6 441.1h.01M326.8 441.6h.01M332.1 442.3h.01M339.8 440.9h.01M341 442.6h.01M348.1 441.6h.01M368.3 441.1h.01M370.3 442.3h.01M405 442.4h.01M482.9 442.4h.01M489.6 441.3h.01M500.4 441.2h.01M301.6 443.4h.01M334.6 443.1h.01M340.5 444.1h.01M362.3 444.7h.01M374.3 444h.01M390.9 444.6h.01M392.8 444.2h.01M407.5 443.9h.01M408.1 444.6h.01M414.2 444.3h.01M422.1 443.3h.01M433.3 444.5h.01M441.8 443.9h.01M449.2 444.6h.01M456.6 443.9h.01M467.9 444h.01M474.7 444.7h.01M482 444.6h.01M484.2 444.1h.01M287 445.6h.01M295.6 446.4h.01M301.9 445.2h.01M306.6 445.2h.01M323.1 446h.01M330.2 445.5h.01M340.8 445.7h.01M345.2 446.2h.01M422.1 445.2h.01M425.2 444.8h.01M444.6 445.3h.01M448.5 445.7h.01M452 446.6h.01M453 445.6h.01M456.5 444.9h.01M458.3 446.6h.01M463.7 446.4h.01M467.1 446h.01M468.9 446.2h.01M475 446.5h.01M477.3 446.5h.01M478.8 446h.01M490.6 446.1h.01M500.1 445.6h.01M288.1 448.7h.01M294.5 447.4h.01M303.6 448.4h.01M308.8 447.5h.01M322.1 447.1h.01M333.8 446.8h.01M343 448.6h.01M343.8 447.6h.01M349.7 448.6h.01M351.6 447.7h.01M373 448.6h.01M376.5 447.4h.01M379.6 446.8h.01M402.3 447.2h.01M407.9 447.3h.01M416.5 447.8h.01M418 447.6h.01M430.4 447.9h.01M431.9 448.1h.01M455 448.3h.01M458.6 447h.01M463.2 447.1h.01M473.2 447.4h.01M480.7 448.6h.01M287 449.1h.01M290.7 450.7h.01M294.3 450.3h.01M297.8 450.3h.01M302.8 449.4h.01M305.4 450.1h.01M331.1 449.8h.01M342.7 450h.01M399.2 450.5h.01M404.6 449.6h.01M425.3 450.2h.01M431 449.9h.01M443.6 450h.01M446.7 449.7h.01M451.9 449.8h.01M464.6 449.3h.01M479 449h.01M291.8 451.5h.01M297.8 452.4h.01M340.4 450.8h.01M343.2 452.5h.01M344.7 451.7h.01M355.9 452.6h.01M373.6 451.3h.01M379.2 451.3h.01M386.6 451.9h.01M388.4 451.7h.01M415.1 452.3h.01M420.1 451.5h.01M429.6 452.6h.01M433.8 452.2h.01M440.4 452h.01M443.6 451h.01M451.1 451.9h.01M452 452h.01M455.2 451.2h.01M457.1 451.4h.01M461.9 451h.01M478.3 451h.01M487.1 451.4h.01M489.7 450.9h.01M493 451.1h.01M495.2 452.4h.01M302.5 453.7h.01M312.3 453.3h.01M313.9 452.8h.01M325.9 454h.01M354.6 454.2h.01M388.6 454h.01M394.8 453.2h.01M395.7 454.2h.01M400.6 453.3h.01M411.9 453.7h.01M419.4 454.3h.01M430.3 453.3h.01M435.9 453.1h.01M440.2 454.1h.01M455.1 454.1h.01M472.4 453.9h.01M476.6 453.8h.01M480.8 453h.01M487.7 454.7h.01M286.4 455h.01M292.5 455.9h.01M298.2 455.7h.01M303.6 456.3h.01M317.9 455.2h.01M320.9 455h.01M415.7 454.8h.01M484.1 454.9h.01M487.6 455h.01M288 458.4h.01M330.6 458.7h.01M289.7 459h.01M315 459.9h.01M316.8 459.3h.01M297.8 461.3h.01M305.1 462.4h.01M307.1 461.4h.01M323.8 460.8h.01M302.7 463.9h.01M306.4 464.2h.01M285.6 465.4h.01M293.2 465.4h.01M316.8 466.5h.01M291 468.6h.01M298.1 467.1h.01M306.9 469.9h.01M308.2 470.6h.01M296.8 471.2h.01M298.4 471.2h.01M300.6 471.9h.01M309.5 471.4h.01M289.3 473.3h.01M289.7 474.1h.01M293.5 473.8h.01M286.7 476.2h.01M297.9 476.2h.01M297.6 477.4h.01M285.5 479.5h.01M295 479.3h.01M305.3 480.2h.01M289.8 482.3h.01M305.3 482h.01M298.7 484.4h.01M303.9 484h.01M307.2 483.1h.01M288 485h.01M300.7 485.5h.01M301.9 485.9h.01" fill="none" stroke="#fff" stroke-width="2.25" stroke-linecap="round"/>
<path d="M316.4 434.2h.01M318.4 433.4h.01M334.7 434.2h.01M375.9 433.9h.01M419.5 433.8h.01M426.2 434.1h.01M429.2 434.2h.01M463.3 434.4h.01M468.9 434.4h.01M368.4 435.5h.01M388.4 435.4h.01M446.3 436.3h.01M485.2 436.4h.01M292.7 438.5h.01M329.4 437.8h.01M349.6 437.8h.01M357.1 438.5h.01M370.2 437.2h.01M440.2 438.5h.01M453.9 437.5h.01M499 438.7h.01M504.7 438.6h.01M285.7 440.3h.01M431.7 439.9h.01M448.8 440.3h.01M450.8 439.1h.01M452.6 440.2h.01M490.7 440.2h.01M330.2 441.7h.01M380.2 442h.01M422 441.8h.01M448.9 440.9h.01M454.3 441.4h.01M480.8 442.7h.01M485 440.9h.01M500.9 441.1h.01M381.8 443.8h.01M500.9 442.9h.01M361.7 445.4h.01M436.1 445.6h.01M438.2 446.3h.01M289.4 447.8h.01M316.6 448h.01M391 448.7h.01M400.3 448.6h.01M447.3 447.8h.01M450.3 448.2h.01M400.3 449.8h.01M442.2 450.4h.01M472 449.1h.01M488.2 450.5h.01M314.6 451.7h.01M393 452.7h.01M334.7 453.4h.01M368.4 453.4h.01M373.4 453.2h.01M453.5 453h.01M463.1 452.9h.01M296.8 456.4h.01M305.6 455.3h.01M330.5 456h.01M308.3 458.1h.01M311 459.9h.01M285.1 463.4h.01M307.1 464.4h.01M317.3 466.7h.01M300.6 474.1h.01M299.9 481.1h.01M287.7 484.6h.01M300.6 483.2h.01" fill="none" stroke="#fff" stroke-width="2.9" stroke-linecap="round"/>
<path d="M283.2 484L285.1 484.5L287 484.1L288.9 484.3L290.8 485.8L292.7 486L294.6 485.4L296.4 485.4L298.3 484.9L300.2 484.4L302.1 485.1L304 484.7L305.9 484.8L307 484.8L307 486.7L306.4 488.4L306 490.1L305 492.2L305.9 493.9L306.5 495.8L306.8 497.6L306.6 499.6L308.1 501.2L308.9 503L308.8 504.9L308.9 506.9L309.7 508.6L308.8 510.7L310 512.4L309.7 514.4L311.4 516L311 517L309.1 517.7L307.3 518.3L305.4 517.5L303.6 518.6L301.7 519L299.9 518.5L298 518.8L296.2 517.8L294.3 517.1L292.5 517.7L290.6 517.1L288.8 518.6L286.9 517.8L285.1 516.9L283.1 518L284 516.2L284.1 514.3L282.8 512.5L283 510.7L283.9 508.8L282.3 507L283.1 505.2L282.5 503.3L282.7 501.5L283.6 499.7L283.4 497.8L284.2 496L282.6 494.2L283.1 492.3L283.9 490.5L284 488.7L283.6 486.8Z" fill="#0b0b0b"/>
<path d="M292.5 485.3h.01M293.7 485.3h.01M284.2 488h.01M300.1 487.3h.01M303.9 487.3h.01M283.6 489.7h.01M286.5 490.2h.01M288.7 490h.01M290.6 489.9h.01M294.7 488.6h.01M297.1 488.9h.01M284.4 491.3h.01M298.1 491.1h.01M304.2 491.7h.01M284.3 492.2h.01M284.7 495.4h.01M291 494h.01M293.8 495.6h.01M296.8 495.1h.01M306 494h.01M286.6 496.1h.01M287.4 496.8h.01M289.3 495.9h.01M292.6 497.1h.01M296.1 497.3h.01M299.1 497h.01M300.6 496.7h.01M287.1 498h.01M291.8 499.3h.01M301.1 498.7h.01M306.2 498.3h.01M299 499.9h.01M303.6 499.6h.01M305.2 500.2h.01M306.8 500.8h.01M288.3 502.3h.01M295.9 501.7h.01M302.1 502.1h.01M304.4 502.3h.01M291.6 504.6h.01M294.1 503.6h.01M286.1 506.4h.01M290.9 506.3h.01M293.7 506.5h.01M307.6 506h.01M289.6 506.9h.01M293.8 508.3h.01M297.3 507.7h.01M299.4 507.6h.01M300.7 507h.01M303.5 507.6h.01M305.1 508.5h.01M291.5 509.1h.01M306.1 510.1h.01M308 510.4h.01M287.2 510.8h.01M306.4 511.1h.01M284.7 513.8h.01M291.7 513.6h.01M297.4 514.1h.01M300 513.5h.01M303.5 513.6h.01M308.4 514.2h.01M285.6 515.4h.01M296.4 515.3h.01M305.9 515.9h.01M292.7 517.2h.01M300.5 517.4h.01M301.4 516.3h.01M309.8 517.8h.01" fill="none" stroke="#fff" stroke-width="1.2" stroke-linecap="round"/>
<path d="M283.6 486.4h.01M288.6 486h.01M296.1 486.4h.01M301.1 485.7h.01M303.4 486.2h.01M305.1 485.6h.01M287.4 488.3h.01M289.5 487.5h.01M290.8 486.7h.01M292.5 487.1h.01M295 487.1h.01M297.5 488h.01M301.2 487.8h.01M305.5 487.1h.01M292 489.5h.01M301.2 488.8h.01M302.9 488.8h.01M287.3 491.3h.01M291.8 491.5h.01M298.9 491.7h.01M301.6 490.9h.01M285.4 493.8h.01M288.1 492.5h.01M292.4 492.8h.01M296.9 492.5h.01M298.2 492.2h.01M300.8 493.3h.01M302.7 492.1h.01M304.4 492.6h.01M289.8 494.9h.01M294.6 494.4h.01M299.5 494.2h.01M303.8 494h.01M283.4 496.4h.01M294.3 496.1h.01M302.8 496.2h.01M284.3 498.4h.01M288.6 497.7h.01M297.3 498.7h.01M299.4 497.7h.01M285.9 500.9h.01M288.5 499.8h.01M293.1 500.8h.01M293.8 500h.01M300.7 500.5h.01M284.1 502.2h.01M286.8 502.7h.01M291 502.3h.01M299 502.6h.01M305.8 502.2h.01M286.2 504h.01M287.7 504.7h.01M289.5 503.4h.01M296.7 504.3h.01M299.3 503.9h.01M303.2 503.2h.01M306.8 503.9h.01M285 505.5h.01M289.2 505.5h.01M298 505.5h.01M301.5 505.1h.01M304.3 505.7h.01M284.1 508.2h.01M286.7 508.5h.01M287.7 507.4h.01M292.4 507.7h.01M307.3 508.5h.01M285.4 509.8h.01M287 510.5h.01M295.2 509.4h.01M298.2 509h.01M299.5 508.8h.01M302.5 509.8h.01M303.8 510.4h.01M284 511.1h.01M285.2 511h.01M289.9 512.2h.01M298.3 510.7h.01M303.3 511.2h.01M304.9 510.8h.01M309.1 512.2h.01M287.7 513.1h.01M292.6 512.5h.01M296.1 513.5h.01M288.7 515.8h.01M290.9 514.6h.01M291.7 514.6h.01M293.8 514.6h.01M298.3 514.4h.01M300 515.3h.01M302.2 515.2h.01M285.1 516.2h.01M288.3 517.3h.01M290.8 517.2h.01M296.8 517.5h.01M306.3 517.1h.01M308.1 517.2h.01" fill="none" stroke="#fff" stroke-width="1.7" stroke-linecap="round"/>
<path d="M298.9 485.1h.01M306.9 486.1h.01M299 490h.01M305.7 489.4h.01M288.8 491.4h.01M293.2 491h.01M290.8 493.5h.01M286.2 495.6h.01M302.2 494.6h.01M305.9 496.6h.01M292.9 498h.01M294.9 499h.01M304.7 498h.01M283.4 501.3h.01M297.2 499.9h.01M293.3 502.5h.01M297.9 502.2h.01M284.6 503.2h.01M295.3 506h.01M300.6 505.5h.01M309.1 508.6h.01M289.8 509.7h.01M293.2 510.2h.01M291.7 512.3h.01M294.8 511.1h.01M296 510.6h.01M299.9 511.4h.01M289.5 512.8h.01M301 513.8h.01M305.6 512.9h.01M307 514.7h.01M309.8 515.9h.01M287.8 517.6h.01M294.9 516.8h.01M303.7 516.5h.01" fill="none" stroke="#fff" stroke-width="2.25" stroke-linecap="round"/>
<path d="M285.3 485.3h.01M295.4 490.9h.01M294.3 492.7h.01M290.4 499.7h.01M300.8 504.5h.01M305.8 503.7h.01M305.3 506.5h.01" fill="none" stroke="#fff" stroke-width="2.9" stroke-linecap="round"/>
<circle cx="29.9" cy="56.7" r="25" fill="none" stroke="#111" stroke-width="1.3" stroke-dasharray="2.6 1.1 1.4 0.9"/>
<path d="M55.1 99.3A17.7 17.7 0 0 1 52 64.1" fill="none" stroke="#111" stroke-width="1.3" stroke-dasharray="2.6 1.1 1.4 0.9"/>
<path d="M57 64.1A17.7 17.7 0 0 1 71.5 76.7" fill="none" stroke="#111" stroke-width="1.3" stroke-dasharray="2.6 1.1 1.4 0.9"/>
<path d="M26.8 55.2l4.2 .8l-.8 2.8l-3.2-1z" fill="#111" stroke="#111" stroke-width="0.8" />
<path d="M53 80.2l3 1l-1 2.2l-2.2-1z" fill="#111" stroke="#111" stroke-width="0.8" />
<circle cx="711.8" cy="81.5" r="25" fill="none" stroke="#111" stroke-width="1.3" stroke-dasharray="2.6 1.1 1.4 0.9"/>
<circle cx="744.8" cy="127.3" r="37.8" fill="none" stroke="#111" stroke-width="1.3" stroke-dasharray="2.6 1.1 1.4 0.9"/>
<path d="M707.6 80.4l5-2l-1 4.6z" fill="#111" stroke="#111" stroke-width="0.8" />
<path d="M741.6 127l6 2.6l-3.6 3.4z" fill="#111" stroke="#111" stroke-width="0.8" />
<circle cx="262.8" cy="72.8" r="31.7" fill="#fff" stroke="#111" stroke-width="0.9"/>
<path d="M266.4 74L293.2 63.8M260.6 73.1L239.2 93.9M261.5 74.5L261.5 104.5M262.1 73.5L257.5 104.1M263.6 72.8L289.8 56.3M262 72.5L232.1 80.7M262.5 73.1L260.5 104.4M259.5 72.8L236.5 90.5M263.1 75.7L283 97.2M264.6 75.4L292.5 83.8M264.2 69.4L256.1 41.8M264.9 74L294.4 69.8M260.4 75.5L259.2 104.3M262.5 72L236.4 55.3M265.8 70.6L272.9 42.8M259.9 71.4L231.5 77.5M262.7 73.5L276.6 101.3M261.9 73.5L253.8 103.2M261.7 74.1L260.3 104.4M263.4 73.4L293.8 79.4M264.2 71.7L271.6 42.4M262.4 70.5L240.3 50.5M262.1 75L271.5 103.3M265.2 73L290.6 57.5M264.3 74.7L293.3 81.4M262.1 71.3L235.4 56.9M265.2 72.1L283 48.4M263.1 71.9L252.8 42.7M265.2 73.4L292.5 61.7M264.3 74.7L292.9 82.8M265.1 70.8L270.5 42.1M260.4 72.6L235.2 88.4M260.6 75.6L260.7 104.4M260.6 72.9L237.8 92.3M263.3 72.6L280.1 46.2M263.5 74.1L291.3 86.7M264.8 75.1L293.6 80.5M260.4 75L255.6 103.7M260.5 73L238.4 93M259.2 72.1L233.8 85.5M264.3 72.3L281.6 47.3M264.2 70.1L259.4 41.3M263.1 73.8L287.7 92.4M260.5 70.6L231.6 67.4M261 72.9L238.1 92.7M263.7 73.7L293.9 78.7M264.1 69.6L256.2 41.8M262.9 72L249.1 44.2M261.6 74.5L262.9 104.5M262.8 69L245.1 46.5M259.8 71L231.2 74.6M262.8 73.2L280.7 99M262.6 72.8L235.8 89.4M262.8 72.8L293.8 66.3M262.8 69L244.6 46.9M263.7 71.8L267.2 41.4M265 74.2L294.5 72M263.5 73.4L294.4 75.9M260.6 73.3L241 95.8M261.4 72.9L237.8 92.3M261.3 72.6L234.1 86.2M265.8 74L293.7 65.7M262.7 72.8L238.1 92.7M265.1 71.2L274 43.1M265.8 71L276.2 44M262.6 72.8L233.1 83.8M263.1 72.3L258.1 41.5M264.4 71.9L277.1 44.5M263.5 69.5L250.5 43.6M262.8 72.6L243.3 47.8M262.7 75.7L279.7 99.6M263 73.5L287.7 92.5M260.8 72L232 80.2M262.4 74L271.4 103.3M260.2 74.8L252.9 102.9M263.3 73.6L291.7 85.9M262.6 75.4L278.6 100.3M259.8 71.6L231.8 79.6M263 69.3L246.4 45.7M263.7 72.5L281.8 47.4M265.2 75.6L293.5 80.7M265.3 72.1L283.5 48.8M261.8 69.8L237.5 53.7M262.1 73.4L255.1 103.6M263.1 74.1L285.8 94.6M265.3 73.5L292.8 62.6M262.5 72.1L236.2 55.5M265.8 72.8L288.8 54.7M260.9 75.5L262.6 104.5M262.3 72.8L236.9 91.1M262.7 71.4L243.4 47.8M263 73.2L289.1 90.6M261.6 72.4L232.3 81.6M263.4 72.9L292.2 61M263 73.2L290.3 88.6" fill="none" stroke="#111" stroke-width="0.8" />
<circle cx="262.8" cy="72.8" r="31.7" fill="none" stroke="#111" stroke-width="1.2"/>
<path d="M215 79.6Q219.3 80.4 225.2 79.2Q219.2 78.4 215 79.6ZM215 79.6Q218.5 83.2 224.6 86.2Q219.6 81.6 215 79.6ZM215 79.6Q216.7 84.1 221.1 89Q218.4 83 215 79.6ZM215 79.6Q214.6 84.1 216.4 90Q216.6 83.8 215 79.6ZM215 79.6Q212.3 84.7 210.9 92.4Q214.2 85.3 215 79.6ZM215 79.6Q210.8 82.2 206.5 87.4Q212.1 83.6 215 79.6ZM215 79.6Q210 80.1 203.7 82.9Q210.5 82 215 79.6ZM215 79.6Q209.7 76.7 201.7 74.8Q209.1 78.5 215 79.6ZM215 79.6Q212.6 76.2 207.8 73.2Q211.3 77.7 215 79.6ZM215 79.6Q213.6 74.7 209.6 68.9Q211.8 75.5 215 79.6ZM215 79.6Q216 75.4 215.1 69.7Q214.1 75.4 215 79.6ZM215 79.6Q218.7 75.4 221.8 68.3Q217 74.3 215 79.6ZM215 79.6Q218.6 78.4 222.4 74.8Q217.6 76.7 215 79.6Z" fill="#111" stroke="#111" stroke-width=".4" stroke-linejoin="round"/>
<circle cx="215" cy="79.6" r="1" fill="#111" stroke="#111" stroke-width="0.5"/>
<path d="M197.2 92.5Q201.4 93.8 207.3 93.1Q201.5 91.8 197.2 92.5ZM197.2 92.5Q199.9 95.7 205.1 98.3Q201.1 94.2 197.2 92.5ZM197.2 92.5Q198.4 95.8 201.8 98.9Q199.9 94.6 197.2 92.5ZM197.2 92.5Q196 97 196.8 103.2Q198 97 197.2 92.5ZM197.2 92.5Q194 95.6 191.5 101.2Q195.6 96.7 197.2 92.5ZM197.2 92.5Q193.5 93.7 189.7 97.3Q194.6 95.4 197.2 92.5ZM197.2 92.5Q193.3 91 187.7 91.3Q193.1 93 197.2 92.5ZM197.2 92.5Q194.7 90 190 88.6Q193.7 91.8 197.2 92.5ZM197.2 92.5Q196.4 88.7 193.3 84.6Q194.7 89.6 197.2 92.5ZM197.2 92.5Q198.5 89.7 197.9 85.5Q196.5 89.5 197.2 92.5ZM197.2 92.5Q199.8 89.9 201.3 85.2Q198.1 89 197.2 92.5ZM197.2 92.5Q201.7 91.5 206.9 87.9Q200.9 89.7 197.2 92.5Z" fill="#111" stroke="#111" stroke-width=".4" stroke-linejoin="round"/>
<circle cx="197.2" cy="92.5" r="1" fill="#111" stroke="#111" stroke-width="0.5"/>
<path d="M492 54Q496.4 55.1 502.4 54.1Q496.4 53 492 54ZM492 54Q496.4 56.5 503.2 57.7Q497 54.5 492 54ZM492 54Q495.3 59 501.7 64.1Q496.8 57.5 492 54ZM492 54Q493.8 59.6 498.4 66.2Q495.6 58.6 492 54ZM492 54Q491.5 58.2 493.3 63.7Q493.6 57.9 492 54ZM492 54Q490.7 58 491.3 63.8Q492.7 58.2 492 54ZM492 54Q488.5 58.2 485.9 65.2Q490.4 59.2 492 54ZM492 54Q487.4 56.9 482.8 62.7Q488.8 58.4 492 54ZM492 54Q487.7 54.8 482.7 58.1Q488.5 56.7 492 54ZM492 54Q486.1 53.4 478 55.1Q486.2 55.5 492 54ZM492 54Q486.7 50.5 478.4 48Q485.9 52.4 492 54ZM492 54Q489.1 50.4 483.5 47.3Q487.8 52 492 54ZM492 54Q489.7 48.6 484.5 42.6Q488 49.8 492 54ZM492 54Q492.5 49 490.7 42.4Q490.4 49.2 492 54ZM492 54Q493.4 48.1 492.9 39.7Q491.3 47.9 492 54ZM492 54Q494.8 50.3 496.3 44.2Q492.8 49.5 492 54ZM492 54Q496.6 50.9 501.2 44.9Q495.1 49.5 492 54ZM492 54Q498.3 52.7 506.1 48.5Q497.5 50.7 492 54Z" fill="#111" stroke="#111" stroke-width=".4" stroke-linejoin="round"/>
<circle cx="492" cy="54" r="1" fill="#111" stroke="#111" stroke-width="0.5"/>
<path d="M526 72Q533.4 73.3 543.7 72.7Q533.5 71.3 526 72ZM526 72Q533.8 74.3 544.9 75Q534.1 72.2 526 72ZM526 72Q530.5 76.3 538.1 80Q531.7 74.5 526 72ZM526 72Q529.7 77.3 536.6 82.8Q531.2 75.8 526 72ZM526 72Q527.8 79.5 532.6 88.9Q529.7 78.7 526 72ZM526 72Q526.1 79.4 528.6 89.2Q528.1 79.1 526 72ZM526 72Q524.9 80.8 525.8 93Q526.9 80.8 526 72ZM526 72Q520.9 78.4 515.9 88.6Q522.7 79.5 526 72ZM526 72Q521.5 76.5 517.4 84.2Q523.2 77.7 526 72ZM526 72Q519.9 75.6 513 82.5Q521.2 77.2 526 72ZM526 72Q520.2 73 513.1 76.6Q520.9 74.9 526 72ZM526 72Q520.4 70.6 512.6 71.2Q520.3 72.7 526 72ZM526 72Q519.9 69.9 511.1 69.4Q519.6 71.9 526 72ZM526 72Q521.9 68.2 514.9 65.2Q520.8 70 526 72ZM526 72Q523.1 66.4 517 60.2Q521.4 67.7 526 72ZM526 72Q524.5 64.6 520.1 55.1Q522.5 65.3 526 72ZM526 72Q526.9 65.8 525.7 57.2Q524.8 65.8 526 72ZM526 72Q527.7 66.5 527.5 58.7Q525.6 66.3 526 72ZM526 72Q529 67.2 530.8 59.8Q527 66.5 526 72ZM526 72Q530.3 67.8 534.1 60.6Q528.6 66.6 526 72ZM526 72Q531.2 70.1 537.2 65.4Q530.2 68.3 526 72ZM526 72Q531.8 71.2 539.1 67.8Q531.2 69.2 526 72Z" fill="#111" stroke="#111" stroke-width=".4" stroke-linejoin="round"/>
<circle cx="526" cy="72" r="1" fill="#111" stroke="#111" stroke-width="0.5"/>
<path d="M508 94Q512.3 95.4 518.3 94.9Q512.4 93.3 508 94ZM508 94Q510.9 96.8 516 98.4Q511.9 94.9 508 94ZM508 94Q510.4 97.7 515.3 101.1Q511.8 96.2 508 94ZM508 94Q508.4 97.6 511.2 101.6Q510.3 96.8 508 94ZM508 94Q506.7 97.6 507.5 102.7Q508.8 97.7 508 94ZM508 94Q505.4 96.4 504 100.9Q507.2 97.4 508 94ZM508 94Q504.1 96.6 500.5 102Q505.6 98.1 508 94ZM508 94Q504.2 94.9 500.1 98.4Q505.2 96.8 508 94ZM508 94Q504.6 93.4 500.2 95Q504.8 95.4 508 94ZM508 94Q504.6 91 498.7 89.2Q503.6 92.9 508 94ZM508 94Q504.8 90 498.7 86.4Q503.4 91.6 508 94ZM508 94Q506.6 88.7 502.3 82.4Q504.7 89.6 508 94ZM508 94Q508.9 90 507.6 84.6Q506.8 90.1 508 94ZM508 94Q510.6 89.8 511.8 83.1Q508.6 89.1 508 94ZM508 94Q512.3 90.9 516.4 84.9Q510.7 89.5 508 94ZM508 94Q513.2 92.7 519.3 88.7Q512.3 90.8 508 94Z" fill="#111" stroke="#111" stroke-width=".4" stroke-linejoin="round"/>
<circle cx="508" cy="94" r="1" fill="#111" stroke="#111" stroke-width="0.5"/>
<path d="M415.9 475Q419.2 475.9 423.4 474.2Q418.9 473.4 415.9 475ZM415.9 475Q418.9 478 424.5 479.5Q420.1 475.8 415.9 475ZM415.9 475Q416.9 478.4 420.6 481.3Q418.9 476.9 415.9 475ZM415.9 475Q415.4 479.3 417.6 484.7Q417.9 478.9 415.9 475ZM415.9 475Q413.7 477.3 413.6 481.4Q416.1 478.1 415.9 475ZM415.9 475Q412.8 476.2 410.7 480Q414.6 478 415.9 475ZM415.9 475Q411.4 475.5 406.4 479Q412.4 477.8 415.9 475ZM415.9 475Q411.9 474.2 406.6 476Q412.1 476.7 415.9 475ZM415.9 475Q412.8 472.4 407.4 471.5Q411.8 474.7 415.9 475ZM415.9 475Q414.7 471.7 410.9 469.2Q412.8 473.4 415.9 475ZM415.9 475Q416.8 470.6 415 464.8Q414.3 470.8 415.9 475ZM415.9 475Q418 472.6 418 468.4Q415.6 471.9 415.9 475ZM415.9 475Q419.2 472.5 421.2 467.4Q417.1 471.1 415.9 475ZM415.9 475Q420 474.3 424.2 470.7Q418.8 472.1 415.9 475Z" fill="#111" stroke="#111" stroke-width=".4" stroke-linejoin="round"/>
<circle cx="415.9" cy="475" r="1" fill="#111" stroke="#111" stroke-width="0.5"/>
<path d="M400.1 492.5Q404.7 494.3 411.4 493.8Q405 491.8 400.1 492.5ZM400.1 492.5Q403.1 494.7 408 494.8Q403.8 492.3 400.1 492.5ZM400.1 492.5Q401.5 496 405.7 499Q403.4 494.4 400.1 492.5ZM400.1 492.5Q400.5 497.4 403.9 503.1Q402.9 496.5 400.1 492.5ZM400.1 492.5Q398.7 495.6 399.8 500Q401.2 495.7 400.1 492.5ZM400.1 492.5Q397 496.1 395.5 502.3Q399.3 497.1 400.1 492.5ZM400.1 492.5Q395.5 495 391.3 500.6Q397.2 496.8 400.1 492.5ZM400.1 492.5Q396.6 491.9 392.3 494.1Q397.1 494.4 400.1 492.5ZM400.1 492.5Q397 490.5 392 490.6Q396.4 493 400.1 492.5ZM400.1 492.5Q396.6 489.1 390.3 487Q395.4 491.3 400.1 492.5ZM400.1 492.5Q398.7 487.4 394.2 481.9Q396.5 488.7 400.1 492.5ZM400.1 492.5Q400.6 488.1 398.3 482.6Q398.1 488.6 400.1 492.5ZM400.1 492.5Q402.7 487.8 403.4 480.4Q400.3 487.1 400.1 492.5ZM400.1 492.5Q403.8 490.5 406.8 485.6Q402 488.7 400.1 492.5ZM400.1 492.5Q403.8 492 407.5 488.6Q402.6 489.7 400.1 492.5Z" fill="#111" stroke="#111" stroke-width=".4" stroke-linejoin="round"/>
<circle cx="400.1" cy="492.5" r="1" fill="#111" stroke="#111" stroke-width="0.5"/>
<path d="M145 456.5L129.2 449.5M145 456.5L132.4 446.7M145 456.5L134.3 444.5M145 456.5L139.2 444M145 456.5L140.5 440.8M145 456.5L144.8 443.3M145 456.5L147.5 443.1M145 456.5L152.4 444.4M145 456.5L155.2 443.6M145 456.5L158.9 446M145 456.5L159.2 452.3" fill="none" stroke="#0b0b0b" stroke-width="1.5" />
<path d="M151.2 453.8L152.9 454.6L151.5 455.3L155.9 456.9L151.3 458.2L152.9 459.1L150.9 460.2L152.6 463.3L150.9 462.3L152.4 468.1L147.7 464.3L147.9 466.5L145.8 462.1L144.7 466.3L144.3 464.4L140.9 469L141 463.3L139.4 464.8L140.5 461.8L137.5 462.8L138.7 461.3L132.9 461.9L137.2 458L135 457.9L138 455.4L136.9 453.7L138.6 453.9L135.5 449.9L140.3 451.4L139.5 449.7L141.9 452L141.4 448.9L142.5 450.2L143.2 445.3L145.5 449.7L146 447.9L147.6 449.9L150 448.3L149.4 450.1L154.5 447.8L151.7 452.7L153.8 452.1Z" fill="#fff" stroke="#111" stroke-width="0.9" stroke-linejoin="round"/>
<circle cx="145" cy="456.5" r="0.8" fill="#111" stroke="#111" stroke-width="0.4"/>
<path d="M175 458.4L161.4 453.3M175 458.4L164.2 452M175 458.4L165.6 449M175 458.4L167.9 443.8M175 458.4L171.4 446M175 458.4L175.8 444.5M175 458.4L179.2 444.4M175 458.4L181.6 445.6M175 458.4L184.3 446.6M175 458.4L187.4 451M175 458.4L186.8 453.5" fill="none" stroke="#0b0b0b" stroke-width="1.5" />
<path d="M180.8 459.1L184.2 461.1L182.3 461L186 465.3L180.5 463.9L181.6 465.7L177.9 463.2L178.4 467.1L177.4 465.6L176.2 470.9L174 465.9L173.2 467.8L173.8 464.3L172.2 465.8L172.4 464.3L168.6 467L170.1 462.5L168.5 463.3L169.2 460.7L167.2 460.1L168.6 459.4L164.2 457.7L168.8 456.6L167.3 455.6L169.9 456L167.1 452.9L168.9 453.6L166.8 448.4L171.5 451.4L171.1 449.4L174.7 451.7L176.2 448.6L176.4 450.5L180.3 446.1L179.7 451.9L181.4 450.5L179.3 454.3L181.8 453.8L180.7 455L185.5 455L181.6 457.8L183.4 458.1Z" fill="#fff" stroke="#111" stroke-width="0.9" stroke-linejoin="round"/>
<circle cx="175" cy="458.4" r="0.8" fill="#111" stroke="#111" stroke-width="0.4"/>
<path d="M178.4 480.3L180.8 480.8L179.2 481.7L184.4 483.2L179.3 485L181.2 485.9L177.4 486.9L179.1 489.8L177.4 488.9L178.9 494.3L174.6 490.8L174.8 492.8L173.1 490.3L171.9 493.3L171.5 491.4L168.3 496.1L168.2 490.4L166.7 492L167.6 487.8L165 488.3L166.1 487.1L161.2 487.1L165.2 484.2L163.4 483.9L165.8 483.8L162.9 482.3L164.7 482.1L160.6 478.5L166 479.1L164.8 477.5L168.2 478.9L167.8 475.9L168.9 477.2L169.4 472.1L172 476.5L172.5 474.6L174.1 478.2L176.6 476L176.1 477.6L180.8 475.4L178.3 480L180.2 479.4Z" fill="#fff" stroke="#111" stroke-width="0.9" stroke-linejoin="round"/>
<circle cx="172" cy="483.6" r="0.8" fill="#111" stroke="#111" stroke-width="0.4"/>
<circle cx="433.4" cy="462.3" r="11.4" fill="#fff" stroke="#111" stroke-width="0.1"/>
<path d="M439.6 471.5L437.1 473.1L434.2 473.8L431.2 473.6L428.5 472.4L426.2 470.6L424.5 468.5L423.1 466.2L422.1 463.7L421.7 461L422.1 458.1L423.5 455.6L425.8 453.6L428.5 452.5L431.3 451.9L434 451.8L436.8 452.1L439.6 452.9L442.1 454.4L444 456.7L445 459.4L445 462.2L444.3 464.9L443.1 467.3L441.6 469.5L439.6 471.5L436.9 472.3L434.2 473.1L431.3 472.8L428.8 471.7L426.7 470L425.1 468.1L423.9 465.9L422.9 463.6L422.5 461L422.9 458.4L424.2 456L426.3 454.2L428.8 453.2L431.4 452.7L434 452.6L436.6 452.9L439.2 453.6L441.5 455L443.3 457L444.2 459.6L444.2 462.2L443.5 464.7L443.1 467.3L441.1 469.1L439 470.5L436.5 471.3L434.1 471.4L431.8 470.6L430 469.2L428.9 467.5L428.3 465.9L428.1 464.3L428.1 463L428.6 461.7L429.3 460.8" fill="none" stroke="#222" stroke-width="1.0" />
<path d="M470.2 503.8L465.2 507L459.3 508.7L453.1 508.4L447.4 506.3L442.7 502.8L438.9 498.6L436 494.1L433.7 489.1L432.3 483.7L432.4 477.9L434.4 472.4L438.3 467.8L443.4 464.6L449 462.8L454.7 462.2L460.3 462.2L466 463.1L471.6 465L476.5 468.5L480.1 473.3L481.7 478.9L481.5 484.7L480 490L477.5 494.9L474.5 499.4L469.6 502.1L465.1 505.3L459.6 507L453.9 506.9L448.5 505L444 501.8L440.5 497.9L437.8 493.7L435.5 489.2L434.1 484.2L434 478.8L435.7 473.6L439.2 469.2L443.9 466.2L449.1 464.5L454.4 463.8L459.6 463.8L464.9 464.5L470.1 466.2L474.8 469.2L478.3 473.6L480 478.8L481.6 484.2L478.9 489.3L475.6 493.4L471.9 496.7L468 499.1L463.7 500.6L459.3 500.8L455.2 499.5L452 497.2L449.9 494.3L448.8 491.3L448.5 488.7L448.7 486.4" fill="none" stroke="#444" stroke-width="0.75" />
<path d="M498.1 497.1L495.2 498.9L491.8 499.7L488.3 499.4L485.2 497.9L482.8 495.7L480.9 493.2L479.4 490.5L478.4 487.5L478.2 484.2L479.2 481L481.3 478.3L484.2 476.5L487.4 475.6L490.6 475.3L493.8 475.4L497.1 476.1L500.1 477.6L502.6 480L504 483L504.2 486.3L503.4 489.4L502.1 492.2L500.4 494.8L498.1 497.1L495.2 498.9L491.8 498.9L488.5 498.5L485.7 497.1L483.4 495.1L481.6 492.7L480.3 490.2L479.3 487.4L479.1 484.4L480 481.4L481.9 478.9L484.7 477.2L487.7 476.4L490.7 476.1L493.6 476.2L496.7 476.8L499.5 478.2L501.8 480.4L503.1 483.3L503.3 486.4L502.5 489.2L501.3 491.8L499.7 494.2L498.1 497.1L495 498.3L491.8 498.4L488.8 497.4L486.5 495.5L485 493.3L484.2 491.2L483.8 489.1L483.9 487.2L484.4 485.5L485.6 484.1L487.1 483.4L488.7 483.2" fill="none" stroke="#222" stroke-width="1.0" />
<path d="M682 510.7L677.6 511.9L682.8 513.7L677.2 514.2L682.5 516.8L677.7 516.9L681.1 519.5L676.8 519.1L679.7 522.2L676.7 522L677.6 524.3L674.4 523.5L677.1 527.8L672.5 525.3L674.6 529.6L670.8 527.1L672.2 531.6L667.8 527L669 532.1L666.5 529.9L666.4 533.4L664.2 531L663.4 533.5L661.6 531.4L660.6 534.2L659 531L657.7 534.2L656.6 530L654.6 535.2L653.9 531.4L652 533.1L651.9 529.3L648.5 534.1L649.4 528.9L646.2 531.8L647.4 527.3L643.6 530.2L645.4 525.8L640.7 528.9L644.2 523.6L638.6 526.6L642.8 521.8L636.9 524L639.7 520.7L635.5 521.2L638.4 518.4L636.6 517.6L639.8 515.4L633.4 515.4L639.9 513L633.4 512.2L637.2 510.7L635 509.3L637.7 508.1L634.4 506.2L638.8 505.8L635.7 503.5L640 503.6L636.5 500.6L639.4 500.5L637.7 497.9L642.5 499.4L639.5 495.5L643 496.6L641.5 493.2L646.1 496.4L643.5 490.9L646.8 493.2L647 490.9L650 493.8L649.5 489.6L651.6 491.3L652 488.1L653.8 489.7L654.7 487.2L656.6 490.9L657.6 485.3L659 491.3L660.7 486.2L661.5 490.5L663.7 486.5L664.2 490.5L666.5 487.6L665.7 493.4L669.6 488.2L668.3 493.5L672 490.1L671.2 493.7L673.9 492.6L671.7 497L675.6 495L673.1 498.8L678 496.8L674.3 500.9L679.2 499.5L677.1 502.1L681.1 501.9L677.2 504.7L682.4 504.7L678.6 506.9L681.6 507.8L679.5 509.4Z" fill="#0b0b0b"/>
<path d="M649 501.5L643.8 496.4M648.7 517.4L640 523.4M644.4 517.8L639.6 520.2M672.7 509.2L680.6 508.4M646.3 503.6L641.4 500.8M665.6 496L667.2 492.6M669.8 517.4L677.9 522.2M646.2 518.9L640.7 522.5M669 520.9L673.7 525.3M646 511.7L636.6 512.5M671.9 511L680 511.1M658.6 498.5L658.8 491M648.2 500.5L642.8 495M647 501.3L641.3 496.5M652.3 521L646.8 530.3M669.1 515.8L677.1 519.6M653.5 524.7L651.4 530.5M648.2 497.7L646 494.9M646.6 517.7L639.6 521.9M647.9 516.8L640.4 521.1M656 523.5L654.5 531.2M648.3 523.5L645.5 527M669.8 505.8L677 502.7M645.4 512.3L636.9 513.3M657 524.4L656.2 532.3M667.8 498.8L671.9 493.7M654 499.7L650.1 490M659 498.6L659.5 488M644.6 510.5L638.7 510.5M656 496.7L654.9 490.5M670.4 519.9L674.4 523M674.1 513.2L678.1 513.9M671.6 509.2L678.6 508.4M651.3 499.8L647 493.3M673.1 504.5L678.9 502.1M644.4 514.5L636.6 516.6" fill="none" stroke="#fff" stroke-width="0.9" stroke-linecap="round"/>
<path d="M644 516.3L639 518.2M662.9 498L664.9 492M670.8 509.7L680.3 508.9M654.3 524.8L652.6 530.3M667.3 518.8L673 524.1M672.3 505.6L679.2 503M663.5 520.6L667.4 528.1M649.1 518.9L642.4 524.9M671.4 507.2L680 504.8M648 506.6L637.6 502.4M648.6 517.1L640.1 522.6M648.1 504.7L640.1 500M648.7 499.9L643.9 494.5M669.4 515.5L677.4 519.1M661.4 523.1L663.5 531.8M664.9 496.8L667.7 490.7M652.3 499.5L648.9 493.2M666.6 520.6L671.1 526.2M649.7 502.4L642.7 495.6M658.9 496.6L659.1 490.7M672.8 503.5L676.1 501.8M669.9 505L676.1 501.9M670.4 519.9L675.8 524M662.2 496.6L663.7 491.2" fill="none" stroke="#fff" stroke-width="1.5" stroke-linecap="round"/>
<path d="M658.9 508.3Q668.5 503.3 661.8 494.9Q652.2 499.9 658.9 508.3Z" fill="#fff"/>
<path d="M655.9 512.3Q644.7 510.6 641.4 521.3Q652.5 523 655.9 512.3Z" fill="#fff"/>
<path d="M659.6 512.9Q656.3 523.5 666.9 526.7Q670.2 516.1 659.6 512.9Z" fill="#fff"/>
<path d="M663.7 511.6Q668.3 516.4 674.3 513.5Q669.7 508.7 663.7 511.6Z" fill="#fff"/>
<path d="M653.1 507.6Q650.1 501.4 643.1 501.9Q646.1 508.2 653.1 507.6Z" fill="#fff"/>
<path d="M655.9 520.2Q652.2 524.3 653.3 529.6Q657 525.5 655.9 520.2Z" fill="#fff"/>
<path d="M664.8 507Q671.1 507.3 674.1 501.6Q667.7 501.4 664.8 507Z" fill="#fff"/>
<path d="M654.8 502.9Q654.7 496.9 650.1 492.9Q650.2 499 654.8 502.9Z" fill="#fff"/>
<path d="M648.7 509.3Q644.2 506.2 639 508Q643.5 511.1 648.7 509.3Z" fill="#fff"/>
<path d="M667.4 517Q670 521.2 674.9 522.2Q672.3 518 667.4 517Z" fill="#fff"/>
<path d="M740.2 517L734.7 518.3L737.4 519.8L733.7 520.7L739.1 523.1L731.8 522.8L738.4 526.1L732.6 525.6L735.1 528L732.1 528.1L734.3 530.8L729.5 529.5L733.5 533.7L729.6 532.6L730.8 535.2L726 532.7L729.2 537.6L725.9 536.1L727 539.4L723.8 537.5L724.7 541.1L721.4 538.3L722 542.1L719.1 539.2L720.4 545.4L717.5 541.9L717.7 546.9L715 542.4L714.4 546.3L712.2 541.2L711.6 547.4L709.8 542.1L708.6 546.1L707.3 543.2L705.7 546.3L705.1 540.3L702.8 545.9L702.5 541.5L699.8 545.9L700 540.9L697.2 544.6L698.3 538.8L694.3 543.7L695.6 538.8L692.7 540.8L692.7 538.5L690.2 539.5L690.7 536.7L687.2 538.4L690.6 533.3L685.2 536.2L688.7 531.8L683.6 533.7L687.5 529.7L683.3 530.5L687.4 527L681.5 528.2L685.7 525.2L681 525.4L683 523.4L678.6 523L684.5 520.6L677.9 520L685 518.2L678.5 517L683.3 515.8L678.9 514.1L683.7 513.3L677.5 510.8L683.2 510.6L679.9 508.3L686.1 508.9L681.1 505.6L685.5 506.1L682.8 503.2L687.2 504.2L684.6 501L687.3 501.2L685.4 497.9L690.2 500.3L687.3 495.7L692.3 499L690.1 494.5L694.4 497.9L692.2 492.4L696.1 496.2L694.1 489.9L698.4 495.3L697.3 489.7L700.1 493.2L700 488.6L702.5 492.5L702.5 486.3L704.8 491.2L705.8 488.6L707.4 492.6L708.6 485.9L709.8 493.4L711.4 488.2L712.2 492.8L714.3 488.4L714.4 493.9L717.4 488.1L716.7 494.5L720.3 488.8L719.7 493.5L723 490.1L722.2 494.4L725.7 491.5L722.8 497.9L727.2 494.3L726.6 497.1L729.7 495.9L727.2 500.2L730.6 498.9L728.7 502.1L733 500.7L731.3 503.4L736.3 502.2L730 506.9L734.9 506.1L732.9 508.3L735.8 508.8L732 511.1L737.5 511.3L731.9 513.5L737.4 514.2L733.6 515.8Z" fill="#0b0b0b"/>
<path d="M695.3 520.8L684.9 523.7M689.6 512.6L681.6 510.7M693.6 510.4L683.7 506.1M713 535.4L714.7 542.8M689.4 518.1L682.4 518.5M703.2 532.8L700.4 540.9M715.9 501.5L720.3 492.1M724.3 505.1L729.7 501M725.9 522.2L733 524.3M722.5 502.2L725.7 498.7M688.6 515.2L682.9 514.7M698.8 507L691.2 499.3M705 535.3L703.5 543.2M700.2 533.7L695.9 542.2M702.1 532L698.1 541.4M711.4 537.5L712.2 542.6M699 531.4L694.6 537.9M726.7 526.7L730.5 528.7M689.5 512.1L682.4 510.3M717.1 500.4L720 494.7M726.2 508L730.4 505.8M706.3 536.6L705.6 543M728.3 515.2L735.8 514.5M695.9 507.8L687.1 501.3M720.9 504.9L728.3 497.6M691.3 508.2L686.2 505.6M690.6 520.9L681.3 523M719.1 534.1L722.7 539.8M718.4 504L725 495.2M720.3 502.5L726.4 495M722.3 531L727.8 536.7M703.2 503.7L699.5 494.3M698.1 499.8L695.8 496M718.4 502.3L722.1 496.6M725.6 505.2L730.3 501.9M698.9 507L691.2 499M716.1 530.6L721.5 540.5M726.3 514.6L735.4 513.3M721.2 532.5L724 535.9M722.3 513.8L736 510.7M727.8 510L732.5 508.2M701.8 532.1L697.6 541.4M714.3 530.8L718.7 541.3M721.5 532.1L725.5 536.9M710.5 537.1L711.1 543" fill="none" stroke="#fff" stroke-width="0.9" stroke-linecap="round"/>
<path d="M711.8 534.3L713.2 541.8M691.7 517.9L682.2 518.4M694.3 511.3L684.9 507.7M692.1 528.3L688 531.1M706.7 501.2L705.7 492.6M694.3 530.5L690.4 534.2M695.5 502L692.3 498.3M704.8 501.4L702.5 491.5M703.7 504L698.7 491M718.7 506.6L727.5 497.7M707.2 536.3L706.8 543.2M708.7 537.2L708.7 544.2M708.6 536.8L708.6 542.7M723.9 523L732.6 526.3M703.4 500.7L700.7 492.1M697.7 507.6L688.5 499.7M694.7 526.1L687.3 531M727.7 518.7L735.2 519.3M700.2 505.8L691.8 494.5M695 526.1L687.2 531.2M723.1 521.7L733.6 525.1M725.6 520.4L732.7 521.9M715.4 532.4L718.6 539.7M702.6 503.2L698.8 494.4M702.7 533.2L699.1 542.9M704.3 534.8L702 544.1M716.5 502.6L721.6 493.4M691.3 518.4L681.4 519.3M706.6 536.8L706 542.3M704.8 502.1L702.3 492.6" fill="none" stroke="#fff" stroke-width="1.5" stroke-linecap="round"/>
<path d="M710.2 515.2Q724.3 512.3 725.7 498Q711.6 500.9 710.2 515.2Z" fill="#fff"/>
<path d="M705.7 517.9Q692.3 513.7 683.5 524.7Q696.9 528.9 705.7 517.9Z" fill="#fff"/>
<path d="M709.2 520Q702.6 532.9 713.9 542.1Q720.5 529.1 709.2 520Z" fill="#fff"/>
<path d="M706.9 513.8Q707.8 502.6 698 497.1Q697.1 508.3 706.9 513.8Z" fill="#fff"/>
<path d="M708.4 510.9Q712.3 501.9 707.8 493.2Q703.8 502.2 708.4 510.9Z" fill="#fff"/>
<path d="M713.8 518.9Q720.1 526.4 729.8 524.7Q723.5 517.2 713.8 518.9Z" fill="#fff"/>
<path d="M703.8 524.8Q696.6 529.3 695.7 537.7Q702.8 533.2 703.8 524.8Z" fill="#fff"/>
<path d="M699.8 514.6Q693.6 509.2 685.6 510.8Q691.7 516.3 699.8 514.6Z" fill="#fff"/>
<path d="M717.4 514.6Q725.5 516.3 731.6 510.8Q723.6 509.2 717.4 514.6Z" fill="#fff"/>
<path d="M717.2 525.6Q719.6 532.3 726.3 534.7Q723.9 528 717.2 525.6Z" fill="#fff"/>
<path d="M698.6 510Q695.4 504 688.6 503Q691.9 509 698.6 510Z" fill="#fff"/>
<path d="M712.8 505.5Q717.3 500.4 717.2 493.5Q712.7 498.7 712.8 505.5Z" fill="#fff"/>
<path d="M706.2 530.5Q702.8 535.9 704.2 542.2Q707.6 536.8 706.2 530.5Z" fill="#fff"/>
<rect x="253" y="433.5" width="30" height="102.5" fill="#fff"/>
<line x1="252.5" y1="433.2" x2="252.5" y2="536" stroke="#111" stroke-width="0.9"/>
<line x1="283.2" y1="433.2" x2="283.2" y2="536" stroke="#111" stroke-width="0.9"/>
<path d="M727.4 343 Q766 345 785.4 367" fill="none" stroke="#111" stroke-width="0.9" />
<path d="M673.7 451 Q722 449.5 751.3 469.2" fill="none" stroke="#111" stroke-width="0.9" />
<rect x="88.5" y="35" width="75.2" height="76" fill="#fff" stroke="#111" stroke-width="0.9"/>
<rect x="97.3" y="98.1" width="57.7" height="12.5" fill="#fff" stroke="#111" stroke-width="0.9"/>
<line x1="97.3" y1="104.4" x2="155" y2="104.4" stroke="#111" stroke-width="0.9"/>
<line x1="231.5" y1="111" x2="506" y2="111" stroke="#111" stroke-width="1.0"/>
<line x1="350" y1="111.2" x2="388" y2="111.2" stroke="#111" stroke-width="1.1"/>
<rect x="493.3" y="121" width="13.2" height="56.8" fill="#fff" stroke="#111" stroke-width="0.9"/>
<line x1="499.6" y1="121" x2="499.6" y2="177.8" stroke="#111" stroke-width="0.9"/>
<rect x="74" y="110.7" width="157.6" height="4.9" fill="#0a0a0a"/>
<rect x="100" y="110.7" width="53" height="4.9" fill="#fff"/>
<line x1="100" y1="111" x2="153" y2="111" stroke="#111" stroke-width="0.7"/>
<line x1="101.5" y1="112.8" x2="126.5" y2="112.8" stroke="#111" stroke-width="0.9"/>
<line x1="125.5" y1="115" x2="151.5" y2="115" stroke="#111" stroke-width="1.2"/>
<rect x="74" y="110.7" width="5" height="322.1" fill="#0a0a0a"/>
<rect x="74" y="244.5" width="5" height="41.9" fill="#fff"/>
<line x1="74.4" y1="244.5" x2="74.4" y2="286.4" stroke="#111" stroke-width="0.9"/>
<line x1="78.6" y1="244.5" x2="78.6" y2="286.4" stroke="#111" stroke-width="0.9"/>
<line x1="76.4" y1="244.5" x2="76.4" y2="286.4" stroke="#111" stroke-width="0.8"/>
<rect x="74" y="427.9" width="160.2" height="5" fill="#0a0a0a"/>
<rect x="92.7" y="427.9" width="46" height="5" fill="#fff"/>
<line x1="92.7" y1="428.4" x2="138.7" y2="428.4" stroke="#111" stroke-width="1.0"/>
<line x1="94.2" y1="430.6" x2="115.7" y2="430.6" stroke="#111" stroke-width="0.9"/>
<line x1="114.7" y1="432.4" x2="137.2" y2="432.4" stroke="#111" stroke-width="0.9"/>
<line x1="115.7" y1="427.9" x2="115.7" y2="432.9" stroke="#111" stroke-width="0.8"/>
<rect x="167" y="427.9" width="47.3" height="5" fill="#fff"/>
<line x1="167" y1="428.4" x2="214.3" y2="428.4" stroke="#111" stroke-width="1.0"/>
<line x1="168.5" y1="430.6" x2="190.7" y2="430.6" stroke="#111" stroke-width="0.9"/>
<line x1="189.7" y1="432.4" x2="212.8" y2="432.4" stroke="#111" stroke-width="0.9"/>
<line x1="190.7" y1="427.9" x2="190.7" y2="432.9" stroke="#111" stroke-width="0.8"/>
<rect x="226.3" y="426.3" width="7.9" height="6.9" fill="#0a0a0a"/>
<rect x="226.3" y="110.7" width="5.3" height="80.7" fill="#0a0a0a"/>
<rect x="226.5" y="186.4" width="30.7" height="5.1" fill="#0a0a0a"/>
<rect x="254.5" y="184" width="2.7" height="7.5" fill="#0a0a0a"/>
<rect x="481.5" y="185.8" width="29.5" height="5" fill="#0a0a0a"/>
<rect x="481.5" y="183.4" width="2.5" height="7.4" fill="#0a0a0a"/>
<rect x="227" y="190" width="3" height="90" fill="#0a0a0a"/>
<rect x="506" y="110.7" width="157.2" height="4.6" fill="#0a0a0a"/>
<rect x="527.3" y="110.7" width="41" height="4.6" fill="#fff"/>
<rect x="527.3" y="110.7" width="41" height="1.5" fill="#111"/>
<rect x="528.3" y="112.8" width="39" height="2.3" fill="#9a9a9a"/>
<line x1="546.8" y1="110.7" x2="546.8" y2="115.3" stroke="#111" stroke-width="0.9"/>
<rect x="598.9" y="110.7" width="45.4" height="4.6" fill="#fff"/>
<rect x="598.9" y="110.7" width="45.4" height="1.5" fill="#111"/>
<rect x="599.9" y="112.8" width="43.4" height="2.3" fill="#9a9a9a"/>
<line x1="621.5" y1="110.7" x2="621.5" y2="115.3" stroke="#111" stroke-width="0.9"/>
<rect x="505.9" y="110.7" width="5" height="13.2" fill="#0a0a0a"/>
<rect x="507.6" y="123.9" width="3" height="50.5" fill="#fff"/>
<line x1="508" y1="123.9" x2="508" y2="174.4" stroke="#111" stroke-width="0.9"/>
<line x1="510.2" y1="123.9" x2="510.2" y2="174.4" stroke="#111" stroke-width="0.9"/>
<rect x="506.5" y="174.4" width="4.5" height="16.4" fill="#0a0a0a"/>
<rect x="657.9" y="110.7" width="5.3" height="154.1" fill="#0a0a0a"/>
<line x1="660.5" y1="264.8" x2="660.5" y2="282" stroke="#111" stroke-width="0.9"/>
<rect x="659.3" y="283.8" width="3.4" height="17.6" fill="#0a0a0a"/>
<path d="M255.5 184.4 Q289.6 167.8 323.6 184.4" fill="#fff" stroke="#111" stroke-width="1.0" />
<path d="M257 186.6 Q289.6 173 322.1 186.6" fill="none" stroke="#111" stroke-width="0.9" />
<line x1="258.5" y1="190.9" x2="322.1" y2="190.9" stroke="#111" stroke-width="1.0" stroke-dasharray="3.2 1.9"/>
<line x1="272.5" y1="178.2" x2="272.5" y2="180.8" stroke="#111" stroke-width="0.7"/>
<line x1="284.1" y1="176.3" x2="284.1" y2="178.9" stroke="#111" stroke-width="0.7"/>
<line x1="295" y1="176.3" x2="295" y2="178.9" stroke="#111" stroke-width="0.7"/>
<line x1="306.6" y1="178.2" x2="306.6" y2="180.8" stroke="#111" stroke-width="0.7"/>
<path d="M414.5 184.4 Q448.8 167.8 483 184.4" fill="#fff" stroke="#111" stroke-width="1.0" />
<path d="M416 186.6 Q448.8 173 481.5 186.6" fill="none" stroke="#111" stroke-width="0.9" />
<line x1="417.5" y1="190.9" x2="481.5" y2="190.9" stroke="#111" stroke-width="1.0" stroke-dasharray="3.2 1.9"/>
<line x1="431.6" y1="178.2" x2="431.6" y2="180.8" stroke="#111" stroke-width="0.7"/>
<line x1="443.3" y1="176.3" x2="443.3" y2="178.9" stroke="#111" stroke-width="0.7"/>
<line x1="454.2" y1="176.3" x2="454.2" y2="178.9" stroke="#111" stroke-width="0.7"/>
<line x1="465.9" y1="178.2" x2="465.9" y2="180.8" stroke="#111" stroke-width="0.7"/>
<rect x="349.6" y="173.8" width="38.8" height="104.6" fill="#fff" stroke="#111" stroke-width="0.9"/>
<line x1="350" y1="180.4" x2="388" y2="180.4" stroke="#111" stroke-width="0.9"/>
<line x1="350" y1="186.8" x2="388" y2="186.8" stroke="#111" stroke-width="0.7"/>
<rect x="322" y="186.4" width="39" height="4.9" fill="#0a0a0a"/>
<rect x="322" y="184" width="2.6" height="7.3" fill="#0a0a0a"/>
<rect x="377.4" y="186.4" width="38.4" height="4.9" fill="#0a0a0a"/>
<rect x="413.2" y="184" width="2.6" height="7.3" fill="#0a0a0a"/>
<rect x="360.4" y="216" width="17.6" height="61.6" fill="#0a0a0a"/>
<rect x="358.5" y="232" width="21.5" height="19" fill="#fff"/>
<rect x="358.5" y="232" width="21.5" height="19" fill="#fff" stroke="#111" stroke-width="0.8"/>
<text x="369.2" y="240.6" font-size="3.6" text-anchor="middle" font-weight="bold">THRU-</text>
<text x="369.2" y="245.6" font-size="3.6" textLength="19" lengthAdjust="spacingAndGlyphs" text-anchor="middle" font-weight="bold">FIREPLACE</text>
<rect x="226.5" y="276" width="20.2" height="3.6" fill="#0a0a0a"/>
<line x1="246.7" y1="276.5" x2="287" y2="276.5" stroke="#111" stroke-width="0.8" stroke-dasharray="2.8 1.5"/>
<line x1="246.7" y1="279.3" x2="287" y2="279.3" stroke="#111" stroke-width="0.8" stroke-dasharray="2.8 1.5"/>
<rect x="286" y="275.3" width="64" height="4.9" fill="#0a0a0a"/>
<path d="M288.5 277.8l2.4 -1.5l2.4 1.5l2.4 1.5l2.4 -1.5l2.4 -1.5l2.4 1.5l2.4 1.5l2.4 -1.5l2.4 -1.5l2.4 1.5l2.4 1.5l2.4 -1.5l2.4 -1.5l2.4 1.5l2.4 1.5l2.4 -1.5l2.4 -1.5l2.4 1.5l2.4 1.5l2.4 -1.5l2.4 -1.5l2.4 1.5l2.4 1.5l2.4 -1.5" fill="none" stroke="#fff" stroke-width="0.8" />
<path d="M288.5 277.8l2.4 1.5l2.4 -1.5l2.4 -1.5l2.4 1.5l2.4 1.5l2.4 -1.5l2.4 -1.5l2.4 1.5l2.4 1.5l2.4 -1.5l2.4 -1.5l2.4 1.5l2.4 1.5l2.4 -1.5l2.4 -1.5l2.4 1.5l2.4 1.5l2.4 -1.5l2.4 -1.5l2.4 1.5l2.4 1.5l2.4 -1.5l2.4 -1.5l2.4 1.5" fill="none" stroke="#fff" stroke-width="0.8" />
<line x1="349" y1="278.4" x2="388.4" y2="278.4" stroke="#111" stroke-width="1.5"/>
<rect x="173.6" y="115" width="2.8" height="64" fill="#0a0a0a"/>
<line x1="174" y1="179" x2="174" y2="205.5" stroke="#111" stroke-width="0.75" stroke-dasharray="2.8 1.5"/>
<line x1="176.1" y1="179" x2="176.1" y2="205.5" stroke="#111" stroke-width="0.75" stroke-dasharray="2.8 1.5"/>
<rect x="173.6" y="205.5" width="2.8" height="60.5" fill="#0a0a0a"/>
<rect x="172.5" y="263.5" width="5" height="2.5" fill="#0a0a0a"/>
<line x1="182.4" y1="114.7" x2="182.4" y2="175.3" stroke="#111" stroke-width="0.9"/>
<line x1="221.2" y1="114.7" x2="221.2" y2="175.3" stroke="#111" stroke-width="0.9"/>
<rect x="176" y="173.7" width="17.4" height="2.8" fill="#0a0a0a"/>
<rect x="208.5" y="173.7" width="18" height="3.1" fill="#0a0a0a"/>
<rect x="189.3" y="115.6" width="25.2" height="5.6" fill="none" stroke="#111" stroke-width="0.9"/>
<text x="201.9" y="119.9" font-size="3.7" textLength="21" lengthAdjust="spacingAndGlyphs" text-anchor="middle" font-weight="bold">SHELVES</text>
<text x="199.8" y="144.8" font-size="3.5" textLength="17" lengthAdjust="spacingAndGlyphs" text-anchor="middle" font-weight="bold">WALK IN</text>
<text x="199.8" y="149.2" font-size="3.5" textLength="15" lengthAdjust="spacingAndGlyphs" text-anchor="middle" font-weight="bold">CLOSET</text>
<text x="191.5" y="184.3" font-size="5.5" textLength="26" lengthAdjust="spacingAndGlyphs" text-anchor="middle">DRESSING</text>
<text x="190.2" y="189.9" font-size="5.5" textLength="9" lengthAdjust="spacingAndGlyphs" text-anchor="middle">RM.</text>
<rect x="194.3" y="208.6" width="2.4" height="14.4" fill="#0a0a0a"/>
<rect x="176" y="208.6" width="20.7" height="2" fill="#0a0a0a"/>
<rect x="176" y="220.5" width="20.7" height="2.5" fill="#0a0a0a"/>
<line x1="194.6" y1="223" x2="194.6" y2="249" stroke="#111" stroke-width="0.8"/>
<line x1="196.3" y1="223" x2="196.3" y2="249" stroke="#111" stroke-width="0.8"/>
<rect x="171.3" y="226.6" width="2.7" height="2.8" fill="#0a0a0a"/>
<text x="185.3" y="216.4" font-size="3.6" textLength="13.5" lengthAdjust="spacingAndGlyphs" text-anchor="middle" font-weight="bold">LINEN</text>
<line x1="176.4" y1="223" x2="194.6" y2="249" stroke="#111" stroke-width="0.7"/>
<line x1="194.6" y1="223" x2="176.4" y2="249" stroke="#111" stroke-width="0.7"/>
<rect x="173.9" y="248.4" width="55.5" height="2.8" fill="#0a0a0a"/>
<rect x="212.5" y="208.6" width="14" height="2" fill="#0a0a0a"/>
<rect x="215" y="177" width="11.5" height="52.5" fill="none" stroke="#111" stroke-width="0.9"/>
<circle cx="220.4" cy="192.4" r="4.9" fill="none" stroke="#111" stroke-width="0.9"/>
<circle cx="220.4" cy="219.6" r="4.9" fill="none" stroke="#111" stroke-width="0.9"/>
<text x="205.8" y="225.8" font-size="6.0" textLength="13.5" lengthAdjust="spacingAndGlyphs" text-anchor="middle">BATH</text>
<rect x="220.4" y="233.4" width="6" height="10.9" fill="none" stroke="#111" stroke-width="0.9"/>
<rect x="210.5" y="235.5" width="9.9" height="7.4" fill="none" stroke="#111" stroke-width="0.9"/>
<rect x="176.4" y="251.2" width="31.2" height="10.8" fill="none" stroke="#111" stroke-width="0.9"/>
<circle cx="191.7" cy="256.5" r="4.9" fill="none" stroke="#111" stroke-width="0.9"/>
<rect x="211.5" y="252.2" width="12.9" height="3.9" fill="none" stroke="#111" stroke-width="0.9"/>
<rect x="214.1" y="256.1" width="8.3" height="9.9" fill="none" stroke="#111" stroke-width="0.9"/>
<text x="195.7" y="274" font-size="6.0" textLength="13.8" lengthAdjust="spacingAndGlyphs" text-anchor="middle">BATH</text>
<rect x="78" y="227" width="77.8" height="2.8" fill="#0a0a0a"/>
<rect x="150.9" y="227" width="3" height="60.7" fill="#0a0a0a"/>
<rect x="78.7" y="305.1" width="75.1" height="2.8" fill="#0a0a0a"/>
<line x1="78.7" y1="321.6" x2="114.8" y2="321.6" stroke="#111" stroke-width="0.9"/>
<rect x="113.9" y="306" width="2.8" height="16.2" fill="#0a0a0a"/>
<rect x="113.9" y="319.5" width="39.9" height="2.7" fill="#0a0a0a"/>
<rect x="150.9" y="303.5" width="3" height="20.8" fill="#0a0a0a"/>
<rect x="151.3" y="340.5" width="3.1" height="91.5" fill="#0a0a0a"/>
<rect x="151.3" y="341" width="5" height="3.2" fill="#0a0a0a"/>
<text x="80.3" y="316.8" font-size="3.6" font-weight="bold">CL.</text>
<text x="142.5" y="314.4" font-size="3.6" font-weight="bold">CL.</text>
<rect x="173.7" y="282.9" width="2.2" height="20.9" fill="#0a0a0a"/>
<rect x="173.7" y="284.4" width="20.9" height="2.1" fill="#0a0a0a"/>
<line x1="194.6" y1="285" x2="227" y2="285" stroke="#111" stroke-width="0.8"/>
<rect x="192.9" y="284.4" width="2.4" height="23" fill="#0a0a0a"/>
<rect x="173.7" y="301.7" width="55.9" height="2.1" fill="#0a0a0a"/>
<line x1="180.9" y1="286.5" x2="180.9" y2="301.7" stroke="#111" stroke-width="0.8"/>
<text x="181.6" y="300.9" font-size="3.4" font-weight="bold">LIN.</text>
<rect x="227" y="280" width="2.9" height="23.8" fill="#0a0a0a"/>
<line x1="228.9" y1="304.5" x2="228.9" y2="326.2" stroke="#111" stroke-width="0.9" stroke-dasharray="2.2 1.6"/>
<rect x="173.7" y="327.6" width="21.6" height="2.2" fill="#0a0a0a"/>
<rect x="173.7" y="327.6" width="2.2" height="16.6" fill="#0a0a0a"/>
<rect x="171.6" y="342" width="4.3" height="2.2" fill="#0a0a0a"/>
<rect x="195.3" y="324" width="2.5" height="20.2" fill="#0a0a0a"/>
<line x1="197.8" y1="327.8" x2="227.7" y2="327.8" stroke="#111" stroke-width="0.8"/>
<rect x="197.8" y="342" width="31.6" height="2.2" fill="#0a0a0a"/>
<line x1="175.9" y1="343.8" x2="195.3" y2="343.8" stroke="#111" stroke-width="0.8"/>
<rect x="227" y="327.6" width="1.6" height="16.6" fill="#0a0a0a"/>
<rect x="226.4" y="342" width="3.4" height="3" fill="#0a0a0a"/>
<text x="177.3" y="337.8" font-size="3.5" font-weight="bold">CL.</text>
<text x="217.3" y="335.6" font-size="3.5" font-weight="bold">CL.</text>
<rect x="226.5" y="372" width="2.8" height="60" fill="#0a0a0a"/>
<rect x="226.5" y="389.6" width="31.3" height="2.9" fill="#0a0a0a"/>
<line x1="257.8" y1="392.1" x2="275.5" y2="392.1" stroke="#111" stroke-width="0.8"/>
<rect x="275.5" y="389.6" width="43" height="2.9" fill="#0a0a0a"/>
<rect x="318.5" y="389.5" width="35.3" height="3" fill="#fff"/>
<line x1="318.5" y1="389.9" x2="353.8" y2="389.9" stroke="#111" stroke-width="0.8"/>
<line x1="318.5" y1="392.1" x2="353.8" y2="392.1" stroke="#111" stroke-width="0.8"/>
<line x1="318.5" y1="391.3" x2="353.8" y2="391.3" stroke="#555" stroke-width="0.7"/>
<line x1="336" y1="389.5" x2="336" y2="392.5" stroke="#111" stroke-width="0.8"/>
<rect x="353.8" y="389.4" width="38.2" height="3" fill="#0a0a0a"/>
<rect x="392" y="389.4" width="22.9" height="3" fill="#fff"/>
<line x1="392" y1="389.8" x2="414.9" y2="389.8" stroke="#111" stroke-width="0.8"/>
<line x1="392" y1="392" x2="414.9" y2="392" stroke="#111" stroke-width="0.8"/>
<line x1="392" y1="391.2" x2="414.9" y2="391.2" stroke="#555" stroke-width="0.7"/>
<line x1="403.5" y1="389.4" x2="403.5" y2="392.4" stroke="#111" stroke-width="0.8"/>
<rect x="414.9" y="389.4" width="37.1" height="3" fill="#0a0a0a"/>
<rect x="452" y="389.6" width="39.7" height="3.2" fill="#fff"/>
<line x1="452" y1="390" x2="491.7" y2="390" stroke="#111" stroke-width="0.8"/>
<line x1="452" y1="392.4" x2="491.7" y2="392.4" stroke="#111" stroke-width="0.8"/>
<line x1="452" y1="391.5" x2="491.7" y2="391.5" stroke="#555" stroke-width="0.7"/>
<line x1="471.5" y1="389.6" x2="471.5" y2="392.8" stroke="#111" stroke-width="0.8"/>
<rect x="491.7" y="389.6" width="16.7" height="3.2" fill="#0a0a0a"/>
<line x1="234" y1="433.2" x2="506" y2="433.2" stroke="#111" stroke-width="0.9"/>
<rect x="297.9" y="426.3" width="5.8" height="7.1" fill="#0a0a0a"/>
<rect x="366" y="426.3" width="5.8" height="7.1" fill="#0a0a0a"/>
<rect x="434.6" y="426.3" width="5.8" height="7.1" fill="#0a0a0a"/>
<rect x="503.4" y="426.3" width="5.8" height="7.1" fill="#0a0a0a"/>
<rect x="287" y="301.4" width="19" height="3.1" fill="#0a0a0a"/>
<line x1="306.5" y1="301.9" x2="349.4" y2="301.9" stroke="#111" stroke-width="0.8" stroke-dasharray="2.8 1.5"/>
<line x1="306.5" y1="304.1" x2="349.4" y2="304.1" stroke="#111" stroke-width="0.8" stroke-dasharray="2.8 1.5"/>
<rect x="348.8" y="301.4" width="87.8" height="3.1" fill="#0a0a0a"/>
<line x1="436.6" y1="301.8" x2="453.5" y2="301.8" stroke="#111" stroke-width="0.9" stroke-dasharray="2.6 1.6"/>
<rect x="287" y="301.4" width="3" height="24" fill="#0a0a0a"/>
<line x1="287.4" y1="325.4" x2="287.4" y2="368.3" stroke="#111" stroke-width="0.8" stroke-dasharray="2.8 1.5"/>
<line x1="289.6" y1="325.4" x2="289.6" y2="368.3" stroke="#111" stroke-width="0.8" stroke-dasharray="2.8 1.5"/>
<rect x="287" y="368.3" width="3" height="22.7" fill="#0a0a0a"/>
<rect x="365.2" y="304.5" width="3" height="14.5" fill="#0a0a0a"/>
<rect x="365.2" y="336" width="3" height="55" fill="#0a0a0a"/>
<line x1="396.7" y1="310" x2="434.8" y2="310" stroke="#111" stroke-width="0.9"/>
<line x1="368.2" y1="316" x2="434.8" y2="316" stroke="#111" stroke-width="0.9"/>
<line x1="434.8" y1="304.5" x2="434.8" y2="316" stroke="#111" stroke-width="0.9"/>
<line x1="382.8" y1="304.5" x2="382.8" y2="316" stroke="#111" stroke-width="0.9"/>
<line x1="396.6" y1="304.5" x2="396.6" y2="316" stroke="#111" stroke-width="0.9"/>
<text x="369.2" y="314.6" font-size="3.3" textLength="8" lengthAdjust="spacingAndGlyphs" font-weight="bold">B.CL.</text>
<text x="384.6" y="314.6" font-size="3.3" textLength="10" lengthAdjust="spacingAndGlyphs" font-weight="bold">OVEN</text>
<rect x="368.2" y="338.9" width="12.6" height="19.1" fill="none" stroke="#111" stroke-width="0.9"/>
<text x="377.6" y="357" font-size="3.2" font-weight="bold" transform="rotate(-90 377.6 357)">REF'G.</text>
<path d="M375.1 339.3V383.6H389.6V389.3 M380.8 358V376.7H435" fill="none" stroke="#111" stroke-width="0.9" />
<rect x="395.9" y="377.7" width="17.1" height="10.6" fill="none" stroke="#111" stroke-width="1.3"/>
<line x1="404.4" y1="377.7" x2="404.4" y2="388.3" stroke="#111" stroke-width="1.2"/>
<rect x="415.5" y="376.7" width="19.5" height="12" fill="none" stroke="#111" stroke-width="0.8"/>
<line x1="426.6" y1="376.7" x2="426.6" y2="388.7" stroke="#111" stroke-width="0.7"/>
<line x1="415.5" y1="383" x2="435" y2="383" stroke="#111" stroke-width="0.7"/>
<text x="416.2" y="381.2" font-size="3.0" font-weight="bold">D.W.</text>
<rect x="402.5" y="339.3" width="32.1" height="16.4" fill="none" stroke="#111" stroke-width="0.9"/>
<rect x="410.6" y="343.6" width="15.9" height="10.8" fill="none" stroke="#111" stroke-width="0.9"/>
<text x="418.6" y="352.8" font-size="3.3" text-anchor="middle" font-weight="bold">RANGE</text>
<path d="M453.5 303V316H485.2" fill="none" stroke="#111" stroke-width="0.9" />
<line x1="453.5" y1="303.8" x2="485.2" y2="303.8" stroke="#111" stroke-width="0.8" stroke-dasharray="2.2 1.5"/>
<line x1="461.6" y1="304" x2="461.6" y2="316" stroke="#111" stroke-width="0.8" stroke-dasharray="2 1.4"/>
<line x1="477" y1="304" x2="477" y2="316" stroke="#111" stroke-width="0.8" stroke-dasharray="2 1.4"/>
<text x="468.2" y="314.6" font-size="3.3" textLength="9.6" lengthAdjust="spacingAndGlyphs" text-anchor="middle" font-weight="bold">DESK</text>
<rect x="485.2" y="297.6" width="2.6" height="20.2" fill="#0a0a0a"/>
<rect x="485.2" y="301.4" width="25.8" height="3.1" fill="#0a0a0a"/>
<line x1="487.8" y1="317.4" x2="508.4" y2="317.4" stroke="#111" stroke-width="0.9"/>
<text x="497" y="314.6" font-size="3.3" textLength="16" lengthAdjust="spacingAndGlyphs" text-anchor="middle" font-weight="bold">PANTRY</text>
<rect x="485.2" y="188" width="2.6" height="90.5" fill="#0a0a0a"/>
<rect x="487.8" y="190.6" width="22.8" height="31.4" fill="none" stroke="#111" stroke-width="0.9"/>
<text x="498.6" y="195.2" font-size="3.3" textLength="19" lengthAdjust="spacingAndGlyphs" text-anchor="middle" font-weight="bold">STORAGE</text>
<line x1="498.9" y1="196.7" x2="498.9" y2="215.7" stroke="#111" stroke-width="0.9"/>
<line x1="498.9" y1="215.7" x2="510.6" y2="215.7" stroke="#111" stroke-width="0.9"/>
<rect x="485.7" y="220.9" width="84.1" height="3" fill="#0a0a0a"/>
<rect x="508" y="223.7" width="2.9" height="54.6" fill="#0a0a0a"/>
<line x1="506.5" y1="223.9" x2="506.5" y2="275.7" stroke="#111" stroke-width="0.8"/>
<line x1="487.8" y1="233.8" x2="506.5" y2="233.8" stroke="#111" stroke-width="0.8"/>
<line x1="487.8" y1="238.5" x2="506.5" y2="238.5" stroke="#111" stroke-width="0.8"/>
<line x1="487.8" y1="243.1" x2="506.5" y2="243.1" stroke="#111" stroke-width="0.8"/>
<line x1="487.8" y1="247.8" x2="506.5" y2="247.8" stroke="#111" stroke-width="0.8"/>
<line x1="487.8" y1="252.4" x2="506.5" y2="252.4" stroke="#111" stroke-width="0.8"/>
<line x1="487.8" y1="257.1" x2="506.5" y2="257.1" stroke="#111" stroke-width="0.8"/>
<line x1="487.8" y1="261.7" x2="506.5" y2="261.7" stroke="#111" stroke-width="0.8"/>
<line x1="487.8" y1="266.4" x2="506.5" y2="266.4" stroke="#111" stroke-width="0.8"/>
<line x1="487.8" y1="271" x2="506.5" y2="271" stroke="#111" stroke-width="0.8"/>
<line x1="489" y1="275.6" x2="505" y2="275.6" stroke="#111" stroke-width="0.8"/>
<line x1="497.2" y1="254.5" x2="497.2" y2="281" stroke="#111" stroke-width="0.8"/>
<path d="M495.6 257.2l1.6-3.4l1.6 3.4z" fill="#111" stroke="#111" stroke-width="0.5" />
<path d="M488 228.2l9.5 1.8l1-2.6l1.2 4l1-1.6l5.5 1" fill="none" stroke="#111" stroke-width="0.7" />
<text x="497" y="285.4" font-size="3.4" text-anchor="middle" font-weight="bold">DN</text>
<rect x="485.2" y="278" width="2.6" height="3.8" fill="#0a0a0a"/>
<rect x="505" y="275.7" width="26" height="2.6" fill="#0a0a0a"/>
<rect x="511" y="223.9" width="11.5" height="31.3" fill="none" stroke="#111" stroke-width="0.9"/>
<circle cx="516.6" cy="239" r="5" fill="none" stroke="#111" stroke-width="0.9"/>
<rect x="511.8" y="260.3" width="4.3" height="9.7" fill="none" stroke="#111" stroke-width="0.9"/>
<rect x="516.1" y="262" width="10.3" height="6.4" fill="none" stroke="#111" stroke-width="0.9"/>
<text x="534" y="246.1" font-size="6.0" textLength="13.7" lengthAdjust="spacingAndGlyphs" text-anchor="middle">BATH</text>
<line x1="548.6" y1="244.4" x2="548.6" y2="275.7" stroke="#111" stroke-width="0.9"/>
<rect x="548.6" y="242" width="19.4" height="2.4" fill="#0a0a0a"/>
<rect x="565.2" y="240.7" width="2.8" height="37.6" fill="#0a0a0a"/>
<rect x="546.9" y="275.7" width="21.1" height="2.6" fill="#0a0a0a"/>
<rect x="568" y="260.9" width="6.3" height="2.3" fill="#0a0a0a"/>
<rect x="588" y="114.7" width="2.4" height="107.3" fill="#0a0a0a"/>
<rect x="586.6" y="221" width="6.4" height="2.7" fill="#0a0a0a"/>
<rect x="608.7" y="221.2" width="19.7" height="2.5" fill="#0a0a0a"/>
<rect x="644.3" y="221.2" width="14.2" height="2.5" fill="#0a0a0a"/>
<rect x="611.3" y="221.2" width="2.6" height="42.8" fill="#0a0a0a"/>
<line x1="619.7" y1="223.7" x2="619.7" y2="247" stroke="#111" stroke-width="0.9"/>
<line x1="653.5" y1="223.7" x2="653.5" y2="247" stroke="#111" stroke-width="0.9"/>
<rect x="611.3" y="246" width="47.2" height="3" fill="#0a0a0a"/>
<rect x="624.5" y="249" width="2.5" height="15" fill="#0a0a0a"/>
<rect x="605.3" y="261" width="21.7" height="2.8" fill="#0a0a0a"/>
<line x1="627" y1="262.8" x2="658.5" y2="262.8" stroke="#111" stroke-width="0.9"/>
<text x="619.3" y="259.8" font-size="3.0" textLength="9.6" lengthAdjust="spacingAndGlyphs" text-anchor="middle" font-weight="bold">LINEN</text>
<text x="650.4" y="256.6" font-size="3.4" font-weight="bold">CL.</text>
<text x="636" y="234.4" font-size="3.4" textLength="15" lengthAdjust="spacingAndGlyphs" text-anchor="middle" font-weight="bold">WALK IN</text>
<text x="636" y="238.8" font-size="3.4" textLength="15" lengthAdjust="spacingAndGlyphs" text-anchor="middle" font-weight="bold">CLOSET</text>
<text x="634.6" y="278.4" font-size="5.2" textLength="27" lengthAdjust="spacingAndGlyphs" text-anchor="middle">LAUNDRY</text>
<rect x="611.3" y="282.5" width="3.3" height="18.9" fill="#0a0a0a"/>
<rect x="614.6" y="287.6" width="43.9" height="13.8" fill="none" stroke="#111" stroke-width="0.9"/>
<line x1="626.2" y1="287.6" x2="626.2" y2="301.4" stroke="#111" stroke-width="0.9"/>
<line x1="642.1" y1="287.6" x2="642.1" y2="301.4" stroke="#111" stroke-width="0.9"/>
<line x1="614.6" y1="295.6" x2="658.5" y2="295.6" stroke="#111" stroke-width="0.7"/>
<text x="620.4" y="293.6" font-size="3.2" text-anchor="middle" font-weight="bold">L.T.</text>
<text x="635.2" y="293.6" font-size="3.2" text-anchor="middle" font-weight="bold">WASH.</text>
<text x="651" y="293.6" font-size="3.2" text-anchor="middle" font-weight="bold">DRY.</text>
<rect x="508.4" y="301.4" width="3.1" height="166.6" fill="#0a0a0a"/>
<rect x="511.5" y="301.4" width="37.3" height="3.1" fill="#0a0a0a"/>
<line x1="548.8" y1="301.8" x2="565.2" y2="301.8" stroke="#111" stroke-width="0.8"/>
<rect x="565.2" y="301.4" width="108.4" height="3.1" fill="#0a0a0a"/>
<rect x="670.6" y="301.4" width="3" height="16.4" fill="#0a0a0a"/>
<line x1="673" y1="317.8" x2="673" y2="336.7" stroke="#111" stroke-width="0.9"/>
<line x1="547.5" y1="339.8" x2="671.9" y2="339.8" stroke="#111" stroke-width="0.9"/>
<line x1="547.5" y1="339.8" x2="547.5" y2="465" stroke="#111" stroke-width="0.9"/>
<text x="569.6" y="345" font-size="3.2" text-anchor="middle" font-weight="bold">CURB</text>
<rect x="508.4" y="465.2" width="165.6" height="2.9" fill="#0a0a0a"/>
<rect x="544.3" y="465.6" width="17" height="2.2" fill="#aaa"/>
<rect x="619.7" y="465.6" width="17.3" height="2.2" fill="#aaa"/>
<rect x="671.5" y="451" width="2.5" height="17" fill="#0a0a0a"/>
<line x1="505.4" y1="433.2" x2="505.4" y2="471" stroke="#111" stroke-width="0.9"/>
<line x1="505.4" y1="471.2" x2="714.5" y2="471.2" stroke="#111" stroke-width="0.9"/>
<path d="M676 454V462.2H714.5V471.2" fill="none" stroke="#111" stroke-width="0.9" />
<text x="87.3" y="128" font-size="7.9" textLength="30" lengthAdjust="spacingAndGlyphs">MASTER</text>
<text x="87.3" y="136.5" font-size="7.9" textLength="30.7" lengthAdjust="spacingAndGlyphs">BED RM.</text>
<text x="87.3" y="147.6" font-size="7.9" textLength="29.5" lengthAdjust="spacingAndGlyphs"><tspan>15</tspan><tspan dy="-3.2" font-size="5.4">0</tspan><tspan dy="3.2"> x 17</tspan><tspan dy="-3.2" font-size="5.4">8</tspan></text>
<text x="85.4" y="286.2" font-size="7.9" textLength="31.3" lengthAdjust="spacingAndGlyphs">BED RM.</text>
<text x="85.4" y="297.5" font-size="7.9" textLength="28.7" lengthAdjust="spacingAndGlyphs"><tspan>11</tspan><tspan dy="-3.2" font-size="5.4">6</tspan><tspan dy="3.2"> x 12</tspan><tspan dy="-3.2" font-size="5.4">0</tspan></text>
<text x="83.9" y="410.8" font-size="7.9" textLength="27.7" lengthAdjust="spacingAndGlyphs">BED RM.</text>
<text x="83.9" y="422.1" font-size="7.9" textLength="27.7" lengthAdjust="spacingAndGlyphs"><tspan>11</tspan><tspan dy="-3.2" font-size="5.4">6</tspan><tspan dy="3.2"> x 16</tspan><tspan dy="-3.2" font-size="5.4">8</tspan></text>
<text x="160.3" y="402" font-size="7.9" textLength="28.2" lengthAdjust="spacingAndGlyphs">STUDY -</text>
<text x="160.3" y="410.9" font-size="7.9" textLength="29" lengthAdjust="spacingAndGlyphs">BED RM.</text>
<text x="160.3" y="422.2" font-size="7.9" textLength="27.5" lengthAdjust="spacingAndGlyphs"><tspan>11</tspan><tspan dy="-3.2" font-size="5.4">6</tspan><tspan dy="3.2"> x 13</tspan><tspan dy="-3.2" font-size="5.4">2</tspan></text>
<text x="237.7" y="206.6" font-size="7.9" textLength="39" lengthAdjust="spacingAndGlyphs">LIVING RM.</text>
<text x="237.7" y="217.7" font-size="7.9" textLength="33.3" lengthAdjust="spacingAndGlyphs"><tspan>20</tspan><tspan dy="-3.2" font-size="5.4">8</tspan><tspan dy="3.2"> x 13</tspan><tspan dy="-3.2" font-size="5.4">6</tspan></text>
<text x="434.9" y="203.3" font-size="7.9" textLength="39.6" lengthAdjust="spacingAndGlyphs">FAMILY RM.</text>
<text x="439.9" y="213.4" font-size="7.9" textLength="28.6" lengthAdjust="spacingAndGlyphs"><tspan>17</tspan><tspan dy="-3.2" font-size="5.4">0</tspan><tspan dy="3.2"> x 13</tspan><tspan dy="-3.2" font-size="5.4">6</tspan></text>
<text x="515.9" y="125.8" font-size="7.9" textLength="43.8" lengthAdjust="spacingAndGlyphs">SITTING RM.</text>
<text x="515.9" y="135.6" font-size="7.9" textLength="32.8" lengthAdjust="spacingAndGlyphs"><tspan>12</tspan><tspan dy="-3.2" font-size="5.4">4</tspan><tspan dy="3.2"> x 16</tspan><tspan dy="-3.2" font-size="5.4">10</tspan></text>
<text x="619.1" y="125.8" font-size="7.9" textLength="37.6" lengthAdjust="spacingAndGlyphs">GUEST RM.</text>
<text x="625.4" y="135.6" font-size="7.9" textLength="28.1" lengthAdjust="spacingAndGlyphs"><tspan>10</tspan><tspan dy="-3.2" font-size="5.4">8</tspan><tspan dy="3.2">x 16</tspan><tspan dy="-3.2" font-size="5.4">10</tspan></text>
<text x="295.1" y="315.4" font-size="7.9" textLength="40.1" lengthAdjust="spacingAndGlyphs">DINING RM.</text>
<text x="295.1" y="325.3" font-size="7.9" textLength="26.5" lengthAdjust="spacingAndGlyphs"><tspan>12</tspan><tspan dy="-3.2" font-size="5.4">0</tspan><tspan dy="3.2">x 13</tspan><tspan dy="-3.2" font-size="5.4">6</tspan></text>
<text x="388" y="363.5" font-size="7.9" textLength="31" lengthAdjust="spacingAndGlyphs">KITCHEN</text>
<text x="388" y="374.2" font-size="7.9" textLength="30.6" lengthAdjust="spacingAndGlyphs"><tspan>10</tspan><tspan dy="-3.2" font-size="5.4">6</tspan><tspan dy="3.2"> x 13</tspan><tspan dy="-3.2" font-size="5.4">6</tspan></text>
<text x="475.6" y="373.7" font-size="7.9" textLength="19.9" lengthAdjust="spacingAndGlyphs">NOOK</text>
<text x="475.6" y="384.7" font-size="7.9" textLength="26.2" lengthAdjust="spacingAndGlyphs"><tspan>11</tspan><tspan dy="-3.2" font-size="5.4">8</tspan><tspan dy="3.2">x 13</tspan><tspan dy="-3.2" font-size="5.4">6</tspan></text>
<text x="628" y="448" font-size="7.9" textLength="27.7" lengthAdjust="spacingAndGlyphs">GARAGE</text>
<text x="626.2" y="458.5" font-size="7.9" textLength="36" lengthAdjust="spacingAndGlyphs"><tspan>25</tspan><tspan dy="-3.2" font-size="5.4">4</tspan><tspan dy="3.2"> x 25</tspan><tspan dy="-3.2" font-size="5.4">6</tspan></text>
<text x="255.2" y="364.6" font-size="5.5" textLength="18.5" lengthAdjust="spacingAndGlyphs" text-anchor="middle">ENTRY</text>
<text x="368.8" y="412" font-size="5.8" textLength="18.5" lengthAdjust="spacingAndGlyphs" text-anchor="middle">PORCH</text>
<text x="369.1" y="145.5" font-size="6.3" textLength="25.8" lengthAdjust="spacingAndGlyphs" text-anchor="middle">TERRACE</text>
<text x="127" y="65.6" font-size="6.3" textLength="24.5" lengthAdjust="spacingAndGlyphs" text-anchor="middle">TERRACE</text>
<text x="553.2" y="291.5" font-size="5.4" textLength="29.6" lengthAdjust="spacingAndGlyphs" text-anchor="middle">SERV. ENT</text>
</svg>
</body></html>
